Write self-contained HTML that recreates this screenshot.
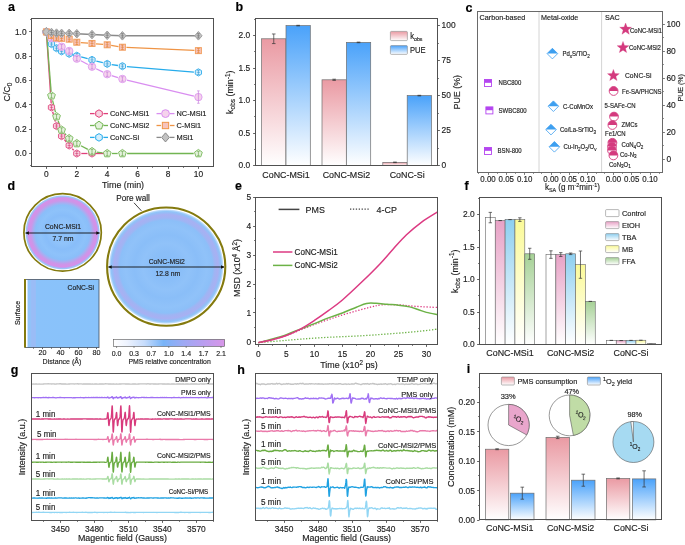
<!DOCTYPE html>
<html><head><meta charset="utf-8"><style>
html,body{margin:0;padding:0;background:#fff;width:685px;height:545px;overflow:hidden;}
svg{display:block;font-family:"Liberation Sans", sans-serif;will-change:transform;}
</style></head><body>
<svg width="685" height="545" viewBox="0 0 685 545" font-family='"Liberation Sans", sans-serif'>
<defs><linearGradient id="gpink" x1="0" y1="0" x2="0" y2="1"><stop offset="0" stop-color="#ea9aa3"/><stop offset="1" stop-color="#ffffff"/></linearGradient><linearGradient id="gblue" x1="0" y1="0" x2="0" y2="1"><stop offset="0" stop-color="#4aa2fa"/><stop offset="1" stop-color="#ffffff"/></linearGradient><radialGradient id="rg1" cx="0.5" cy="0.5" r="0.5">
<stop offset="0" stop-color="#8abff9"/><stop offset="0.3" stop-color="#90c3fa"/><stop offset="0.45" stop-color="#88bdf9"/><stop offset="0.6" stop-color="#8ec2fa"/><stop offset="0.72" stop-color="#8abef9"/>
<stop offset="0.77" stop-color="#a4b0f2"/><stop offset="0.84" stop-color="#cc96e8"/><stop offset="0.905" stop-color="#d690e8"/><stop offset="0.93" stop-color="#c09ef0"/>
<stop offset="0.945" stop-color="#a4bcf6"/><stop offset="0.962" stop-color="#9ac6f8"/><stop offset="0.978" stop-color="#d4e6fc"/><stop offset="0.99" stop-color="#ffffff"/><stop offset="1" stop-color="#ffffff"/></radialGradient><radialGradient id="rg2" cx="0.5" cy="0.5" r="0.5">
<stop offset="0" stop-color="#86bcf8"/><stop offset="0.25" stop-color="#8abef8"/><stop offset="0.4" stop-color="#90c2f9"/><stop offset="0.55" stop-color="#8abef8"/><stop offset="0.7" stop-color="#90c2f9"/><stop offset="0.8" stop-color="#8cbff8"/>
<stop offset="0.84" stop-color="#a0b4f3"/><stop offset="0.895" stop-color="#a8b0f2"/><stop offset="0.925" stop-color="#98baf6"/>
<stop offset="0.95" stop-color="#90c4f8"/><stop offset="0.975" stop-color="#c0dcfb"/><stop offset="0.99" stop-color="#ffffff"/><stop offset="1" stop-color="#ffffff"/></radialGradient><marker id="arw" viewBox="0 0 6 6" refX="5.5" refY="3" markerWidth="4" markerHeight="4" orient="auto-start-reverse"><path d="M0,0 L6,3 L0,6 z" fill="#111"/></marker><linearGradient id="gsurf" x1="0" y1="0" x2="1" y2="0"><stop offset="0" stop-color="#ffffff"/><stop offset="0.028" stop-color="#ffffff"/><stop offset="0.04" stop-color="#90c4f8"/><stop offset="0.075" stop-color="#92c2f8"/><stop offset="0.09" stop-color="#9abcf6"/><stop offset="0.14" stop-color="#9abcf6"/><stop offset="0.155" stop-color="#8ac2fa"/><stop offset="1" stop-color="#88c2fa"/></linearGradient><linearGradient id="gcb" x1="0" y1="0" x2="1" y2="0"><stop offset="0" stop-color="#ffffff"/><stop offset="0.12" stop-color="#eef3fe"/><stop offset="0.28" stop-color="#c6dcfc"/><stop offset="0.45" stop-color="#78b4f8"/><stop offset="0.62" stop-color="#9caaf4"/><stop offset="0.8" stop-color="#b89ef0"/><stop offset="1" stop-color="#d896e8"/></linearGradient><linearGradient id="gctl" x1="0" y1="0" x2="0" y2="1"><stop offset="0" stop-color="#ffffff"/><stop offset="1" stop-color="#ffffff"/></linearGradient><linearGradient id="getoh" x1="0" y1="0" x2="0" y2="1"><stop offset="0" stop-color="#e8a2c6"/><stop offset="1" stop-color="#ffffff"/></linearGradient><linearGradient id="gtba" x1="0" y1="0" x2="0" y2="1"><stop offset="0" stop-color="#8ecff0"/><stop offset="1" stop-color="#ffffff"/></linearGradient><linearGradient id="gmb" x1="0" y1="0" x2="0" y2="1"><stop offset="0" stop-color="#fbfa98"/><stop offset="1" stop-color="#ffffff"/></linearGradient><linearGradient id="gffa" x1="0" y1="0" x2="0" y2="1"><stop offset="0" stop-color="#a6d196"/><stop offset="1" stop-color="#ffffff"/></linearGradient></defs>
<rect width="685" height="545" fill="#ffffff"/>
<text x="8" y="11.2" font-size="12.5" text-anchor="start" fill="#000" stroke="#000" stroke-width="0.15" font-weight="bold" transform="translate(8 11.2) scale(1 1.08) translate(-8 -11.2)">a</text>
<line x1="46.5" y1="166.5" x2="46.5" y2="168.9" stroke="#505050" stroke-width="0.9"/>
<text x="46.4" y="177.4" font-size="8.4" text-anchor="middle" fill="#1e1e1e" stroke="#1e1e1e" stroke-width="0.15" transform="translate(46.4 177.4) scale(1 1.08) translate(-46.4 -177.4)">0</text>
<line x1="76.5" y1="166.5" x2="76.5" y2="168.9" stroke="#505050" stroke-width="0.9"/>
<text x="76.8" y="177.4" font-size="8.4" text-anchor="middle" fill="#1e1e1e" stroke="#1e1e1e" stroke-width="0.15" transform="translate(76.8 177.4) scale(1 1.08) translate(-76.8 -177.4)">2</text>
<line x1="107.5" y1="166.5" x2="107.5" y2="168.9" stroke="#505050" stroke-width="0.9"/>
<text x="107.2" y="177.4" font-size="8.4" text-anchor="middle" fill="#1e1e1e" stroke="#1e1e1e" stroke-width="0.15" transform="translate(107.2 177.4) scale(1 1.08) translate(-107.2 -177.4)">4</text>
<line x1="137.5" y1="166.5" x2="137.5" y2="168.9" stroke="#505050" stroke-width="0.9"/>
<text x="137.6" y="177.4" font-size="8.4" text-anchor="middle" fill="#1e1e1e" stroke="#1e1e1e" stroke-width="0.15" transform="translate(137.6 177.4) scale(1 1.08) translate(-137.6 -177.4)">6</text>
<line x1="168.5" y1="166.5" x2="168.5" y2="168.9" stroke="#505050" stroke-width="0.9"/>
<text x="168" y="177.4" font-size="8.4" text-anchor="middle" fill="#1e1e1e" stroke="#1e1e1e" stroke-width="0.15" transform="translate(168 177.4) scale(1 1.08) translate(-168 -177.4)">8</text>
<line x1="198.5" y1="166.5" x2="198.5" y2="168.9" stroke="#505050" stroke-width="0.9"/>
<text x="198.4" y="177.4" font-size="8.4" text-anchor="middle" fill="#1e1e1e" stroke="#1e1e1e" stroke-width="0.15" transform="translate(198.4 177.4) scale(1 1.08) translate(-198.4 -177.4)">10</text>
<line x1="61.5" y1="166.5" x2="61.5" y2="167.8" stroke="#505050" stroke-width="0.9"/>
<line x1="92.5" y1="166.5" x2="92.5" y2="167.8" stroke="#505050" stroke-width="0.9"/>
<line x1="122.5" y1="166.5" x2="122.5" y2="167.8" stroke="#505050" stroke-width="0.9"/>
<line x1="152.5" y1="166.5" x2="152.5" y2="167.8" stroke="#505050" stroke-width="0.9"/>
<line x1="183.5" y1="166.5" x2="183.5" y2="167.8" stroke="#505050" stroke-width="0.9"/>
<line x1="29.1" y1="153.5" x2="31.5" y2="153.5" stroke="#505050" stroke-width="0.9"/>
<text x="26.6" y="156.36" font-size="8.4" text-anchor="end" fill="#1e1e1e" stroke="#1e1e1e" stroke-width="0.15" transform="translate(26.6 156.36) scale(1 1.08) translate(-26.6 -156.36)">0.0</text>
<line x1="29.1" y1="129.5" x2="31.5" y2="129.5" stroke="#505050" stroke-width="0.9"/>
<text x="26.6" y="132.04" font-size="8.4" text-anchor="end" fill="#1e1e1e" stroke="#1e1e1e" stroke-width="0.15" transform="translate(26.6 132.04) scale(1 1.08) translate(-26.6 -132.04)">0.2</text>
<line x1="29.1" y1="104.5" x2="31.5" y2="104.5" stroke="#505050" stroke-width="0.9"/>
<text x="26.6" y="107.72" font-size="8.4" text-anchor="end" fill="#1e1e1e" stroke="#1e1e1e" stroke-width="0.15" transform="translate(26.6 107.72) scale(1 1.08) translate(-26.6 -107.72)">0.4</text>
<line x1="29.1" y1="80.5" x2="31.5" y2="80.5" stroke="#505050" stroke-width="0.9"/>
<text x="26.6" y="83.4" font-size="8.4" text-anchor="end" fill="#1e1e1e" stroke="#1e1e1e" stroke-width="0.15" transform="translate(26.6 83.4) scale(1 1.08) translate(-26.6 -83.4)">0.6</text>
<line x1="29.1" y1="56.5" x2="31.5" y2="56.5" stroke="#505050" stroke-width="0.9"/>
<text x="26.6" y="59.08" font-size="8.4" text-anchor="end" fill="#1e1e1e" stroke="#1e1e1e" stroke-width="0.15" transform="translate(26.6 59.08) scale(1 1.08) translate(-26.6 -59.08)">0.8</text>
<line x1="29.1" y1="31.5" x2="31.5" y2="31.5" stroke="#505050" stroke-width="0.9"/>
<text x="26.6" y="34.76" font-size="8.4" text-anchor="end" fill="#1e1e1e" stroke="#1e1e1e" stroke-width="0.15" transform="translate(26.6 34.76) scale(1 1.08) translate(-26.6 -34.76)">1.0</text>
<line x1="30.2" y1="165.5" x2="31.5" y2="165.5" stroke="#505050" stroke-width="0.9"/>
<line x1="30.2" y1="141.5" x2="31.5" y2="141.5" stroke="#505050" stroke-width="0.9"/>
<line x1="30.2" y1="117.5" x2="31.5" y2="117.5" stroke="#505050" stroke-width="0.9"/>
<line x1="30.2" y1="92.5" x2="31.5" y2="92.5" stroke="#505050" stroke-width="0.9"/>
<line x1="30.2" y1="68.5" x2="31.5" y2="68.5" stroke="#505050" stroke-width="0.9"/>
<line x1="30.2" y1="44.5" x2="31.5" y2="44.5" stroke="#505050" stroke-width="0.9"/>
<line x1="30.2" y1="19.5" x2="31.5" y2="19.5" stroke="#505050" stroke-width="0.9"/>
<text x="123" y="187.6" font-size="8.9" text-anchor="middle" fill="#1e1e1e" stroke="#1e1e1e" stroke-width="0.15" transform="translate(123 187.6) scale(1 1.08) translate(-123 -187.6)">Time (min)</text>
<text x="9.8" y="92" font-size="8.9" text-anchor="middle" fill="#1e1e1e" stroke="#1e1e1e" stroke-width="0.15" transform="translate(9.8 92) rotate(-90) scale(1 1.08) translate(-9.8 -92)">C/C<tspan font-size="6.5" dy="2">0</tspan></text>
<line x1="46.7" y1="36.39" x2="51.17" y2="102.92" stroke="#e0407a" stroke-width="1.3" stroke-linecap="butt"/>
<line x1="52.65" y1="111.76" x2="55.35" y2="121.68" stroke="#e0407a" stroke-width="1.3" stroke-linecap="butt"/>
<line x1="58.55" y1="130.04" x2="59.58" y2="132.09" stroke="#e0407a" stroke-width="1.3" stroke-linecap="butt"/>
<line x1="64.44" y1="139.61" x2="66.36" y2="141.98" stroke="#e0407a" stroke-width="1.3" stroke-linecap="butt"/>
<line x1="72.29" y1="148.74" x2="73.71" y2="150.23" stroke="#e0407a" stroke-width="1.3" stroke-linecap="butt"/>
<line x1="81.3" y1="153.5" x2="87.5" y2="153.5" stroke="#e0407a" stroke-width="1.3" stroke-linecap="butt"/>
<line x1="92.1" y1="153.5" x2="107.1" y2="153.5" stroke="#e0407a" stroke-width="1.3" stroke-linecap="butt"/>
<line x1="46.77" y1="36.59" x2="51.09" y2="91.05" stroke="#72b552" stroke-width="1.3" stroke-linecap="butt"/>
<line x1="52.57" y1="100.31" x2="55.43" y2="112.09" stroke="#72b552" stroke-width="1.3" stroke-linecap="butt"/>
<line x1="58.2" y1="121.05" x2="59.94" y2="125.64" stroke="#72b552" stroke-width="1.3" stroke-linecap="butt"/>
<line x1="64.73" y1="133.54" x2="66.07" y2="135.04" stroke="#72b552" stroke-width="1.3" stroke-linecap="butt"/>
<line x1="80.96" y1="145.72" x2="87.84" y2="149.36" stroke="#72b552" stroke-width="1.3" stroke-linecap="butt"/>
<line x1="96.66" y1="152.15" x2="102.54" y2="152.9" stroke="#72b552" stroke-width="1.3" stroke-linecap="butt"/>
<line x1="111.9" y1="153.5" x2="117.7" y2="153.5" stroke="#72b552" stroke-width="1.3" stroke-linecap="butt"/>
<line x1="127.1" y1="153.5" x2="193.7" y2="153.5" stroke="#72b552" stroke-width="1.3" stroke-linecap="butt"/>
<line x1="48.13" y1="36.05" x2="49.74" y2="39.91" stroke="#27aceb" stroke-width="1.3" stroke-linecap="butt"/>
<line x1="81.14" y1="56.91" x2="87.66" y2="58.69" stroke="#27aceb" stroke-width="1.3" stroke-linecap="butt"/>
<line x1="96.35" y1="61.02" x2="102.85" y2="62.73" stroke="#27aceb" stroke-width="1.3" stroke-linecap="butt"/>
<line x1="111.65" y1="64.56" x2="117.95" y2="65.51" stroke="#27aceb" stroke-width="1.3" stroke-linecap="butt"/>
<line x1="126.89" y1="66.56" x2="193.91" y2="72.03" stroke="#27aceb" stroke-width="1.3" stroke-linecap="butt"/>
<line x1="58.91" y1="42.28" x2="59.22" y2="42.8" stroke="#d98ef0" stroke-width="1.3" stroke-linecap="butt"/>
<line x1="72.44" y1="54.26" x2="73.56" y2="55.39" stroke="#d98ef0" stroke-width="1.3" stroke-linecap="butt"/>
<line x1="80.87" y1="60.8" x2="87.93" y2="64.53" stroke="#d98ef0" stroke-width="1.3" stroke-linecap="butt"/>
<line x1="96.12" y1="68.72" x2="103.08" y2="72.17" stroke="#d98ef0" stroke-width="1.3" stroke-linecap="butt"/>
<line x1="111.59" y1="75.59" x2="118.01" y2="77.59" stroke="#d98ef0" stroke-width="1.3" stroke-linecap="butt"/>
<line x1="126.87" y1="80.03" x2="193.93" y2="96.01" stroke="#d98ef0" stroke-width="1.3" stroke-linecap="butt"/>
<line x1="80.79" y1="42.55" x2="88.01" y2="43.13" stroke="#ef9445" stroke-width="1.3" stroke-linecap="butt"/>
<line x1="95.98" y1="43.8" x2="103.22" y2="44.44" stroke="#ef9445" stroke-width="1.3" stroke-linecap="butt"/>
<line x1="111.15" y1="45.42" x2="118.45" y2="46.59" stroke="#ef9445" stroke-width="1.3" stroke-linecap="butt"/>
<line x1="126.4" y1="47.4" x2="194.4" y2="50.45" stroke="#ef9445" stroke-width="1.3" stroke-linecap="butt"/>
<line x1="46.4" y1="31.9" x2="51.47" y2="32.51" stroke="#8a8a8a" stroke-width="1.5" stroke-linecap="butt"/>
<line x1="51.47" y1="32.51" x2="56.53" y2="33.12" stroke="#8a8a8a" stroke-width="1.5" stroke-linecap="butt"/>
<line x1="56.53" y1="33.12" x2="61.6" y2="33.36" stroke="#8a8a8a" stroke-width="1.5" stroke-linecap="butt"/>
<line x1="61.6" y1="33.36" x2="69.2" y2="33.36" stroke="#8a8a8a" stroke-width="1.5" stroke-linecap="butt"/>
<line x1="69.2" y1="33.36" x2="76.8" y2="33.72" stroke="#8a8a8a" stroke-width="1.5" stroke-linecap="butt"/>
<line x1="76.8" y1="33.72" x2="92" y2="34.58" stroke="#8a8a8a" stroke-width="1.5" stroke-linecap="butt"/>
<line x1="92" y1="34.58" x2="107.2" y2="35.3" stroke="#8a8a8a" stroke-width="1.5" stroke-linecap="butt"/>
<line x1="107.2" y1="35.3" x2="122.4" y2="35.79" stroke="#8a8a8a" stroke-width="1.5" stroke-linecap="butt"/>
<line x1="122.4" y1="35.79" x2="198.4" y2="35.79" stroke="#8a8a8a" stroke-width="1.5" stroke-linecap="butt"/>
<polygon points="46.4,28.3 49.52,30.1 49.52,33.7 46.4,35.5 43.28,33.7 43.28,30.1" fill="#f7d3e0" stroke="#e45a8c" stroke-width="1.0"/>
<polygon points="51.47,103.81 54.58,105.61 54.58,109.21 51.47,111.01 48.35,109.21 48.35,105.61" fill="#f7d3e0" stroke="#e45a8c" stroke-width="1.0"/>
<line x1="51.47" y1="105.21" x2="51.47" y2="109.61" stroke="#d0306a" stroke-width="0.6"/>
<line x1="50.17" y1="105.21" x2="52.77" y2="105.21" stroke="#d0306a" stroke-width="0.6"/>
<line x1="50.17" y1="109.61" x2="52.77" y2="109.61" stroke="#d0306a" stroke-width="0.6"/>
<line x1="49.87" y1="107.41" x2="53.07" y2="107.41" stroke="#d0306a" stroke-width="0.5"/>
<polygon points="56.53,122.42 59.65,124.22 59.65,127.82 56.53,129.62 53.42,127.82 53.42,124.22" fill="#f7d3e0" stroke="#e45a8c" stroke-width="1.0"/>
<line x1="56.53" y1="123.82" x2="56.53" y2="128.22" stroke="#d0306a" stroke-width="0.6"/>
<line x1="55.23" y1="123.82" x2="57.83" y2="123.82" stroke="#d0306a" stroke-width="0.6"/>
<line x1="55.23" y1="128.22" x2="57.83" y2="128.22" stroke="#d0306a" stroke-width="0.6"/>
<line x1="54.93" y1="126.02" x2="58.13" y2="126.02" stroke="#d0306a" stroke-width="0.5"/>
<polygon points="61.6,132.51 64.72,134.31 64.72,137.91 61.6,139.71 58.48,137.91 58.48,134.31" fill="#f7d3e0" stroke="#e45a8c" stroke-width="1.0"/>
<line x1="61.6" y1="133.91" x2="61.6" y2="138.31" stroke="#d0306a" stroke-width="0.6"/>
<line x1="60.3" y1="133.91" x2="62.9" y2="133.91" stroke="#d0306a" stroke-width="0.6"/>
<line x1="60.3" y1="138.31" x2="62.9" y2="138.31" stroke="#d0306a" stroke-width="0.6"/>
<line x1="60" y1="136.11" x2="63.2" y2="136.11" stroke="#d0306a" stroke-width="0.5"/>
<polygon points="69.2,141.87 72.32,143.67 72.32,147.27 69.2,149.07 66.08,147.27 66.08,143.67" fill="#f7d3e0" stroke="#e45a8c" stroke-width="1.0"/>
<line x1="69.2" y1="143.27" x2="69.2" y2="147.67" stroke="#d0306a" stroke-width="0.6"/>
<line x1="67.9" y1="143.27" x2="70.5" y2="143.27" stroke="#d0306a" stroke-width="0.6"/>
<line x1="67.9" y1="147.67" x2="70.5" y2="147.67" stroke="#d0306a" stroke-width="0.6"/>
<line x1="67.6" y1="145.47" x2="70.8" y2="145.47" stroke="#d0306a" stroke-width="0.5"/>
<polygon points="76.8,149.9 79.92,151.7 79.92,155.3 76.8,157.1 73.68,155.3 73.68,151.7" fill="#f7d3e0" stroke="#e45a8c" stroke-width="1.0"/>
<line x1="76.8" y1="151.3" x2="76.8" y2="155.7" stroke="#d0306a" stroke-width="0.6"/>
<line x1="75.5" y1="151.3" x2="78.1" y2="151.3" stroke="#d0306a" stroke-width="0.6"/>
<line x1="75.5" y1="155.7" x2="78.1" y2="155.7" stroke="#d0306a" stroke-width="0.6"/>
<line x1="75.2" y1="153.5" x2="78.4" y2="153.5" stroke="#d0306a" stroke-width="0.5"/>
<polygon points="92,149.9 95.12,151.7 95.12,155.3 92,157.1 88.88,155.3 88.88,151.7" fill="#f7d3e0" stroke="#e45a8c" stroke-width="1.0"/>
<line x1="92" y1="151.3" x2="92" y2="155.7" stroke="#d0306a" stroke-width="0.6"/>
<line x1="90.7" y1="151.3" x2="93.3" y2="151.3" stroke="#d0306a" stroke-width="0.6"/>
<line x1="90.7" y1="155.7" x2="93.3" y2="155.7" stroke="#d0306a" stroke-width="0.6"/>
<line x1="90.4" y1="153.5" x2="93.6" y2="153.5" stroke="#d0306a" stroke-width="0.5"/>
<polygon points="46.4,27.81 50.29,30.63 48.81,35.21 43.99,35.21 42.51,30.63" fill="#e3f1db" stroke="#84bf68" stroke-width="1.0"/>
<polygon points="51.47,91.65 55.36,94.47 53.87,99.05 49.06,99.05 47.57,94.47" fill="#e3f1db" stroke="#84bf68" stroke-width="1.0"/>
<line x1="51.47" y1="93.54" x2="51.47" y2="97.94" stroke="#5fa040" stroke-width="0.6"/>
<line x1="50.17" y1="93.54" x2="52.77" y2="93.54" stroke="#5fa040" stroke-width="0.6"/>
<line x1="50.17" y1="97.94" x2="52.77" y2="97.94" stroke="#5fa040" stroke-width="0.6"/>
<polygon points="56.53,112.56 60.43,115.39 58.94,119.97 54.13,119.97 52.64,115.39" fill="#e3f1db" stroke="#84bf68" stroke-width="1.0"/>
<line x1="56.53" y1="114.46" x2="56.53" y2="118.86" stroke="#5fa040" stroke-width="0.6"/>
<line x1="55.23" y1="114.46" x2="57.83" y2="114.46" stroke="#5fa040" stroke-width="0.6"/>
<line x1="55.23" y1="118.86" x2="57.83" y2="118.86" stroke="#5fa040" stroke-width="0.6"/>
<polygon points="61.6,125.94 65.49,128.77 64.01,133.34 59.19,133.34 57.71,128.77" fill="#e3f1db" stroke="#84bf68" stroke-width="1.0"/>
<line x1="61.6" y1="127.83" x2="61.6" y2="132.23" stroke="#5fa040" stroke-width="0.6"/>
<line x1="60.3" y1="127.83" x2="62.9" y2="127.83" stroke="#5fa040" stroke-width="0.6"/>
<line x1="60.3" y1="132.23" x2="62.9" y2="132.23" stroke="#5fa040" stroke-width="0.6"/>
<polygon points="69.2,134.45 73.09,137.28 71.61,141.86 66.79,141.86 65.31,137.28" fill="#e3f1db" stroke="#84bf68" stroke-width="1.0"/>
<line x1="69.2" y1="136.34" x2="69.2" y2="140.74" stroke="#5fa040" stroke-width="0.6"/>
<line x1="67.9" y1="136.34" x2="70.5" y2="136.34" stroke="#5fa040" stroke-width="0.6"/>
<line x1="67.9" y1="140.74" x2="70.5" y2="140.74" stroke="#5fa040" stroke-width="0.6"/>
<polygon points="76.8,139.43 80.69,142.26 79.21,146.84 74.39,146.84 72.91,142.26" fill="#e3f1db" stroke="#84bf68" stroke-width="1.0"/>
<line x1="76.8" y1="141.33" x2="76.8" y2="145.73" stroke="#5fa040" stroke-width="0.6"/>
<line x1="75.5" y1="141.33" x2="78.1" y2="141.33" stroke="#5fa040" stroke-width="0.6"/>
<line x1="75.5" y1="145.73" x2="78.1" y2="145.73" stroke="#5fa040" stroke-width="0.6"/>
<polygon points="92,147.46 95.89,150.29 94.41,154.87 89.59,154.87 88.11,150.29" fill="#e3f1db" stroke="#84bf68" stroke-width="1.0"/>
<line x1="92" y1="149.35" x2="92" y2="153.75" stroke="#5fa040" stroke-width="0.6"/>
<line x1="90.7" y1="149.35" x2="93.3" y2="149.35" stroke="#5fa040" stroke-width="0.6"/>
<line x1="90.7" y1="153.75" x2="93.3" y2="153.75" stroke="#5fa040" stroke-width="0.6"/>
<polygon points="107.2,149.41 111.09,152.23 109.61,156.81 104.79,156.81 103.31,152.23" fill="#e3f1db" stroke="#84bf68" stroke-width="1.0"/>
<line x1="107.2" y1="151.3" x2="107.2" y2="155.7" stroke="#5fa040" stroke-width="0.6"/>
<line x1="105.9" y1="151.3" x2="108.5" y2="151.3" stroke="#5fa040" stroke-width="0.6"/>
<line x1="105.9" y1="155.7" x2="108.5" y2="155.7" stroke="#5fa040" stroke-width="0.6"/>
<polygon points="122.4,149.41 126.29,152.23 124.81,156.81 119.99,156.81 118.51,152.23" fill="#e3f1db" stroke="#84bf68" stroke-width="1.0"/>
<line x1="122.4" y1="151.3" x2="122.4" y2="155.7" stroke="#5fa040" stroke-width="0.6"/>
<line x1="121.1" y1="151.3" x2="123.7" y2="151.3" stroke="#5fa040" stroke-width="0.6"/>
<line x1="121.1" y1="155.7" x2="123.7" y2="155.7" stroke="#5fa040" stroke-width="0.6"/>
<polygon points="198.4,149.41 202.29,152.23 200.81,156.81 195.99,156.81 194.51,152.23" fill="#e3f1db" stroke="#84bf68" stroke-width="1.0"/>
<line x1="198.4" y1="151.3" x2="198.4" y2="155.7" stroke="#5fa040" stroke-width="0.6"/>
<line x1="197.1" y1="151.3" x2="199.7" y2="151.3" stroke="#5fa040" stroke-width="0.6"/>
<line x1="197.1" y1="155.7" x2="199.7" y2="155.7" stroke="#5fa040" stroke-width="0.6"/>
<polygon points="46.4,28.3 49.52,30.1 49.52,33.7 46.4,35.5 43.28,33.7 43.28,30.1" fill="#d5eefc" stroke="#40b4ee" stroke-width="1.0"/>
<polygon points="51.47,40.46 54.58,42.26 54.58,45.86 51.47,47.66 48.35,45.86 48.35,42.26" fill="#d5eefc" stroke="#40b4ee" stroke-width="1.0"/>
<line x1="51.47" y1="41.86" x2="51.47" y2="46.26" stroke="#2090d0" stroke-width="0.6"/>
<line x1="50.17" y1="41.86" x2="52.77" y2="41.86" stroke="#2090d0" stroke-width="0.6"/>
<line x1="50.17" y1="46.26" x2="52.77" y2="46.26" stroke="#2090d0" stroke-width="0.6"/>
<line x1="49.87" y1="44.06" x2="53.07" y2="44.06" stroke="#2090d0" stroke-width="0.5"/>
<polygon points="56.53,44.59 59.65,46.39 59.65,49.99 56.53,51.79 53.42,49.99 53.42,46.39" fill="#d5eefc" stroke="#40b4ee" stroke-width="1.0"/>
<line x1="56.53" y1="45.99" x2="56.53" y2="50.39" stroke="#2090d0" stroke-width="0.6"/>
<line x1="55.23" y1="45.99" x2="57.83" y2="45.99" stroke="#2090d0" stroke-width="0.6"/>
<line x1="55.23" y1="50.39" x2="57.83" y2="50.39" stroke="#2090d0" stroke-width="0.6"/>
<line x1="54.93" y1="48.19" x2="58.13" y2="48.19" stroke="#2090d0" stroke-width="0.5"/>
<polygon points="61.6,47.76 64.72,49.56 64.72,53.16 61.6,54.96 58.48,53.16 58.48,49.56" fill="#d5eefc" stroke="#40b4ee" stroke-width="1.0"/>
<line x1="61.6" y1="49.16" x2="61.6" y2="53.56" stroke="#2090d0" stroke-width="0.6"/>
<line x1="60.3" y1="49.16" x2="62.9" y2="49.16" stroke="#2090d0" stroke-width="0.6"/>
<line x1="60.3" y1="53.56" x2="62.9" y2="53.56" stroke="#2090d0" stroke-width="0.6"/>
<line x1="60" y1="51.36" x2="63.2" y2="51.36" stroke="#2090d0" stroke-width="0.5"/>
<polygon points="69.2,50.19 72.32,51.99 72.32,55.59 69.2,57.39 66.08,55.59 66.08,51.99" fill="#d5eefc" stroke="#40b4ee" stroke-width="1.0"/>
<line x1="69.2" y1="51.59" x2="69.2" y2="55.99" stroke="#2090d0" stroke-width="0.6"/>
<line x1="67.9" y1="51.59" x2="70.5" y2="51.59" stroke="#2090d0" stroke-width="0.6"/>
<line x1="67.9" y1="55.99" x2="70.5" y2="55.99" stroke="#2090d0" stroke-width="0.6"/>
<line x1="67.6" y1="53.79" x2="70.8" y2="53.79" stroke="#2090d0" stroke-width="0.5"/>
<polygon points="76.8,52.13 79.92,53.93 79.92,57.53 76.8,59.33 73.68,57.53 73.68,53.93" fill="#d5eefc" stroke="#40b4ee" stroke-width="1.0"/>
<line x1="76.8" y1="53.53" x2="76.8" y2="57.93" stroke="#2090d0" stroke-width="0.6"/>
<line x1="75.5" y1="53.53" x2="78.1" y2="53.53" stroke="#2090d0" stroke-width="0.6"/>
<line x1="75.5" y1="57.93" x2="78.1" y2="57.93" stroke="#2090d0" stroke-width="0.6"/>
<line x1="75.2" y1="55.73" x2="78.4" y2="55.73" stroke="#2090d0" stroke-width="0.5"/>
<polygon points="92,56.27 95.12,58.07 95.12,61.67 92,63.47 88.88,61.67 88.88,58.07" fill="#d5eefc" stroke="#40b4ee" stroke-width="1.0"/>
<line x1="92" y1="57.67" x2="92" y2="62.07" stroke="#2090d0" stroke-width="0.6"/>
<line x1="90.7" y1="57.67" x2="93.3" y2="57.67" stroke="#2090d0" stroke-width="0.6"/>
<line x1="90.7" y1="62.07" x2="93.3" y2="62.07" stroke="#2090d0" stroke-width="0.6"/>
<line x1="90.4" y1="59.87" x2="93.6" y2="59.87" stroke="#2090d0" stroke-width="0.5"/>
<polygon points="107.2,60.28 110.32,62.08 110.32,65.68 107.2,67.48 104.08,65.68 104.08,62.08" fill="#d5eefc" stroke="#40b4ee" stroke-width="1.0"/>
<line x1="107.2" y1="61.68" x2="107.2" y2="66.08" stroke="#2090d0" stroke-width="0.6"/>
<line x1="105.9" y1="61.68" x2="108.5" y2="61.68" stroke="#2090d0" stroke-width="0.6"/>
<line x1="105.9" y1="66.08" x2="108.5" y2="66.08" stroke="#2090d0" stroke-width="0.6"/>
<line x1="105.6" y1="63.88" x2="108.8" y2="63.88" stroke="#2090d0" stroke-width="0.5"/>
<polygon points="122.4,62.59 125.52,64.39 125.52,67.99 122.4,69.79 119.28,67.99 119.28,64.39" fill="#d5eefc" stroke="#40b4ee" stroke-width="1.0"/>
<line x1="122.4" y1="63.99" x2="122.4" y2="68.39" stroke="#2090d0" stroke-width="0.6"/>
<line x1="121.1" y1="63.99" x2="123.7" y2="63.99" stroke="#2090d0" stroke-width="0.6"/>
<line x1="121.1" y1="68.39" x2="123.7" y2="68.39" stroke="#2090d0" stroke-width="0.6"/>
<line x1="120.8" y1="66.19" x2="124" y2="66.19" stroke="#2090d0" stroke-width="0.5"/>
<polygon points="198.4,68.79 201.52,70.59 201.52,74.19 198.4,75.99 195.28,74.19 195.28,70.59" fill="#d5eefc" stroke="#40b4ee" stroke-width="1.0"/>
<line x1="198.4" y1="70.19" x2="198.4" y2="74.59" stroke="#2090d0" stroke-width="0.6"/>
<line x1="197.1" y1="70.19" x2="199.7" y2="70.19" stroke="#2090d0" stroke-width="0.6"/>
<line x1="197.1" y1="74.59" x2="199.7" y2="74.59" stroke="#2090d0" stroke-width="0.6"/>
<line x1="196.8" y1="72.39" x2="200" y2="72.39" stroke="#2090d0" stroke-width="0.5"/>
<circle cx="46.4" cy="31.9" r="3.7" fill="#f5d3ec" stroke="#e0a0f0" stroke-width="1.0"/>
<circle cx="51.47" cy="37.98" r="3.7" fill="#f5d3ec" stroke="#e0a0f0" stroke-width="1.0"/>
<line x1="51.47" y1="35.78" x2="51.47" y2="40.18" stroke="#c070d8" stroke-width="0.6"/>
<line x1="50.17" y1="35.78" x2="52.77" y2="35.78" stroke="#c070d8" stroke-width="0.6"/>
<line x1="50.17" y1="40.18" x2="52.77" y2="40.18" stroke="#c070d8" stroke-width="0.6"/>
<circle cx="56.53" cy="38.34" r="3.7" fill="#f5d3ec" stroke="#e0a0f0" stroke-width="1.0"/>
<line x1="56.53" y1="36.14" x2="56.53" y2="40.54" stroke="#c070d8" stroke-width="0.6"/>
<line x1="55.23" y1="36.14" x2="57.83" y2="36.14" stroke="#c070d8" stroke-width="0.6"/>
<line x1="55.23" y1="40.54" x2="57.83" y2="40.54" stroke="#c070d8" stroke-width="0.6"/>
<circle cx="61.6" cy="46.74" r="3.7" fill="#f5d3ec" stroke="#e0a0f0" stroke-width="1.0"/>
<line x1="61.6" y1="44.54" x2="61.6" y2="48.94" stroke="#c070d8" stroke-width="0.6"/>
<line x1="60.3" y1="44.54" x2="62.9" y2="44.54" stroke="#c070d8" stroke-width="0.6"/>
<line x1="60.3" y1="48.94" x2="62.9" y2="48.94" stroke="#c070d8" stroke-width="0.6"/>
<circle cx="69.2" cy="50.99" r="3.7" fill="#f5d3ec" stroke="#e0a0f0" stroke-width="1.0"/>
<line x1="69.2" y1="48.79" x2="69.2" y2="53.19" stroke="#c070d8" stroke-width="0.6"/>
<line x1="67.9" y1="48.79" x2="70.5" y2="48.79" stroke="#c070d8" stroke-width="0.6"/>
<line x1="67.9" y1="53.19" x2="70.5" y2="53.19" stroke="#c070d8" stroke-width="0.6"/>
<circle cx="76.8" cy="58.65" r="3.7" fill="#f5d3ec" stroke="#e0a0f0" stroke-width="1.0"/>
<line x1="76.8" y1="56.45" x2="76.8" y2="60.85" stroke="#c070d8" stroke-width="0.6"/>
<line x1="75.5" y1="56.45" x2="78.1" y2="56.45" stroke="#c070d8" stroke-width="0.6"/>
<line x1="75.5" y1="60.85" x2="78.1" y2="60.85" stroke="#c070d8" stroke-width="0.6"/>
<circle cx="92" cy="66.68" r="3.7" fill="#f5d3ec" stroke="#e0a0f0" stroke-width="1.0"/>
<line x1="92" y1="64.48" x2="92" y2="68.88" stroke="#c070d8" stroke-width="0.6"/>
<line x1="90.7" y1="64.48" x2="93.3" y2="64.48" stroke="#c070d8" stroke-width="0.6"/>
<line x1="90.7" y1="68.88" x2="93.3" y2="68.88" stroke="#c070d8" stroke-width="0.6"/>
<circle cx="107.2" cy="74.22" r="3.7" fill="#f5d3ec" stroke="#e0a0f0" stroke-width="1.0"/>
<line x1="107.2" y1="72.02" x2="107.2" y2="76.42" stroke="#c070d8" stroke-width="0.6"/>
<line x1="105.9" y1="72.02" x2="108.5" y2="72.02" stroke="#c070d8" stroke-width="0.6"/>
<line x1="105.9" y1="76.42" x2="108.5" y2="76.42" stroke="#c070d8" stroke-width="0.6"/>
<circle cx="122.4" cy="78.96" r="3.7" fill="#f5d3ec" stroke="#e0a0f0" stroke-width="1.0"/>
<line x1="122.4" y1="76.76" x2="122.4" y2="81.16" stroke="#c070d8" stroke-width="0.6"/>
<line x1="121.1" y1="76.76" x2="123.7" y2="76.76" stroke="#c070d8" stroke-width="0.6"/>
<line x1="121.1" y1="81.16" x2="123.7" y2="81.16" stroke="#c070d8" stroke-width="0.6"/>
<circle cx="198.4" cy="97.08" r="3.7" fill="#f5d3ec" stroke="#e0a0f0" stroke-width="1.0"/>
<line x1="198.4" y1="90.88" x2="198.4" y2="103.28" stroke="#c070d8" stroke-width="0.6"/>
<line x1="197.1" y1="90.88" x2="199.7" y2="90.88" stroke="#c070d8" stroke-width="0.6"/>
<line x1="197.1" y1="103.28" x2="199.7" y2="103.28" stroke="#c070d8" stroke-width="0.6"/>
<rect x="43.41" y="28.91" width="5.98" height="5.98" fill="#f6c3bd" stroke="#f2a060" stroke-width="1.0"/>
<rect x="48.47" y="32.56" width="5.98" height="5.98" fill="#f6c3bd" stroke="#f2a060" stroke-width="1.0"/>
<line x1="51.47" y1="33.35" x2="51.47" y2="37.75" stroke="#e07a20" stroke-width="0.6"/>
<line x1="50.17" y1="33.35" x2="52.77" y2="33.35" stroke="#e07a20" stroke-width="0.6"/>
<line x1="50.17" y1="37.75" x2="52.77" y2="37.75" stroke="#e07a20" stroke-width="0.6"/>
<line x1="49.87" y1="35.55" x2="53.07" y2="35.55" stroke="#e07a20" stroke-width="0.5"/>
<rect x="53.54" y="34.99" width="5.98" height="5.98" fill="#f6c3bd" stroke="#f2a060" stroke-width="1.0"/>
<line x1="56.53" y1="35.78" x2="56.53" y2="40.18" stroke="#e07a20" stroke-width="0.6"/>
<line x1="55.23" y1="35.78" x2="57.83" y2="35.78" stroke="#e07a20" stroke-width="0.6"/>
<line x1="55.23" y1="40.18" x2="57.83" y2="40.18" stroke="#e07a20" stroke-width="0.6"/>
<line x1="54.93" y1="37.98" x2="58.13" y2="37.98" stroke="#e07a20" stroke-width="0.5"/>
<rect x="58.61" y="35.35" width="5.98" height="5.98" fill="#f6c3bd" stroke="#f2a060" stroke-width="1.0"/>
<line x1="61.6" y1="36.14" x2="61.6" y2="40.54" stroke="#e07a20" stroke-width="0.6"/>
<line x1="60.3" y1="36.14" x2="62.9" y2="36.14" stroke="#e07a20" stroke-width="0.6"/>
<line x1="60.3" y1="40.54" x2="62.9" y2="40.54" stroke="#e07a20" stroke-width="0.6"/>
<line x1="60" y1="38.34" x2="63.2" y2="38.34" stroke="#e07a20" stroke-width="0.5"/>
<rect x="66.21" y="36.2" width="5.98" height="5.98" fill="#f6c3bd" stroke="#f2a060" stroke-width="1.0"/>
<line x1="69.2" y1="37" x2="69.2" y2="41.4" stroke="#e07a20" stroke-width="0.6"/>
<line x1="67.9" y1="37" x2="70.5" y2="37" stroke="#e07a20" stroke-width="0.6"/>
<line x1="67.9" y1="41.4" x2="70.5" y2="41.4" stroke="#e07a20" stroke-width="0.6"/>
<line x1="67.6" y1="39.2" x2="70.8" y2="39.2" stroke="#e07a20" stroke-width="0.5"/>
<rect x="73.81" y="39.24" width="5.98" height="5.98" fill="#f6c3bd" stroke="#f2a060" stroke-width="1.0"/>
<line x1="76.8" y1="40.04" x2="76.8" y2="44.44" stroke="#e07a20" stroke-width="0.6"/>
<line x1="75.5" y1="40.04" x2="78.1" y2="40.04" stroke="#e07a20" stroke-width="0.6"/>
<line x1="75.5" y1="44.44" x2="78.1" y2="44.44" stroke="#e07a20" stroke-width="0.6"/>
<line x1="75.2" y1="42.24" x2="78.4" y2="42.24" stroke="#e07a20" stroke-width="0.5"/>
<rect x="89.01" y="40.46" width="5.98" height="5.98" fill="#f6c3bd" stroke="#f2a060" stroke-width="1.0"/>
<line x1="92" y1="41.25" x2="92" y2="45.65" stroke="#e07a20" stroke-width="0.6"/>
<line x1="90.7" y1="41.25" x2="93.3" y2="41.25" stroke="#e07a20" stroke-width="0.6"/>
<line x1="90.7" y1="45.65" x2="93.3" y2="45.65" stroke="#e07a20" stroke-width="0.6"/>
<line x1="90.4" y1="43.45" x2="93.6" y2="43.45" stroke="#e07a20" stroke-width="0.5"/>
<rect x="104.21" y="41.8" width="5.98" height="5.98" fill="#f6c3bd" stroke="#f2a060" stroke-width="1.0"/>
<line x1="107.2" y1="42.59" x2="107.2" y2="46.99" stroke="#e07a20" stroke-width="0.6"/>
<line x1="105.9" y1="42.59" x2="108.5" y2="42.59" stroke="#e07a20" stroke-width="0.6"/>
<line x1="105.9" y1="46.99" x2="108.5" y2="46.99" stroke="#e07a20" stroke-width="0.6"/>
<line x1="105.6" y1="44.79" x2="108.8" y2="44.79" stroke="#e07a20" stroke-width="0.5"/>
<rect x="119.41" y="44.23" width="5.98" height="5.98" fill="#f6c3bd" stroke="#f2a060" stroke-width="1.0"/>
<line x1="122.4" y1="45.02" x2="122.4" y2="49.42" stroke="#e07a20" stroke-width="0.6"/>
<line x1="121.1" y1="45.02" x2="123.7" y2="45.02" stroke="#e07a20" stroke-width="0.6"/>
<line x1="121.1" y1="49.42" x2="123.7" y2="49.42" stroke="#e07a20" stroke-width="0.6"/>
<line x1="120.8" y1="47.22" x2="124" y2="47.22" stroke="#e07a20" stroke-width="0.5"/>
<rect x="195.41" y="47.63" width="5.98" height="5.98" fill="#f6c3bd" stroke="#f2a060" stroke-width="1.0"/>
<line x1="198.4" y1="48.43" x2="198.4" y2="52.83" stroke="#e07a20" stroke-width="0.6"/>
<line x1="197.1" y1="48.43" x2="199.7" y2="48.43" stroke="#e07a20" stroke-width="0.6"/>
<line x1="197.1" y1="52.83" x2="199.7" y2="52.83" stroke="#e07a20" stroke-width="0.6"/>
<line x1="196.8" y1="50.63" x2="200" y2="50.63" stroke="#e07a20" stroke-width="0.5"/>
<polygon points="46.4,27.61 50.1,31.9 46.4,36.19 42.7,31.9" fill="#c2c2c2" stroke="#a0a0a0" stroke-width="1.0"/>
<polygon points="51.47,28.22 55.16,32.51 51.47,36.8 47.77,32.51" fill="#c2c2c2" stroke="#a0a0a0" stroke-width="1.0"/>
<line x1="51.47" y1="30.31" x2="51.47" y2="34.71" stroke="#707070" stroke-width="0.6"/>
<line x1="50.17" y1="30.31" x2="52.77" y2="30.31" stroke="#707070" stroke-width="0.6"/>
<line x1="50.17" y1="34.71" x2="52.77" y2="34.71" stroke="#707070" stroke-width="0.6"/>
<line x1="49.87" y1="32.51" x2="53.07" y2="32.51" stroke="#707070" stroke-width="0.5"/>
<polygon points="56.53,28.83 60.23,33.12 56.53,37.41 52.84,33.12" fill="#c2c2c2" stroke="#a0a0a0" stroke-width="1.0"/>
<line x1="56.53" y1="30.92" x2="56.53" y2="35.32" stroke="#707070" stroke-width="0.6"/>
<line x1="55.23" y1="30.92" x2="57.83" y2="30.92" stroke="#707070" stroke-width="0.6"/>
<line x1="55.23" y1="35.32" x2="57.83" y2="35.32" stroke="#707070" stroke-width="0.6"/>
<line x1="54.93" y1="33.12" x2="58.13" y2="33.12" stroke="#707070" stroke-width="0.5"/>
<polygon points="61.6,29.07 65.3,33.36 61.6,37.65 57.9,33.36" fill="#c2c2c2" stroke="#a0a0a0" stroke-width="1.0"/>
<line x1="61.6" y1="31.16" x2="61.6" y2="35.56" stroke="#707070" stroke-width="0.6"/>
<line x1="60.3" y1="31.16" x2="62.9" y2="31.16" stroke="#707070" stroke-width="0.6"/>
<line x1="60.3" y1="35.56" x2="62.9" y2="35.56" stroke="#707070" stroke-width="0.6"/>
<line x1="60" y1="33.36" x2="63.2" y2="33.36" stroke="#707070" stroke-width="0.5"/>
<polygon points="69.2,29.07 72.9,33.36 69.2,37.65 65.5,33.36" fill="#c2c2c2" stroke="#a0a0a0" stroke-width="1.0"/>
<line x1="69.2" y1="31.16" x2="69.2" y2="35.56" stroke="#707070" stroke-width="0.6"/>
<line x1="67.9" y1="31.16" x2="70.5" y2="31.16" stroke="#707070" stroke-width="0.6"/>
<line x1="67.9" y1="35.56" x2="70.5" y2="35.56" stroke="#707070" stroke-width="0.6"/>
<line x1="67.6" y1="33.36" x2="70.8" y2="33.36" stroke="#707070" stroke-width="0.5"/>
<polygon points="76.8,29.43 80.5,33.72 76.8,38.01 73.1,33.72" fill="#c2c2c2" stroke="#a0a0a0" stroke-width="1.0"/>
<line x1="76.8" y1="31.52" x2="76.8" y2="35.92" stroke="#707070" stroke-width="0.6"/>
<line x1="75.5" y1="31.52" x2="78.1" y2="31.52" stroke="#707070" stroke-width="0.6"/>
<line x1="75.5" y1="35.92" x2="78.1" y2="35.92" stroke="#707070" stroke-width="0.6"/>
<line x1="75.2" y1="33.72" x2="78.4" y2="33.72" stroke="#707070" stroke-width="0.5"/>
<polygon points="92,30.29 95.7,34.58 92,38.87 88.3,34.58" fill="#c2c2c2" stroke="#a0a0a0" stroke-width="1.0"/>
<line x1="92" y1="32.38" x2="92" y2="36.78" stroke="#707070" stroke-width="0.6"/>
<line x1="90.7" y1="32.38" x2="93.3" y2="32.38" stroke="#707070" stroke-width="0.6"/>
<line x1="90.7" y1="36.78" x2="93.3" y2="36.78" stroke="#707070" stroke-width="0.6"/>
<line x1="90.4" y1="34.58" x2="93.6" y2="34.58" stroke="#707070" stroke-width="0.5"/>
<polygon points="107.2,31.01 110.9,35.3 107.2,39.59 103.5,35.3" fill="#c2c2c2" stroke="#a0a0a0" stroke-width="1.0"/>
<line x1="107.2" y1="33.1" x2="107.2" y2="37.5" stroke="#707070" stroke-width="0.6"/>
<line x1="105.9" y1="33.1" x2="108.5" y2="33.1" stroke="#707070" stroke-width="0.6"/>
<line x1="105.9" y1="37.5" x2="108.5" y2="37.5" stroke="#707070" stroke-width="0.6"/>
<line x1="105.6" y1="35.3" x2="108.8" y2="35.3" stroke="#707070" stroke-width="0.5"/>
<polygon points="122.4,31.5 126.1,35.79 122.4,40.08 118.7,35.79" fill="#c2c2c2" stroke="#a0a0a0" stroke-width="1.0"/>
<line x1="122.4" y1="33.59" x2="122.4" y2="37.99" stroke="#707070" stroke-width="0.6"/>
<line x1="121.1" y1="33.59" x2="123.7" y2="33.59" stroke="#707070" stroke-width="0.6"/>
<line x1="121.1" y1="37.99" x2="123.7" y2="37.99" stroke="#707070" stroke-width="0.6"/>
<line x1="120.8" y1="35.79" x2="124" y2="35.79" stroke="#707070" stroke-width="0.5"/>
<polygon points="198.4,31.5 202.1,35.79 198.4,40.08 194.7,35.79" fill="#c2c2c2" stroke="#a0a0a0" stroke-width="1.0"/>
<line x1="198.4" y1="33.59" x2="198.4" y2="37.99" stroke="#707070" stroke-width="0.6"/>
<line x1="197.1" y1="33.59" x2="199.7" y2="33.59" stroke="#707070" stroke-width="0.6"/>
<line x1="197.1" y1="37.99" x2="199.7" y2="37.99" stroke="#707070" stroke-width="0.6"/>
<line x1="196.8" y1="35.79" x2="200" y2="35.79" stroke="#707070" stroke-width="0.5"/>
<line x1="90" y1="113.6" x2="94.6" y2="113.6" stroke="#e0407a" stroke-width="1.3"/>
<line x1="103.4" y1="113.6" x2="108" y2="113.6" stroke="#e0407a" stroke-width="1.3"/>
<polygon points="99,109.8 102.29,111.7 102.29,115.5 99,117.4 95.71,115.5 95.71,111.7" fill="#f7d3e0" stroke="#e0407a" stroke-width="1.0"/>
<text x="110" y="116.2" font-size="7.4" text-anchor="start" fill="#1e1e1e" stroke="#1e1e1e" stroke-width="0.15" transform="translate(110 116.2) scale(1 1.08) translate(-110 -116.2)">CoNC-MSi1</text>
<line x1="90" y1="125.5" x2="94.6" y2="125.5" stroke="#72b552" stroke-width="1.3"/>
<line x1="103.4" y1="125.5" x2="108" y2="125.5" stroke="#72b552" stroke-width="1.3"/>
<polygon points="99,121.19 103.09,124.17 101.53,128.98 96.47,128.98 94.91,124.17" fill="#e3f1db" stroke="#72b552" stroke-width="1.0"/>
<text x="110" y="128.1" font-size="7.4" text-anchor="start" fill="#1e1e1e" stroke="#1e1e1e" stroke-width="0.15" transform="translate(110 128.1) scale(1 1.08) translate(-110 -128.1)">CoNC-MSi2</text>
<line x1="90" y1="137.4" x2="94.6" y2="137.4" stroke="#27aceb" stroke-width="1.3"/>
<line x1="103.4" y1="137.4" x2="108" y2="137.4" stroke="#27aceb" stroke-width="1.3"/>
<polygon points="99,133.6 102.29,135.5 102.29,139.3 99,141.2 95.71,139.3 95.71,135.5" fill="#d5eefc" stroke="#27aceb" stroke-width="1.0"/>
<text x="110" y="140" font-size="7.4" text-anchor="start" fill="#1e1e1e" stroke="#1e1e1e" stroke-width="0.15" transform="translate(110 140) scale(1 1.08) translate(-110 -140)">CoNC-Si</text>
<line x1="156.5" y1="113.6" x2="161.1" y2="113.6" stroke="#d98ef0" stroke-width="1.3"/>
<line x1="169.9" y1="113.6" x2="174.5" y2="113.6" stroke="#d98ef0" stroke-width="1.3"/>
<circle cx="165.5" cy="113.6" r="3.89" fill="#f5d3ec" stroke="#d98ef0" stroke-width="1.0"/>
<text x="176.5" y="116.2" font-size="7.4" text-anchor="start" fill="#1e1e1e" stroke="#1e1e1e" stroke-width="0.15" transform="translate(176.5 116.2) scale(1 1.08) translate(-176.5 -116.2)">NC-MSi1</text>
<line x1="156.5" y1="125.5" x2="161.1" y2="125.5" stroke="#ef9445" stroke-width="1.3"/>
<line x1="169.9" y1="125.5" x2="174.5" y2="125.5" stroke="#ef9445" stroke-width="1.3"/>
<rect x="162.33" y="122.33" width="6.34" height="6.34" fill="#f6c3bd" stroke="#ef9445" stroke-width="1.0"/>
<text x="176.5" y="128.1" font-size="7.4" text-anchor="start" fill="#1e1e1e" stroke="#1e1e1e" stroke-width="0.15" transform="translate(176.5 128.1) scale(1 1.08) translate(-176.5 -128.1)">C-MSi1</text>
<line x1="156.5" y1="137.4" x2="161.1" y2="137.4" stroke="#8a8a8a" stroke-width="1.3"/>
<line x1="169.9" y1="137.4" x2="174.5" y2="137.4" stroke="#8a8a8a" stroke-width="1.3"/>
<polygon points="165.5,132.85 169.42,137.4 165.5,141.95 161.58,137.4" fill="#c2c2c2" stroke="#8a8a8a" stroke-width="1.0"/>
<text x="176.5" y="140" font-size="7.4" text-anchor="start" fill="#1e1e1e" stroke="#1e1e1e" stroke-width="0.15" transform="translate(176.5 140) scale(1 1.08) translate(-176.5 -140)">MSi1</text>
<rect x="31.5" y="18.5" width="182" height="148" fill="none" stroke="#505050" stroke-width="1.0"/>
<text x="235.4" y="11.2" font-size="12.5" text-anchor="start" fill="#000" stroke="#000" stroke-width="0.15" font-weight="bold" transform="translate(235.4 11.2) scale(1 1.08) translate(-235.4 -11.2)">b</text>
<rect x="261.6" y="38.78" width="24.3" height="126.81" fill="url(#gpink)" stroke="#6e6e6e" stroke-width="0.7"/>
<rect x="286" y="25.6" width="24.3" height="140" fill="url(#gblue)" stroke="#6e6e6e" stroke-width="0.7"/>
<rect x="322" y="79.8" width="24.3" height="85.8" fill="url(#gpink)" stroke="#6e6e6e" stroke-width="0.7"/>
<rect x="346.4" y="42.4" width="24.3" height="123.2" fill="url(#gblue)" stroke="#6e6e6e" stroke-width="0.7"/>
<rect x="382.8" y="162.35" width="24.3" height="3.25" fill="url(#gpink)" stroke="#6e6e6e" stroke-width="0.7"/>
<rect x="407.2" y="95.6" width="24.3" height="70" fill="url(#gblue)" stroke="#6e6e6e" stroke-width="0.7"/>
<line x1="273.75" y1="33.98" x2="273.75" y2="43.58" stroke="#333" stroke-width="0.7"/>
<line x1="271.95" y1="33.98" x2="275.55" y2="33.98" stroke="#333" stroke-width="0.7"/>
<line x1="271.95" y1="43.58" x2="275.55" y2="43.58" stroke="#333" stroke-width="0.7"/>
<line x1="298.15" y1="25.3" x2="298.15" y2="25.9" stroke="#333" stroke-width="0.7"/>
<line x1="296.35" y1="25.3" x2="299.95" y2="25.3" stroke="#333" stroke-width="0.7"/>
<line x1="296.35" y1="25.9" x2="299.95" y2="25.9" stroke="#333" stroke-width="0.7"/>
<line x1="334.15" y1="79.2" x2="334.15" y2="80.4" stroke="#333" stroke-width="0.7"/>
<line x1="332.35" y1="79.2" x2="335.95" y2="79.2" stroke="#333" stroke-width="0.7"/>
<line x1="332.35" y1="80.4" x2="335.95" y2="80.4" stroke="#333" stroke-width="0.7"/>
<line x1="358.55" y1="42.1" x2="358.55" y2="42.7" stroke="#333" stroke-width="0.7"/>
<line x1="356.75" y1="42.1" x2="360.35" y2="42.1" stroke="#333" stroke-width="0.7"/>
<line x1="356.75" y1="42.7" x2="360.35" y2="42.7" stroke="#333" stroke-width="0.7"/>
<line x1="394.95" y1="162.05" x2="394.95" y2="162.65" stroke="#333" stroke-width="0.7"/>
<line x1="393.15" y1="162.05" x2="396.75" y2="162.05" stroke="#333" stroke-width="0.7"/>
<line x1="393.15" y1="162.65" x2="396.75" y2="162.65" stroke="#333" stroke-width="0.7"/>
<line x1="419.35" y1="95.3" x2="419.35" y2="95.9" stroke="#333" stroke-width="0.7"/>
<line x1="417.55" y1="95.3" x2="421.15" y2="95.3" stroke="#333" stroke-width="0.7"/>
<line x1="417.55" y1="95.9" x2="421.15" y2="95.9" stroke="#333" stroke-width="0.7"/>
<line x1="253.1" y1="165.5" x2="255.5" y2="165.5" stroke="#505050" stroke-width="0.9"/>
<text x="250.2" y="168.46" font-size="8.4" text-anchor="end" fill="#1e1e1e" stroke="#1e1e1e" stroke-width="0.15" transform="translate(250.2 168.46) scale(1 1.08) translate(-250.2 -168.46)">0.0</text>
<line x1="253.1" y1="133.5" x2="255.5" y2="133.5" stroke="#505050" stroke-width="0.9"/>
<text x="250.2" y="135.96" font-size="8.4" text-anchor="end" fill="#1e1e1e" stroke="#1e1e1e" stroke-width="0.15" transform="translate(250.2 135.96) scale(1 1.08) translate(-250.2 -135.96)">0.5</text>
<line x1="253.1" y1="100.5" x2="255.5" y2="100.5" stroke="#505050" stroke-width="0.9"/>
<text x="250.2" y="103.46" font-size="8.4" text-anchor="end" fill="#1e1e1e" stroke="#1e1e1e" stroke-width="0.15" transform="translate(250.2 103.46) scale(1 1.08) translate(-250.2 -103.46)">1.0</text>
<line x1="253.1" y1="68.5" x2="255.5" y2="68.5" stroke="#505050" stroke-width="0.9"/>
<text x="250.2" y="70.96" font-size="8.4" text-anchor="end" fill="#1e1e1e" stroke="#1e1e1e" stroke-width="0.15" transform="translate(250.2 70.96) scale(1 1.08) translate(-250.2 -70.96)">1.5</text>
<line x1="253.1" y1="35.5" x2="255.5" y2="35.5" stroke="#505050" stroke-width="0.9"/>
<text x="250.2" y="38.46" font-size="8.4" text-anchor="end" fill="#1e1e1e" stroke="#1e1e1e" stroke-width="0.15" transform="translate(250.2 38.46) scale(1 1.08) translate(-250.2 -38.46)">2.0</text>
<line x1="254.2" y1="149.5" x2="255.5" y2="149.5" stroke="#505050" stroke-width="0.9"/>
<line x1="254.2" y1="116.5" x2="255.5" y2="116.5" stroke="#505050" stroke-width="0.9"/>
<line x1="254.2" y1="84.5" x2="255.5" y2="84.5" stroke="#505050" stroke-width="0.9"/>
<line x1="254.2" y1="51.5" x2="255.5" y2="51.5" stroke="#505050" stroke-width="0.9"/>
<line x1="254.2" y1="19.5" x2="255.5" y2="19.5" stroke="#505050" stroke-width="0.9"/>
<line x1="437.5" y1="165.5" x2="439.9" y2="165.5" stroke="#505050" stroke-width="0.9"/>
<text x="441.6" y="168.46" font-size="8.4" text-anchor="start" fill="#1e1e1e" stroke="#1e1e1e" stroke-width="0.15" transform="translate(441.6 168.46) scale(1 1.08) translate(-441.6 -168.46)">0</text>
<line x1="437.5" y1="130.5" x2="439.9" y2="130.5" stroke="#505050" stroke-width="0.9"/>
<text x="441.6" y="133.46" font-size="8.4" text-anchor="start" fill="#1e1e1e" stroke="#1e1e1e" stroke-width="0.15" transform="translate(441.6 133.46) scale(1 1.08) translate(-441.6 -133.46)">25</text>
<line x1="437.5" y1="95.5" x2="439.9" y2="95.5" stroke="#505050" stroke-width="0.9"/>
<text x="441.6" y="98.46" font-size="8.4" text-anchor="start" fill="#1e1e1e" stroke="#1e1e1e" stroke-width="0.15" transform="translate(441.6 98.46) scale(1 1.08) translate(-441.6 -98.46)">50</text>
<line x1="437.5" y1="60.5" x2="439.9" y2="60.5" stroke="#505050" stroke-width="0.9"/>
<text x="441.6" y="63.46" font-size="8.4" text-anchor="start" fill="#1e1e1e" stroke="#1e1e1e" stroke-width="0.15" transform="translate(441.6 63.46) scale(1 1.08) translate(-441.6 -63.46)">75</text>
<line x1="437.5" y1="25.5" x2="439.9" y2="25.5" stroke="#505050" stroke-width="0.9"/>
<text x="441.6" y="28.46" font-size="8.4" text-anchor="start" fill="#1e1e1e" stroke="#1e1e1e" stroke-width="0.15" transform="translate(441.6 28.46) scale(1 1.08) translate(-441.6 -28.46)">100</text>
<line x1="437.5" y1="148.5" x2="438.8" y2="148.5" stroke="#505050" stroke-width="0.9"/>
<line x1="437.5" y1="113.5" x2="438.8" y2="113.5" stroke="#505050" stroke-width="0.9"/>
<line x1="437.5" y1="78.5" x2="438.8" y2="78.5" stroke="#505050" stroke-width="0.9"/>
<line x1="437.5" y1="43.5" x2="438.8" y2="43.5" stroke="#505050" stroke-width="0.9"/>
<text x="286" y="177.6" font-size="8.9" text-anchor="middle" fill="#1e1e1e" stroke="#1e1e1e" stroke-width="0.15" transform="translate(286 177.6) scale(1 1.08) translate(-286 -177.6)">CoNC-MSi1</text>
<text x="346.4" y="177.6" font-size="8.9" text-anchor="middle" fill="#1e1e1e" stroke="#1e1e1e" stroke-width="0.15" transform="translate(346.4 177.6) scale(1 1.08) translate(-346.4 -177.6)">CoNC-MSi2</text>
<text x="407.2" y="177.6" font-size="8.9" text-anchor="middle" fill="#1e1e1e" stroke="#1e1e1e" stroke-width="0.15" transform="translate(407.2 177.6) scale(1 1.08) translate(-407.2 -177.6)">CoNC-Si</text>
<text x="233.2" y="92.2" font-size="8.9" text-anchor="middle" fill="#1e1e1e" stroke="#1e1e1e" stroke-width="0.15" transform="translate(233.2 92.2) rotate(-90) scale(1 1.08) translate(-233.2 -92.2)">k<tspan font-size="6.5" dy="2">obs</tspan><tspan dy="-2"> (min</tspan><tspan font-size="6.5" dy="-3">-1</tspan><tspan dy="3">)</tspan></text>
<text x="459.8" y="92.2" font-size="8.9" text-anchor="middle" fill="#1e1e1e" stroke="#1e1e1e" stroke-width="0.15" transform="translate(459.8 92.2) rotate(-90) scale(1 1.08) translate(-459.8 -92.2)">PUE (%)</text>
<rect x="390.4" y="31.4" width="17" height="9.2" fill="url(#gpink)" stroke="#888" stroke-width="0.6" rx="1"/>
<rect x="390.4" y="45.6" width="17" height="8.8" fill="url(#gblue)" stroke="#888" stroke-width="0.6" rx="1"/>
<text x="410.2" y="38.6" font-size="7.6" text-anchor="start" fill="#1e1e1e" stroke="#1e1e1e" stroke-width="0.15" transform="translate(410.2 38.6) scale(1 1.08) translate(-410.2 -38.6)">k<tspan font-size="5.2" dy="1.8">obs</tspan></text>
<text x="410" y="52.8" font-size="7.6" text-anchor="start" fill="#1e1e1e" stroke="#1e1e1e" stroke-width="0.15" transform="translate(410 52.8) scale(1 1.08) translate(-410 -52.8)">PUE</text>
<rect x="255.5" y="18.5" width="182" height="147" fill="none" stroke="#505050" stroke-width="1.0"/>
<text x="465.4" y="12" font-size="12.5" text-anchor="start" fill="#000" stroke="#000" stroke-width="0.15" font-weight="bold" transform="translate(465.4 12) scale(1 1.08) translate(-465.4 -12)">c</text>
<line x1="539" y1="11.4" x2="539" y2="172" stroke="#cfcfcf" stroke-width="0.9"/>
<line x1="601.6" y1="11.4" x2="601.6" y2="172" stroke="#cfcfcf" stroke-width="0.9"/>
<text x="479.6" y="20.4" font-size="7.2" text-anchor="start" fill="#1e1e1e" stroke="#1e1e1e" stroke-width="0.15" transform="translate(479.6 20.4) scale(1 1.08) translate(-479.6 -20.4)">Carbon-based</text>
<text x="541" y="20.4" font-size="7.2" text-anchor="start" fill="#1e1e1e" stroke="#1e1e1e" stroke-width="0.15" transform="translate(541 20.4) scale(1 1.08) translate(-541 -20.4)">Metal-oxide</text>
<text x="605" y="20.4" font-size="7.2" text-anchor="start" fill="#1e1e1e" stroke="#1e1e1e" stroke-width="0.15" transform="translate(605 20.4) scale(1 1.08) translate(-605 -20.4)">SAC</text>
<line x1="662.5" y1="159.5" x2="664.9" y2="159.5" stroke="#6a6a6a" stroke-width="0.9"/>
<text x="666.4" y="161.86" font-size="8.4" text-anchor="start" fill="#1e1e1e" stroke="#1e1e1e" stroke-width="0.15" transform="translate(666.4 161.86) scale(1 1.08) translate(-666.4 -161.86)">0</text>
<line x1="662.5" y1="132.5" x2="664.9" y2="132.5" stroke="#6a6a6a" stroke-width="0.9"/>
<text x="666.4" y="134.86" font-size="8.4" text-anchor="start" fill="#1e1e1e" stroke="#1e1e1e" stroke-width="0.15" transform="translate(666.4 134.86) scale(1 1.08) translate(-666.4 -134.86)">20</text>
<line x1="662.5" y1="105.5" x2="664.9" y2="105.5" stroke="#6a6a6a" stroke-width="0.9"/>
<text x="666.4" y="107.86" font-size="8.4" text-anchor="start" fill="#1e1e1e" stroke="#1e1e1e" stroke-width="0.15" transform="translate(666.4 107.86) scale(1 1.08) translate(-666.4 -107.86)">40</text>
<line x1="662.5" y1="78.5" x2="664.9" y2="78.5" stroke="#6a6a6a" stroke-width="0.9"/>
<text x="666.4" y="80.86" font-size="8.4" text-anchor="start" fill="#1e1e1e" stroke="#1e1e1e" stroke-width="0.15" transform="translate(666.4 80.86) scale(1 1.08) translate(-666.4 -80.86)">60</text>
<line x1="662.5" y1="51.5" x2="664.9" y2="51.5" stroke="#6a6a6a" stroke-width="0.9"/>
<text x="666.4" y="53.86" font-size="8.4" text-anchor="start" fill="#1e1e1e" stroke="#1e1e1e" stroke-width="0.15" transform="translate(666.4 53.86) scale(1 1.08) translate(-666.4 -53.86)">80</text>
<line x1="662.5" y1="24.5" x2="664.9" y2="24.5" stroke="#6a6a6a" stroke-width="0.9"/>
<text x="666.4" y="26.86" font-size="8.4" text-anchor="start" fill="#1e1e1e" stroke="#1e1e1e" stroke-width="0.15" transform="translate(666.4 26.86) scale(1 1.08) translate(-666.4 -26.86)">100</text>
<line x1="662.5" y1="145.5" x2="663.8" y2="145.5" stroke="#6a6a6a" stroke-width="0.9"/>
<line x1="662.5" y1="118.5" x2="663.8" y2="118.5" stroke="#6a6a6a" stroke-width="0.9"/>
<line x1="662.5" y1="91.5" x2="663.8" y2="91.5" stroke="#6a6a6a" stroke-width="0.9"/>
<line x1="662.5" y1="64.5" x2="663.8" y2="64.5" stroke="#6a6a6a" stroke-width="0.9"/>
<line x1="662.5" y1="37.5" x2="663.8" y2="37.5" stroke="#6a6a6a" stroke-width="0.9"/>
<line x1="488.5" y1="172.5" x2="488.5" y2="174.9" stroke="#6a6a6a" stroke-width="0.9"/>
<text x="488" y="182" font-size="7.9" text-anchor="middle" fill="#1e1e1e" stroke="#1e1e1e" stroke-width="0.15" transform="translate(488 182) scale(1 1.08) translate(-488 -182)">0.00</text>
<line x1="506.5" y1="172.5" x2="506.5" y2="174.9" stroke="#6a6a6a" stroke-width="0.9"/>
<text x="506.3" y="182" font-size="7.9" text-anchor="middle" fill="#1e1e1e" stroke="#1e1e1e" stroke-width="0.15" transform="translate(506.3 182) scale(1 1.08) translate(-506.3 -182)">0.05</text>
<line x1="524.5" y1="172.5" x2="524.5" y2="174.9" stroke="#6a6a6a" stroke-width="0.9"/>
<text x="524.6" y="182" font-size="7.9" text-anchor="middle" fill="#1e1e1e" stroke="#1e1e1e" stroke-width="0.15" transform="translate(524.6 182) scale(1 1.08) translate(-524.6 -182)">0.10</text>
<line x1="478.5" y1="172.5" x2="478.5" y2="173.8" stroke="#6a6a6a" stroke-width="0.9"/>
<line x1="497.5" y1="172.5" x2="497.5" y2="173.8" stroke="#6a6a6a" stroke-width="0.9"/>
<line x1="515.5" y1="172.5" x2="515.5" y2="173.8" stroke="#6a6a6a" stroke-width="0.9"/>
<line x1="533.5" y1="172.5" x2="533.5" y2="173.8" stroke="#6a6a6a" stroke-width="0.9"/>
<line x1="551.5" y1="172.5" x2="551.5" y2="174.9" stroke="#6a6a6a" stroke-width="0.9"/>
<text x="551" y="182" font-size="7.9" text-anchor="middle" fill="#1e1e1e" stroke="#1e1e1e" stroke-width="0.15" transform="translate(551 182) scale(1 1.08) translate(-551 -182)">0.00</text>
<line x1="569.5" y1="172.5" x2="569.5" y2="174.9" stroke="#6a6a6a" stroke-width="0.9"/>
<text x="569.3" y="182" font-size="7.9" text-anchor="middle" fill="#1e1e1e" stroke="#1e1e1e" stroke-width="0.15" transform="translate(569.3 182) scale(1 1.08) translate(-569.3 -182)">0.05</text>
<line x1="587.5" y1="172.5" x2="587.5" y2="174.9" stroke="#6a6a6a" stroke-width="0.9"/>
<text x="587.6" y="182" font-size="7.9" text-anchor="middle" fill="#1e1e1e" stroke="#1e1e1e" stroke-width="0.15" transform="translate(587.6 182) scale(1 1.08) translate(-587.6 -182)">0.10</text>
<line x1="541.5" y1="172.5" x2="541.5" y2="173.8" stroke="#6a6a6a" stroke-width="0.9"/>
<line x1="560.5" y1="172.5" x2="560.5" y2="173.8" stroke="#6a6a6a" stroke-width="0.9"/>
<line x1="578.5" y1="172.5" x2="578.5" y2="173.8" stroke="#6a6a6a" stroke-width="0.9"/>
<line x1="596.5" y1="172.5" x2="596.5" y2="173.8" stroke="#6a6a6a" stroke-width="0.9"/>
<line x1="613.5" y1="172.5" x2="613.5" y2="174.9" stroke="#6a6a6a" stroke-width="0.9"/>
<text x="613.4" y="182" font-size="7.9" text-anchor="middle" fill="#1e1e1e" stroke="#1e1e1e" stroke-width="0.15" transform="translate(613.4 182) scale(1 1.08) translate(-613.4 -182)">0.00</text>
<line x1="631.5" y1="172.5" x2="631.5" y2="174.9" stroke="#6a6a6a" stroke-width="0.9"/>
<text x="631.7" y="182" font-size="7.9" text-anchor="middle" fill="#1e1e1e" stroke="#1e1e1e" stroke-width="0.15" transform="translate(631.7 182) scale(1 1.08) translate(-631.7 -182)">0.05</text>
<line x1="650.5" y1="172.5" x2="650.5" y2="174.9" stroke="#6a6a6a" stroke-width="0.9"/>
<text x="650" y="182" font-size="7.9" text-anchor="middle" fill="#1e1e1e" stroke="#1e1e1e" stroke-width="0.15" transform="translate(650 182) scale(1 1.08) translate(-650 -182)">0.10</text>
<line x1="604.5" y1="172.5" x2="604.5" y2="173.8" stroke="#6a6a6a" stroke-width="0.9"/>
<line x1="622.5" y1="172.5" x2="622.5" y2="173.8" stroke="#6a6a6a" stroke-width="0.9"/>
<line x1="640.5" y1="172.5" x2="640.5" y2="173.8" stroke="#6a6a6a" stroke-width="0.9"/>
<line x1="659.5" y1="172.5" x2="659.5" y2="173.8" stroke="#6a6a6a" stroke-width="0.9"/>
<text x="572.4" y="190" font-size="8.1" text-anchor="middle" fill="#1e1e1e" stroke="#1e1e1e" stroke-width="0.15" transform="translate(572.4 190) scale(1 1.08) translate(-572.4 -190)">k<tspan font-size="5.4" dy="1.8">SA</tspan><tspan dy="-1.8"> (g m</tspan><tspan font-size="5.4" dy="-3">-2</tspan><tspan dy="3">min</tspan><tspan font-size="5.4" dy="-3">-1</tspan><tspan dy="3">)</tspan></text>
<text x="682.6" y="87.8" font-size="7.1" text-anchor="middle" fill="#1e1e1e" stroke="#1e1e1e" stroke-width="0.15" transform="translate(682.6 87.8) rotate(-90) scale(1 1.08) translate(-682.6 -87.8)">PUE (%)</text>
<rect x="484.5" y="79.5" width="7" height="7" fill="#fff" stroke="#b445f0" stroke-width="0.9"/>
<rect x="484.5" y="79.5" width="7" height="3.32" fill="#b445f0" stroke="none" stroke-width="0"/>
<text x="498.6" y="85.4" font-size="6.0" text-anchor="start" fill="#1e1e1e" stroke="#1e1e1e" stroke-width="0.15" transform="translate(498.6 85.4) scale(1 1.08) translate(-498.6 -85.4)">NBC800</text>
<rect x="485.9" y="106.9" width="7" height="7" fill="#fff" stroke="#b445f0" stroke-width="0.9"/>
<rect x="485.9" y="106.9" width="7" height="3.32" fill="#b445f0" stroke="none" stroke-width="0"/>
<text x="498.6" y="112.8" font-size="6.0" text-anchor="start" fill="#1e1e1e" stroke="#1e1e1e" stroke-width="0.15" transform="translate(498.6 112.8) scale(1 1.08) translate(-498.6 -112.8)">SWBC800</text>
<rect x="484.5" y="147.5" width="7" height="7" fill="#fff" stroke="#b445f0" stroke-width="0.9"/>
<rect x="484.5" y="147.5" width="7" height="3.32" fill="#b445f0" stroke="none" stroke-width="0"/>
<text x="497.4" y="153.4" font-size="6.0" text-anchor="start" fill="#1e1e1e" stroke="#1e1e1e" stroke-width="0.15" transform="translate(497.4 153.4) scale(1 1.08) translate(-497.4 -153.4)">BSN-800</text>
<polygon points="552.4,48.3 557.7,53.6 552.4,58.9 547.1,53.6" fill="#fff" stroke="#3d9ff0" stroke-width="0.8"/>
<polygon points="552.4,48.3 557.7,53.6 547.1,53.6" fill="#3d9ff0" stroke="none" stroke-width="0"/>
<text x="562.4" y="56" font-size="6.0" text-anchor="start" fill="#1e1e1e" stroke="#1e1e1e" stroke-width="0.15" transform="translate(562.4 56) scale(1 1.08) translate(-562.4 -56)">Pd<tspan font-size="4.6" dy="1.4">x</tspan><tspan dy="-1.4">S/TiO</tspan><tspan font-size="4.6" dy="1.4">2</tspan></text>
<polygon points="553.4,100.9 558.7,106.2 553.4,111.5 548.1,106.2" fill="#fff" stroke="#3d9ff0" stroke-width="0.8"/>
<polygon points="553.4,100.9 558.7,106.2 548.1,106.2" fill="#3d9ff0" stroke="none" stroke-width="0"/>
<text x="563" y="108.6" font-size="6.0" text-anchor="start" fill="#1e1e1e" stroke="#1e1e1e" stroke-width="0.15" transform="translate(563 108.6) scale(1 1.08) translate(-563 -108.6)">C-CoMnOx</text>
<polygon points="551,124.3 556.3,129.6 551,134.9 545.7,129.6" fill="#fff" stroke="#3d9ff0" stroke-width="0.8"/>
<polygon points="551,124.3 556.3,129.6 545.7,129.6" fill="#3d9ff0" stroke="none" stroke-width="0"/>
<text x="560" y="132" font-size="6.0" text-anchor="start" fill="#1e1e1e" stroke="#1e1e1e" stroke-width="0.15" transform="translate(560 132) scale(1 1.08) translate(-560 -132)">Co/La-SrTiO<tspan font-size="4.6" dy="1.4">3</tspan></text>
<polygon points="554.4,141.5 559.7,146.8 554.4,152.1 549.1,146.8" fill="#fff" stroke="#3d9ff0" stroke-width="0.8"/>
<polygon points="554.4,141.5 559.7,146.8 549.1,146.8" fill="#3d9ff0" stroke="none" stroke-width="0"/>
<text x="563.4" y="149.2" font-size="6.0" text-anchor="start" fill="#1e1e1e" stroke="#1e1e1e" stroke-width="0.15" transform="translate(563.4 149.2) scale(1 1.08) translate(-563.4 -149.2)">Cu-In<tspan font-size="4.6" dy="1.4">2</tspan><tspan dy="-1.4">O</tspan><tspan font-size="4.6" dy="1.4">3</tspan><tspan dy="-1.4">/O</tspan><tspan font-size="4.6" dy="1.4">v</tspan></text>
<polygon points="625.6,23 627.13,27.1 631.5,27.28 628.07,30 629.24,34.22 625.6,31.8 621.96,34.22 623.13,30 619.7,27.28 624.07,27.1" fill="#d43a7e" stroke="#d43a7e" stroke-width="0.3"/>
<text x="630" y="33.2" font-size="6.0" text-anchor="start" fill="#1e1e1e" stroke="#1e1e1e" stroke-width="0.15" transform="translate(630 33.2) scale(1 1.08) translate(-630 -33.2)">CoNC-MSi1</text>
<polygon points="623,41.4 624.53,45.5 628.9,45.68 625.47,48.4 626.64,52.62 623,50.2 619.36,52.62 620.53,48.4 617.1,45.68 621.47,45.5" fill="#d43a7e" stroke="#d43a7e" stroke-width="0.3"/>
<text x="629" y="49.8" font-size="6.0" text-anchor="start" fill="#1e1e1e" stroke="#1e1e1e" stroke-width="0.15" transform="translate(629 49.8) scale(1 1.08) translate(-629 -49.8)">CoNC-MSi2</text>
<polygon points="613.4,69.4 614.93,73.5 619.3,73.68 615.87,76.4 617.04,80.62 613.4,78.2 609.76,80.62 610.93,76.4 607.5,73.68 611.87,73.5" fill="#d43a7e" stroke="#d43a7e" stroke-width="0.3"/>
<text x="625" y="77.6" font-size="6.7" text-anchor="start" fill="#1e1e1e" stroke="#1e1e1e" stroke-width="0.15" transform="translate(625 77.6) scale(1 1.08) translate(-625 -77.6)">CoNC-Si</text>
<circle cx="613.6" cy="91" r="4.4" fill="#fff" stroke="#d43a7e" stroke-width="0.9"/>
<path d="M609.2,91 A4.4,4.4 0 0 1 618,91 Z" fill="#d43a7e"/>
<text x="622" y="93.8" font-size="6.0" text-anchor="start" fill="#1e1e1e" stroke="#1e1e1e" stroke-width="0.15" transform="translate(622 93.8) scale(1 1.08) translate(-622 -93.8)">Fe-SA/PHCNS</text>
<text x="604.6" y="107.6" font-size="6.0" text-anchor="start" fill="#1e1e1e" stroke="#1e1e1e" stroke-width="0.15" transform="translate(604.6 107.6) scale(1 1.08) translate(-604.6 -107.6)">5-SAFe-CN</text>
<circle cx="614" cy="116.6" r="4.4" fill="#fff" stroke="#d43a7e" stroke-width="0.9"/>
<path d="M609.6,116.6 A4.4,4.4 0 0 1 618.4,116.6 Z" fill="#d43a7e"/>
<circle cx="612.4" cy="125" r="4.4" fill="#fff" stroke="#d43a7e" stroke-width="0.9"/>
<path d="M608,125 A4.4,4.4 0 0 1 616.8,125 Z" fill="#d43a7e"/>
<text x="621.6" y="127.4" font-size="6.0" text-anchor="start" fill="#1e1e1e" stroke="#1e1e1e" stroke-width="0.15" transform="translate(621.6 127.4) scale(1 1.08) translate(-621.6 -127.4)">ZMCs</text>
<text x="605" y="136.4" font-size="6.0" text-anchor="start" fill="#1e1e1e" stroke="#1e1e1e" stroke-width="0.15" transform="translate(605 136.4) scale(1 1.08) translate(-605 -136.4)">Fe1/CN</text>
<circle cx="612.4" cy="142.8" r="4.4" fill="#fff" stroke="#d43a7e" stroke-width="0.9"/>
<path d="M608,142.8 A4.4,4.4 0 0 1 616.8,142.8 Z" fill="#d43a7e"/>
<circle cx="612" cy="146.6" r="4.4" fill="#fff" stroke="#d43a7e" stroke-width="0.9"/>
<path d="M607.6,146.6 A4.4,4.4 0 0 1 616.4,146.6 Z" fill="#d43a7e"/>
<circle cx="612" cy="150.4" r="4.4" fill="#fff" stroke="#d43a7e" stroke-width="0.9"/>
<path d="M607.6,150.4 A4.4,4.4 0 0 1 616.4,150.4 Z" fill="#d43a7e"/>
<circle cx="613.4" cy="155.4" r="4.4" fill="#fff" stroke="#d43a7e" stroke-width="0.9"/>
<path d="M609,155.4 A4.4,4.4 0 0 1 617.8,155.4 Z" fill="#d43a7e"/>
<text x="621.6" y="147.4" font-size="6.0" text-anchor="start" fill="#1e1e1e" stroke="#1e1e1e" stroke-width="0.15" transform="translate(621.6 147.4) scale(1 1.08) translate(-621.6 -147.4)">CoN<tspan font-size="4.6" dy="1.4">4</tspan><tspan dy="-1.4">O</tspan><tspan font-size="4.6" dy="1.4">2</tspan></text>
<text x="620" y="156.6" font-size="6.0" text-anchor="start" fill="#1e1e1e" stroke="#1e1e1e" stroke-width="0.15" transform="translate(620 156.6) scale(1 1.08) translate(-620 -156.6)">Co-N<tspan font-size="4.6" dy="1.4">3</tspan></text>
<text x="609" y="166.6" font-size="6.0" text-anchor="start" fill="#1e1e1e" stroke="#1e1e1e" stroke-width="0.15" transform="translate(609 166.6) scale(1 1.08) translate(-609 -166.6)">CoN<tspan font-size="4.6" dy="1.4">3</tspan><tspan dy="-1.4">O</tspan><tspan font-size="4.6" dy="1.4">1</tspan></text>
<rect x="477.5" y="11.5" width="185" height="161" fill="none" stroke="#6a6a6a" stroke-width="1.0"/>
<text x="7.4" y="190" font-size="12.5" text-anchor="start" fill="#000" stroke="#000" stroke-width="0.15" font-weight="bold" transform="translate(7.4 190) scale(1 1.08) translate(-7.4 -190)">d</text>
<circle cx="62.6" cy="232.4" r="37.8" fill="url(#rg1)"/>
<circle cx="62.6" cy="232.4" r="38.7" fill="none" stroke="#847a0e" stroke-width="1.7"/>
<circle cx="166.2" cy="266.6" r="58.0" fill="url(#rg2)"/>
<circle cx="166.2" cy="266.6" r="59.1" fill="none" stroke="#847a0e" stroke-width="2.1"/>
<line x1="25.6" y1="233.0" x2="99.6" y2="233.0" stroke="#111" stroke-width="0.9" marker-start="url(#arw)" marker-end="url(#arw)"/>
<line x1="108.4" y1="267.0" x2="224.0" y2="267.0" stroke="#111" stroke-width="0.9" marker-start="url(#arw)" marker-end="url(#arw)"/>
<text x="63" y="229.2" font-size="6.8" text-anchor="middle" fill="#1e1e1e" stroke="#1e1e1e" stroke-width="0.15" transform="translate(63 229.2) scale(1 1.08) translate(-63 -229.2)">CoNC-MSi1</text>
<text x="63" y="241.4" font-size="6.9" text-anchor="middle" fill="#1e1e1e" stroke="#1e1e1e" stroke-width="0.15" transform="translate(63 241.4) scale(1 1.08) translate(-63 -241.4)">7.7 nm</text>
<text x="166.8" y="264.4" font-size="6.8" text-anchor="middle" fill="#1e1e1e" stroke="#1e1e1e" stroke-width="0.15" transform="translate(166.8 264.4) scale(1 1.08) translate(-166.8 -264.4)">CoNC-MSi2</text>
<text x="167.8" y="276" font-size="6.8" text-anchor="middle" fill="#1e1e1e" stroke="#1e1e1e" stroke-width="0.15" transform="translate(167.8 276) scale(1 1.08) translate(-167.8 -276)">12.8 nm</text>
<text x="116.2" y="201.4" font-size="8.2" text-anchor="start" fill="#1e1e1e" stroke="#1e1e1e" stroke-width="0.15" transform="translate(116.2 201.4) scale(1 1.08) translate(-116.2 -201.4)">Pore wall</text>
<line x1="134" y1="202.8" x2="141.4" y2="210.8" stroke="#111" stroke-width="0.8"/>
<rect x="25" y="279.6" width="74" height="68" fill="url(#gsurf)" stroke="#445060" stroke-width="0.8"/>
<line x1="25" y1="279" x2="25" y2="347.6" stroke="#847a0e" stroke-width="2.0"/>
<line x1="42.5" y1="347.5" x2="42.5" y2="349.1" stroke="#505050" stroke-width="0.9"/>
<text x="42.4" y="355.2" font-size="7.2" text-anchor="middle" fill="#1e1e1e" stroke="#1e1e1e" stroke-width="0.15" transform="translate(42.4 355.2) scale(1 1.08) translate(-42.4 -355.2)">20</text>
<line x1="60.5" y1="347.5" x2="60.5" y2="349.1" stroke="#505050" stroke-width="0.9"/>
<text x="60.4" y="355.2" font-size="7.2" text-anchor="middle" fill="#1e1e1e" stroke="#1e1e1e" stroke-width="0.15" transform="translate(60.4 355.2) scale(1 1.08) translate(-60.4 -355.2)">40</text>
<line x1="78.5" y1="347.5" x2="78.5" y2="349.1" stroke="#505050" stroke-width="0.9"/>
<text x="78.4" y="355.2" font-size="7.2" text-anchor="middle" fill="#1e1e1e" stroke="#1e1e1e" stroke-width="0.15" transform="translate(78.4 355.2) scale(1 1.08) translate(-78.4 -355.2)">60</text>
<line x1="96.5" y1="347.5" x2="96.5" y2="349.1" stroke="#505050" stroke-width="0.9"/>
<text x="96.4" y="355.2" font-size="7.2" text-anchor="middle" fill="#1e1e1e" stroke="#1e1e1e" stroke-width="0.15" transform="translate(96.4 355.2) scale(1 1.08) translate(-96.4 -355.2)">80</text>
<line x1="33.5" y1="347.5" x2="33.5" y2="348.7" stroke="#505050" stroke-width="0.9"/>
<line x1="51.5" y1="347.5" x2="51.5" y2="348.7" stroke="#505050" stroke-width="0.9"/>
<line x1="69.5" y1="347.5" x2="69.5" y2="348.7" stroke="#505050" stroke-width="0.9"/>
<line x1="87.5" y1="347.5" x2="87.5" y2="348.7" stroke="#505050" stroke-width="0.9"/>
<text x="62" y="363.6" font-size="7.05" text-anchor="middle" fill="#1e1e1e" stroke="#1e1e1e" stroke-width="0.15" transform="translate(62 363.6) scale(1 1.08) translate(-62 -363.6)">Distance (&#197;)</text>
<text x="20.2" y="313" font-size="7.0" text-anchor="middle" fill="#1e1e1e" stroke="#1e1e1e" stroke-width="0.15" transform="translate(20.2 313) rotate(-90) scale(1 1.08) translate(-20.2 -313)">Surface</text>
<text x="94" y="289.6" font-size="6.7" text-anchor="end" fill="#1e1e1e" stroke="#1e1e1e" stroke-width="0.15" transform="translate(94 289.6) scale(1 1.08) translate(-94 -289.6)">CoNC-Si</text>
<rect x="113.4" y="339.4" width="111.2" height="7" fill="url(#gcb)" stroke="#555" stroke-width="0.6"/>
<line x1="116.6" y1="346.4" x2="116.6" y2="348" stroke="#444" stroke-width="0.6"/>
<text x="116.6" y="356" font-size="7.0" text-anchor="middle" fill="#1e1e1e" stroke="#1e1e1e" stroke-width="0.15" transform="translate(116.6 356) scale(1 1.08) translate(-116.6 -356)">0.0</text>
<line x1="134" y1="346.4" x2="134" y2="348" stroke="#444" stroke-width="0.6"/>
<text x="134" y="356" font-size="7.0" text-anchor="middle" fill="#1e1e1e" stroke="#1e1e1e" stroke-width="0.15" transform="translate(134 356) scale(1 1.08) translate(-134 -356)">0.3</text>
<line x1="151.4" y1="346.4" x2="151.4" y2="348" stroke="#444" stroke-width="0.6"/>
<text x="151.4" y="356" font-size="7.0" text-anchor="middle" fill="#1e1e1e" stroke="#1e1e1e" stroke-width="0.15" transform="translate(151.4 356) scale(1 1.08) translate(-151.4 -356)">0.7</text>
<line x1="168.8" y1="346.4" x2="168.8" y2="348" stroke="#444" stroke-width="0.6"/>
<text x="168.8" y="356" font-size="7.0" text-anchor="middle" fill="#1e1e1e" stroke="#1e1e1e" stroke-width="0.15" transform="translate(168.8 356) scale(1 1.08) translate(-168.8 -356)">1.0</text>
<line x1="186.2" y1="346.4" x2="186.2" y2="348" stroke="#444" stroke-width="0.6"/>
<text x="186.2" y="356" font-size="7.0" text-anchor="middle" fill="#1e1e1e" stroke="#1e1e1e" stroke-width="0.15" transform="translate(186.2 356) scale(1 1.08) translate(-186.2 -356)">1.4</text>
<line x1="203.6" y1="346.4" x2="203.6" y2="348" stroke="#444" stroke-width="0.6"/>
<text x="203.6" y="356" font-size="7.0" text-anchor="middle" fill="#1e1e1e" stroke="#1e1e1e" stroke-width="0.15" transform="translate(203.6 356) scale(1 1.08) translate(-203.6 -356)">1.7</text>
<line x1="221" y1="346.4" x2="221" y2="348" stroke="#444" stroke-width="0.6"/>
<text x="221" y="356" font-size="7.0" text-anchor="middle" fill="#1e1e1e" stroke="#1e1e1e" stroke-width="0.15" transform="translate(221 356) scale(1 1.08) translate(-221 -356)">2.1</text>
<text x="169.6" y="363.6" font-size="6.9" text-anchor="middle" fill="#1e1e1e" stroke="#1e1e1e" stroke-width="0.15" transform="translate(169.6 363.6) scale(1 1.08) translate(-169.6 -363.6)">PMS relative concentration</text>
<text x="235" y="190" font-size="12.5" text-anchor="start" fill="#000" stroke="#000" stroke-width="0.15" font-weight="bold" transform="translate(235 190) scale(1 1.08) translate(-235 -190)">e</text>
<line x1="258.5" y1="344.5" x2="258.5" y2="346.9" stroke="#505050" stroke-width="0.9"/>
<text x="258.4" y="356.6" font-size="8.4" text-anchor="middle" fill="#1e1e1e" stroke="#1e1e1e" stroke-width="0.15" transform="translate(258.4 356.6) scale(1 1.08) translate(-258.4 -356.6)">0</text>
<line x1="286.5" y1="344.5" x2="286.5" y2="346.9" stroke="#505050" stroke-width="0.9"/>
<text x="286.4" y="356.6" font-size="8.4" text-anchor="middle" fill="#1e1e1e" stroke="#1e1e1e" stroke-width="0.15" transform="translate(286.4 356.6) scale(1 1.08) translate(-286.4 -356.6)">5</text>
<line x1="314.5" y1="344.5" x2="314.5" y2="346.9" stroke="#505050" stroke-width="0.9"/>
<text x="314.4" y="356.6" font-size="8.4" text-anchor="middle" fill="#1e1e1e" stroke="#1e1e1e" stroke-width="0.15" transform="translate(314.4 356.6) scale(1 1.08) translate(-314.4 -356.6)">10</text>
<line x1="342.5" y1="344.5" x2="342.5" y2="346.9" stroke="#505050" stroke-width="0.9"/>
<text x="342.4" y="356.6" font-size="8.4" text-anchor="middle" fill="#1e1e1e" stroke="#1e1e1e" stroke-width="0.15" transform="translate(342.4 356.6) scale(1 1.08) translate(-342.4 -356.6)">15</text>
<line x1="370.5" y1="344.5" x2="370.5" y2="346.9" stroke="#505050" stroke-width="0.9"/>
<text x="370.4" y="356.6" font-size="8.4" text-anchor="middle" fill="#1e1e1e" stroke="#1e1e1e" stroke-width="0.15" transform="translate(370.4 356.6) scale(1 1.08) translate(-370.4 -356.6)">20</text>
<line x1="398.5" y1="344.5" x2="398.5" y2="346.9" stroke="#505050" stroke-width="0.9"/>
<text x="398.4" y="356.6" font-size="8.4" text-anchor="middle" fill="#1e1e1e" stroke="#1e1e1e" stroke-width="0.15" transform="translate(398.4 356.6) scale(1 1.08) translate(-398.4 -356.6)">25</text>
<line x1="426.5" y1="344.5" x2="426.5" y2="346.9" stroke="#505050" stroke-width="0.9"/>
<text x="426.4" y="356.6" font-size="8.4" text-anchor="middle" fill="#1e1e1e" stroke="#1e1e1e" stroke-width="0.15" transform="translate(426.4 356.6) scale(1 1.08) translate(-426.4 -356.6)">30</text>
<line x1="272.5" y1="344.5" x2="272.5" y2="345.8" stroke="#505050" stroke-width="0.9"/>
<line x1="300.5" y1="344.5" x2="300.5" y2="345.8" stroke="#505050" stroke-width="0.9"/>
<line x1="328.5" y1="344.5" x2="328.5" y2="345.8" stroke="#505050" stroke-width="0.9"/>
<line x1="356.5" y1="344.5" x2="356.5" y2="345.8" stroke="#505050" stroke-width="0.9"/>
<line x1="384.5" y1="344.5" x2="384.5" y2="345.8" stroke="#505050" stroke-width="0.9"/>
<line x1="412.5" y1="344.5" x2="412.5" y2="345.8" stroke="#505050" stroke-width="0.9"/>
<line x1="253.1" y1="341.5" x2="255.5" y2="341.5" stroke="#505050" stroke-width="0.9"/>
<text x="251.2" y="344.66" font-size="8.4" text-anchor="end" fill="#1e1e1e" stroke="#1e1e1e" stroke-width="0.15" transform="translate(251.2 344.66) scale(1 1.08) translate(-251.2 -344.66)">0</text>
<line x1="253.1" y1="312.5" x2="255.5" y2="312.5" stroke="#505050" stroke-width="0.9"/>
<text x="251.2" y="315.81" font-size="8.4" text-anchor="end" fill="#1e1e1e" stroke="#1e1e1e" stroke-width="0.15" transform="translate(251.2 315.81) scale(1 1.08) translate(-251.2 -315.81)">1</text>
<line x1="253.1" y1="284.5" x2="255.5" y2="284.5" stroke="#505050" stroke-width="0.9"/>
<text x="251.2" y="286.96" font-size="8.4" text-anchor="end" fill="#1e1e1e" stroke="#1e1e1e" stroke-width="0.15" transform="translate(251.2 286.96) scale(1 1.08) translate(-251.2 -286.96)">2</text>
<line x1="253.1" y1="255.5" x2="255.5" y2="255.5" stroke="#505050" stroke-width="0.9"/>
<text x="251.2" y="258.11" font-size="8.4" text-anchor="end" fill="#1e1e1e" stroke="#1e1e1e" stroke-width="0.15" transform="translate(251.2 258.11) scale(1 1.08) translate(-251.2 -258.11)">3</text>
<line x1="253.1" y1="226.5" x2="255.5" y2="226.5" stroke="#505050" stroke-width="0.9"/>
<text x="251.2" y="229.26" font-size="8.4" text-anchor="end" fill="#1e1e1e" stroke="#1e1e1e" stroke-width="0.15" transform="translate(251.2 229.26) scale(1 1.08) translate(-251.2 -229.26)">4</text>
<line x1="253.1" y1="197.5" x2="255.5" y2="197.5" stroke="#505050" stroke-width="0.9"/>
<text x="251.2" y="200.41" font-size="8.4" text-anchor="end" fill="#1e1e1e" stroke="#1e1e1e" stroke-width="0.15" transform="translate(251.2 200.41) scale(1 1.08) translate(-251.2 -200.41)">5</text>
<line x1="254.2" y1="327.5" x2="255.5" y2="327.5" stroke="#505050" stroke-width="0.9"/>
<line x1="254.2" y1="298.5" x2="255.5" y2="298.5" stroke="#505050" stroke-width="0.9"/>
<line x1="254.2" y1="269.5" x2="255.5" y2="269.5" stroke="#505050" stroke-width="0.9"/>
<line x1="254.2" y1="240.5" x2="255.5" y2="240.5" stroke="#505050" stroke-width="0.9"/>
<line x1="254.2" y1="211.5" x2="255.5" y2="211.5" stroke="#505050" stroke-width="0.9"/>
<text x="349" y="368" font-size="8.9" text-anchor="middle" fill="#1e1e1e" stroke="#1e1e1e" stroke-width="0.15" transform="translate(349 368) scale(1 1.08) translate(-349 -368)">Time (x10<tspan font-size="6.2" dy="-3">2</tspan><tspan dy="3"> ps)</tspan></text>
<text x="240" y="268" font-size="8.9" text-anchor="middle" fill="#1e1e1e" stroke="#1e1e1e" stroke-width="0.15" transform="translate(240 268) rotate(-90) scale(1 1.08) translate(-240 -268)">MSD (x10<tspan font-size="6.2" dy="-3">4</tspan><tspan dy="3"> &#197;</tspan><tspan font-size="6.2" dy="-3">2</tspan><tspan dy="3">)</tspan></text>
<path d="M258.4,342.67 C263.07,342.28 276.13,341.17 286.4,340.36 C296.67,339.54 307.4,338.53 320,337.76 C332.6,336.99 348.93,336.51 362,335.74 C375.07,334.97 388.6,333.91 398.4,333.15 C408.2,332.38 414.27,331.8 420.8,331.13 C427.33,330.45 434.8,329.44 437.6,329.11" fill="none" stroke="#6cb246" stroke-width="1.3" stroke-dasharray="1.3 1.7"/>
<path d="M258.4,342.67 C260.73,342.14 267.73,340.69 272.4,339.49 C277.07,338.29 281.73,337.04 286.4,335.45 C291.07,333.87 295.73,331.8 300.4,329.97 C305.07,328.14 309.73,326.22 314.4,324.49 C319.07,322.76 323.73,321.17 328.4,319.59 C333.07,318 337.73,316.41 342.4,314.97 C347.07,313.53 351.73,312.23 356.4,310.93 C361.07,309.63 366.2,308.19 370.4,307.18 C374.6,306.17 376.93,305.26 381.6,304.87 C386.27,304.49 392.8,304.63 398.4,304.87 C404,305.11 408.67,305.88 415.2,306.31 C421.73,306.75 433.87,307.28 437.6,307.47" fill="none" stroke="#dc3a82" stroke-width="1.3" stroke-dasharray="1.3 1.7"/>
<path d="M258.4,342.67 C260.73,342.04 267.73,340.26 272.4,338.92 C277.07,337.57 281.73,336.22 286.4,334.59 C291.07,332.95 295.73,330.93 300.4,329.11 C305.07,327.28 309.73,325.5 314.4,323.62 C319.07,321.75 323.73,319.63 328.4,317.85 C333.07,316.08 337.73,314.73 342.4,312.95 C347.07,311.17 352.39,308.77 356.4,307.18 C360.41,305.59 363.21,304.08 366.48,303.43 C369.75,302.78 372.55,303.14 376,303.29 C379.45,303.43 383.47,303.98 387.2,304.3 C390.93,304.61 394.67,304.73 398.4,305.16 C402.13,305.59 406.33,306.17 409.6,306.89 C412.87,307.61 415.2,308.57 418,309.49 C420.8,310.4 423.13,311.51 426.4,312.37 C429.67,313.24 435.73,314.3 437.6,314.68" fill="none" stroke="#6cb246" stroke-width="1.5"/>
<path d="M258.4,342.67 C260.73,342.18 267.73,340.98 272.4,339.78 C277.07,338.58 281.73,337.23 286.4,335.45 C291.07,333.67 295.73,331.61 300.4,329.11 C305.07,326.61 309.73,323.53 314.4,320.45 C319.07,317.37 323.73,314.06 328.4,310.64 C333.07,307.23 336.8,304.78 342.4,299.97 C348,295.16 355.75,287.8 362,281.79 C368.25,275.78 374.79,269.29 379.92,263.9 C385.05,258.52 388.41,254.29 392.8,249.48 C397.19,244.67 401.48,239.57 406.24,235.06 C411,230.54 416.13,226.21 421.36,222.36 C426.59,218.51 434.89,213.71 437.6,211.97" fill="none" stroke="#dc3a82" stroke-width="1.5"/>
<line x1="278.6" y1="209.4" x2="299.4" y2="209.4" stroke="#444" stroke-width="1.5"/>
<text x="305.6" y="212.6" font-size="8.9" text-anchor="start" fill="#1e1e1e" stroke="#1e1e1e" stroke-width="0.15" transform="translate(305.6 212.6) scale(1 1.08) translate(-305.6 -212.6)">PMS</text>
<line x1="350.0" y1="209.2" x2="369.6" y2="209.2" stroke="#444" stroke-width="1.3" stroke-dasharray="1.3 1.6"/>
<text x="376.6" y="212.6" font-size="8.9" text-anchor="start" fill="#1e1e1e" stroke="#1e1e1e" stroke-width="0.15" transform="translate(376.6 212.6) scale(1 1.08) translate(-376.6 -212.6)">4-CP</text>
<line x1="273" y1="252" x2="292.4" y2="252" stroke="#dc3a82" stroke-width="1.5"/>
<text x="294.6" y="255" font-size="8.1" text-anchor="start" fill="#1e1e1e" stroke="#1e1e1e" stroke-width="0.15" transform="translate(294.6 255) scale(1 1.08) translate(-294.6 -255)">CoNC-MSi1</text>
<line x1="273" y1="265.4" x2="292.4" y2="265.4" stroke="#6cb246" stroke-width="1.5"/>
<text x="294.6" y="268.4" font-size="8.1" text-anchor="start" fill="#1e1e1e" stroke="#1e1e1e" stroke-width="0.15" transform="translate(294.6 268.4) scale(1 1.08) translate(-294.6 -268.4)">CoNC-MSi2</text>
<rect x="255.5" y="197.5" width="182" height="147" fill="none" stroke="#505050" stroke-width="1.0"/>
<text x="464.6" y="190" font-size="12.5" text-anchor="start" fill="#000" stroke="#000" stroke-width="0.15" font-weight="bold" transform="translate(464.6 190) scale(1 1.08) translate(-464.6 -190)">f</text>
<rect x="485.4" y="217.59" width="9.85" height="127.01" fill="url(#gctl)" stroke="#666" stroke-width="0.6"/>
<rect x="495.25" y="220.58" width="9.85" height="124.02" fill="url(#getoh)" stroke="#666" stroke-width="0.6"/>
<rect x="505.1" y="219.61" width="9.85" height="125" fill="url(#gtba)" stroke="#666" stroke-width="0.6"/>
<rect x="514.95" y="219.61" width="9.85" height="125" fill="url(#gmb)" stroke="#666" stroke-width="0.6"/>
<rect x="524.8" y="253.8" width="9.85" height="90.81" fill="url(#gffa)" stroke="#666" stroke-width="0.6"/>
<rect x="546" y="254.58" width="9.85" height="90.03" fill="url(#gctl)" stroke="#666" stroke-width="0.6"/>
<rect x="555.85" y="254.58" width="9.85" height="90.03" fill="url(#getoh)" stroke="#666" stroke-width="0.6"/>
<rect x="565.7" y="253.8" width="9.85" height="90.81" fill="url(#gtba)" stroke="#666" stroke-width="0.6"/>
<rect x="575.55" y="264.65" width="9.85" height="79.95" fill="url(#gmb)" stroke="#666" stroke-width="0.6"/>
<rect x="585.4" y="301.38" width="9.85" height="43.23" fill="url(#gffa)" stroke="#666" stroke-width="0.6"/>
<rect x="606.4" y="340.38" width="9.85" height="4.23" fill="url(#gctl)" stroke="#666" stroke-width="0.6"/>
<rect x="616.25" y="340.57" width="9.85" height="4.03" fill="url(#getoh)" stroke="#666" stroke-width="0.6"/>
<rect x="626.1" y="340.38" width="9.85" height="4.23" fill="url(#gtba)" stroke="#666" stroke-width="0.6"/>
<rect x="635.95" y="340.25" width="9.85" height="4.36" fill="url(#gmb)" stroke="#666" stroke-width="0.6"/>
<rect x="645.8" y="344.28" width="9.85" height="0.32" fill="url(#gffa)" stroke="#666" stroke-width="0.6"/>
<line x1="490.32" y1="212.39" x2="490.32" y2="222.79" stroke="#333" stroke-width="0.7"/>
<line x1="488.62" y1="212.39" x2="492.02" y2="212.39" stroke="#333" stroke-width="0.7"/>
<line x1="488.62" y1="222.79" x2="492.02" y2="222.79" stroke="#333" stroke-width="0.7"/>
<line x1="498.48" y1="220.58" x2="501.88" y2="220.58" stroke="#333" stroke-width="0.9"/>
<line x1="508.32" y1="219.61" x2="511.72" y2="219.61" stroke="#333" stroke-width="0.9"/>
<line x1="519.87" y1="217.79" x2="519.87" y2="221.43" stroke="#333" stroke-width="0.7"/>
<line x1="518.17" y1="217.79" x2="521.57" y2="217.79" stroke="#333" stroke-width="0.7"/>
<line x1="518.17" y1="221.43" x2="521.57" y2="221.43" stroke="#333" stroke-width="0.7"/>
<line x1="529.72" y1="248.27" x2="529.72" y2="259.32" stroke="#333" stroke-width="0.7"/>
<line x1="528.02" y1="248.27" x2="531.42" y2="248.27" stroke="#333" stroke-width="0.7"/>
<line x1="528.02" y1="259.32" x2="531.42" y2="259.32" stroke="#333" stroke-width="0.7"/>
<line x1="550.92" y1="250.81" x2="550.92" y2="258.35" stroke="#333" stroke-width="0.7"/>
<line x1="549.22" y1="250.81" x2="552.62" y2="250.81" stroke="#333" stroke-width="0.7"/>
<line x1="549.22" y1="258.35" x2="552.62" y2="258.35" stroke="#333" stroke-width="0.7"/>
<line x1="560.77" y1="252.63" x2="560.77" y2="256.53" stroke="#333" stroke-width="0.7"/>
<line x1="559.07" y1="252.63" x2="562.48" y2="252.63" stroke="#333" stroke-width="0.7"/>
<line x1="559.07" y1="256.53" x2="562.48" y2="256.53" stroke="#333" stroke-width="0.7"/>
<line x1="570.62" y1="253.02" x2="570.62" y2="254.58" stroke="#333" stroke-width="0.7"/>
<line x1="568.92" y1="253.02" x2="572.33" y2="253.02" stroke="#333" stroke-width="0.7"/>
<line x1="568.92" y1="254.58" x2="572.33" y2="254.58" stroke="#333" stroke-width="0.7"/>
<line x1="580.47" y1="251" x2="580.47" y2="278.3" stroke="#333" stroke-width="0.7"/>
<line x1="578.77" y1="251" x2="582.17" y2="251" stroke="#333" stroke-width="0.7"/>
<line x1="578.77" y1="278.3" x2="582.17" y2="278.3" stroke="#333" stroke-width="0.7"/>
<line x1="588.62" y1="301.38" x2="592.02" y2="301.38" stroke="#333" stroke-width="0.9"/>
<line x1="609.62" y1="340.38" x2="613.02" y2="340.38" stroke="#333" stroke-width="0.9"/>
<line x1="619.47" y1="340.57" x2="622.88" y2="340.57" stroke="#333" stroke-width="0.9"/>
<line x1="629.32" y1="340.38" x2="632.73" y2="340.38" stroke="#333" stroke-width="0.9"/>
<line x1="639.17" y1="340.25" x2="642.57" y2="340.25" stroke="#333" stroke-width="0.9"/>
<line x1="649.02" y1="344.28" x2="652.42" y2="344.28" stroke="#333" stroke-width="0.9"/>
<line x1="647" y1="343.9" x2="656" y2="343.9" stroke="#333" stroke-width="0.9"/>
<line x1="477.1" y1="344.5" x2="479.5" y2="344.5" stroke="#505050" stroke-width="0.9"/>
<text x="474.8" y="347.46" font-size="8.4" text-anchor="end" fill="#1e1e1e" stroke="#1e1e1e" stroke-width="0.15" transform="translate(474.8 347.46) scale(1 1.08) translate(-474.8 -347.46)">0.0</text>
<line x1="477.1" y1="312.5" x2="479.5" y2="312.5" stroke="#505050" stroke-width="0.9"/>
<text x="474.8" y="314.96" font-size="8.4" text-anchor="end" fill="#1e1e1e" stroke="#1e1e1e" stroke-width="0.15" transform="translate(474.8 314.96) scale(1 1.08) translate(-474.8 -314.96)">0.5</text>
<line x1="477.1" y1="279.5" x2="479.5" y2="279.5" stroke="#505050" stroke-width="0.9"/>
<text x="474.8" y="282.46" font-size="8.4" text-anchor="end" fill="#1e1e1e" stroke="#1e1e1e" stroke-width="0.15" transform="translate(474.8 282.46) scale(1 1.08) translate(-474.8 -282.46)">1.0</text>
<line x1="477.1" y1="247.5" x2="479.5" y2="247.5" stroke="#505050" stroke-width="0.9"/>
<text x="474.8" y="249.96" font-size="8.4" text-anchor="end" fill="#1e1e1e" stroke="#1e1e1e" stroke-width="0.15" transform="translate(474.8 249.96) scale(1 1.08) translate(-474.8 -249.96)">1.5</text>
<line x1="477.1" y1="214.5" x2="479.5" y2="214.5" stroke="#505050" stroke-width="0.9"/>
<text x="474.8" y="217.46" font-size="8.4" text-anchor="end" fill="#1e1e1e" stroke="#1e1e1e" stroke-width="0.15" transform="translate(474.8 217.46) scale(1 1.08) translate(-474.8 -217.46)">2.0</text>
<line x1="478.2" y1="328.5" x2="479.5" y2="328.5" stroke="#505050" stroke-width="0.9"/>
<line x1="478.2" y1="295.5" x2="479.5" y2="295.5" stroke="#505050" stroke-width="0.9"/>
<line x1="478.2" y1="263.5" x2="479.5" y2="263.5" stroke="#505050" stroke-width="0.9"/>
<line x1="478.2" y1="230.5" x2="479.5" y2="230.5" stroke="#505050" stroke-width="0.9"/>
<line x1="478.2" y1="198.5" x2="479.5" y2="198.5" stroke="#505050" stroke-width="0.9"/>
<text x="510" y="355.8" font-size="8.9" text-anchor="middle" fill="#1e1e1e" stroke="#1e1e1e" stroke-width="0.15" transform="translate(510 355.8) scale(1 1.08) translate(-510 -355.8)">CoNC-MSi1</text>
<text x="570.6" y="355.8" font-size="8.9" text-anchor="middle" fill="#1e1e1e" stroke="#1e1e1e" stroke-width="0.15" transform="translate(570.6 355.8) scale(1 1.08) translate(-570.6 -355.8)">CoNC-MSi2</text>
<text x="631" y="355.8" font-size="8.9" text-anchor="middle" fill="#1e1e1e" stroke="#1e1e1e" stroke-width="0.15" transform="translate(631 355.8) scale(1 1.08) translate(-631 -355.8)">CoNC-Si</text>
<text x="457.6" y="271.2" font-size="8.9" text-anchor="middle" fill="#1e1e1e" stroke="#1e1e1e" stroke-width="0.15" transform="translate(457.6 271.2) rotate(-90) scale(1 1.08) translate(-457.6 -271.2)">k<tspan font-size="6.5" dy="2">obs</tspan><tspan dy="-2"> (min</tspan><tspan font-size="6.5" dy="-3">-1</tspan><tspan dy="3">)</tspan></text>
<rect x="605.6" y="209.6" width="13.4" height="7" fill="url(#gctl)" stroke="#888" stroke-width="0.6" rx="1"/>
<text x="622" y="215.8" font-size="7.4" text-anchor="start" fill="#1e1e1e" stroke="#1e1e1e" stroke-width="0.15" transform="translate(622 215.8) scale(1 1.08) translate(-622 -215.8)">Control</text>
<rect x="605.6" y="221.6" width="13.4" height="7" fill="url(#getoh)" stroke="#888" stroke-width="0.6" rx="1"/>
<text x="622" y="227.8" font-size="7.4" text-anchor="start" fill="#1e1e1e" stroke="#1e1e1e" stroke-width="0.15" transform="translate(622 227.8) scale(1 1.08) translate(-622 -227.8)">EtOH</text>
<rect x="605.6" y="233.6" width="13.4" height="7" fill="url(#gtba)" stroke="#888" stroke-width="0.6" rx="1"/>
<text x="622" y="239.8" font-size="7.4" text-anchor="start" fill="#1e1e1e" stroke="#1e1e1e" stroke-width="0.15" transform="translate(622 239.8) scale(1 1.08) translate(-622 -239.8)">TBA</text>
<rect x="605.6" y="245.6" width="13.4" height="7" fill="url(#gmb)" stroke="#888" stroke-width="0.6" rx="1"/>
<text x="622" y="251.8" font-size="7.4" text-anchor="start" fill="#1e1e1e" stroke="#1e1e1e" stroke-width="0.15" transform="translate(622 251.8) scale(1 1.08) translate(-622 -251.8)">MB</text>
<rect x="605.6" y="257.6" width="13.4" height="7" fill="url(#gffa)" stroke="#888" stroke-width="0.6" rx="1"/>
<text x="622" y="263.8" font-size="7.4" text-anchor="start" fill="#1e1e1e" stroke="#1e1e1e" stroke-width="0.15" transform="translate(622 263.8) scale(1 1.08) translate(-622 -263.8)">FFA</text>
<rect x="479.5" y="197.5" width="182" height="147" fill="none" stroke="#505050" stroke-width="1.0"/>
<text x="10.8" y="374" font-size="12.5" text-anchor="start" fill="#000" stroke="#000" stroke-width="0.15" font-weight="bold" transform="translate(10.8 374) scale(1 1.08) translate(-10.8 -374)">g</text>
<line x1="60.5" y1="520.5" x2="60.5" y2="522.9" stroke="#505050" stroke-width="0.9"/>
<text x="60.4" y="532" font-size="8.4" text-anchor="middle" fill="#1e1e1e" stroke="#1e1e1e" stroke-width="0.15" transform="translate(60.4 532) scale(1 1.08) translate(-60.4 -532)">3450</text>
<line x1="94.5" y1="520.5" x2="94.5" y2="522.9" stroke="#505050" stroke-width="0.9"/>
<text x="94.4" y="532" font-size="8.4" text-anchor="middle" fill="#1e1e1e" stroke="#1e1e1e" stroke-width="0.15" transform="translate(94.4 532) scale(1 1.08) translate(-94.4 -532)">3480</text>
<line x1="128.5" y1="520.5" x2="128.5" y2="522.9" stroke="#505050" stroke-width="0.9"/>
<text x="128.4" y="532" font-size="8.4" text-anchor="middle" fill="#1e1e1e" stroke="#1e1e1e" stroke-width="0.15" transform="translate(128.4 532) scale(1 1.08) translate(-128.4 -532)">3510</text>
<line x1="162.5" y1="520.5" x2="162.5" y2="522.9" stroke="#505050" stroke-width="0.9"/>
<text x="162.4" y="532" font-size="8.4" text-anchor="middle" fill="#1e1e1e" stroke="#1e1e1e" stroke-width="0.15" transform="translate(162.4 532) scale(1 1.08) translate(-162.4 -532)">3540</text>
<line x1="196.5" y1="520.5" x2="196.5" y2="522.9" stroke="#505050" stroke-width="0.9"/>
<text x="196.4" y="532" font-size="8.4" text-anchor="middle" fill="#1e1e1e" stroke="#1e1e1e" stroke-width="0.15" transform="translate(196.4 532) scale(1 1.08) translate(-196.4 -532)">3570</text>
<line x1="43.5" y1="520.5" x2="43.5" y2="521.8" stroke="#505050" stroke-width="0.9"/>
<line x1="77.5" y1="520.5" x2="77.5" y2="521.8" stroke="#505050" stroke-width="0.9"/>
<line x1="111.5" y1="520.5" x2="111.5" y2="521.8" stroke="#505050" stroke-width="0.9"/>
<line x1="145.5" y1="520.5" x2="145.5" y2="521.8" stroke="#505050" stroke-width="0.9"/>
<line x1="179.5" y1="520.5" x2="179.5" y2="521.8" stroke="#505050" stroke-width="0.9"/>
<line x1="213.5" y1="520.5" x2="213.5" y2="521.8" stroke="#505050" stroke-width="0.9"/>
<text x="122.4" y="541.2" font-size="8.9" text-anchor="middle" fill="#1e1e1e" stroke="#1e1e1e" stroke-width="0.15" transform="translate(122.4 541.2) scale(1 1.08) translate(-122.4 -541.2)">Magentic field (Gauss)</text>
<text x="25" y="447" font-size="8.9" text-anchor="middle" fill="#1e1e1e" stroke="#1e1e1e" stroke-width="0.15" transform="translate(25 447) rotate(-90) scale(1 1.08) translate(-25 -447)">Intensity (a.u.)</text>
<polyline points="31.9,384.01 32.8,384.1 33.7,383.98 34.6,384.06 35.5,384.01 36.4,383.99 37.3,384.14 38.2,384.08 39.1,384.04 40,384.07 40.9,384.12 41.8,384.06 42.7,384.07 43.6,383.96 44.5,383.95 45.4,383.94 46.3,383.87 47.2,383.82 48.1,383.79 49,383.88 49.9,383.93 50.8,383.94 51.7,383.97 52.6,383.89 53.5,383.94 54.4,383.99 55.3,384.05 56.2,383.96 57.1,383.95 58,383.82 58.9,383.87 59.8,383.77 60.7,383.78 61.6,383.97 62.5,383.82 63.4,383.97 64.3,384.01 65.2,383.98 66.1,384.03 67,384.05 67.9,384.1 68.8,384.03 69.7,383.97 70.6,383.94 71.5,383.9 72.4,383.94 73.3,383.91 74.2,384.04 75.1,383.88 76,383.86 76.9,383.86 77.8,383.77 78.7,384.03 79.6,383.83 80.5,383.9 81.4,383.91 82.3,384.08 83.2,383.89 84.1,384.03 85,383.96 85.9,383.97 86.8,383.93 87.7,384.01 88.6,383.92 89.5,383.96 90.4,384 91.3,384.14 92.2,383.89 93.1,384.06 94,384.1 94.9,384.01 95.8,384.03 96.7,383.98 97.6,384.11 98.5,384.07 99.4,384.02 100.3,383.99 101.2,383.98 102.1,383.98 103,383.92 103.9,384.12 104.8,383.91 105.7,383.69 106.6,383.83 107.5,383.91 108.4,383.98 109.3,383.98 110.2,383.98 111.1,384.01 112,384.08 112.9,384.01 113.8,383.98 114.7,384.13 115.6,384.11 116.5,383.98 117.4,384.16 118.3,384.14 119.2,384.03 120.1,383.92 121,383.98 121.9,383.93 122.8,383.89 123.7,383.85 124.6,383.88 125.5,384.03 126.4,383.98 127.3,383.88 128.2,383.99 129.1,384 130,384.06 130.9,384.12 131.8,384.05 132.7,384.01 133.6,384 134.5,383.92 135.4,384.01 136.3,384.11 137.2,384.07 138.1,384.02 139,383.99 139.9,383.94 140.8,383.91 141.7,383.92 142.6,383.9 143.5,383.92 144.4,383.84 145.3,383.95 146.2,383.98 147.1,383.9 148,383.78 148.9,383.89 149.8,384.03 150.7,383.96 151.6,383.94 152.5,383.93 153.4,384.01 154.3,383.94 155.2,384.04 156.1,384 157,384.07 157.9,384.04 158.8,384 159.7,383.89 160.6,383.89 161.5,383.93 162.4,384.01 163.3,384.02 164.2,383.96 165.1,384.01 166,384.08 166.9,384.03 167.8,383.98 168.7,383.96 169.6,384.04 170.5,384.06 171.4,383.96 172.3,384.01 173.2,383.97 174.1,383.93 175,384.06 175.9,384.09 176.8,383.99 177.7,384 178.6,384.04 179.5,383.97 180.4,383.98 181.3,384.04 182.2,383.88 183.1,383.97 184,384.04 184.9,384.06 185.8,383.93 186.7,383.99 187.6,383.93 188.5,384.01 189.4,384.05 190.3,384.04 191.2,383.96 192.1,383.94 193,384.03 193.9,383.95 194.8,384.01 195.7,384.04 196.6,384 197.5,384.18 198.4,384.1 199.3,384.21 200.2,383.95 201.1,383.81 202,383.98 202.9,384.04 203.8,383.99 204.7,383.99 205.6,383.85 206.5,383.88 207.4,383.86 208.3,383.91 209.2,384.02 210.1,384.02 211,384.04 211.9,383.97 212.8,383.95 212.9,383.98" fill="none" stroke="#c4c4c4" stroke-width="1.35" stroke-linejoin="round" stroke-linecap="round"/>
<polyline points="31.9,397.57 32.8,397.7 33.7,397.57 34.6,397.76 35.5,397.59 36.4,397.69 37.3,397.58 38.2,397.74 39.1,397.68 40,397.68 40.9,397.71 41.8,397.6 42.7,397.5 43.6,397.37 44.5,397.59 45.4,397.53 46.3,397.51 47.2,397.55 48.1,397.76 49,397.52 49.9,397.58 50.8,397.56 51.7,397.63 52.6,397.45 53.5,397.49 54.4,397.62 55.3,397.75 56.2,397.82 57.1,397.63 58,397.62 58.9,397.6 59.8,397.48 60.7,397.41 61.6,397.57 62.5,397.61 63.4,397.59 64.3,397.71 65.2,397.56 66.1,397.63 67,397.62 67.9,397.6 68.8,397.65 69.7,397.64 70.6,397.64 71.5,397.65 72.4,397.8 73.3,397.67 74.2,397.73 75.1,397.72 76,397.63 76.9,397.69 77.8,397.57 78.7,397.69 79.6,397.57 80.5,397.54 81.4,397.6 82.3,397.67 83.2,397.72 84.1,397.74 85,397.65 85.9,397.54 86.8,397.62 87.7,397.64 88.6,397.53 89.5,397.65 90.4,397.64 91.3,397.54 92.2,397.61 93.1,397.48 94,397.46 94.9,397.57 95.8,397.44 96.7,397.53 97.6,397.44 98.5,397.59 99.4,397.53 100.3,397.58 101.2,397.45 102.1,397.5 103,397.63 103.9,397.66 104.8,397.46 105.7,397.61 106.6,397.68 106.72,397.59 106.84,397.69 106.96,397.5 107.08,397.47 107.2,397.52 107.32,397.53 107.44,397.48 107.56,397.21 107.68,396.98 107.8,397.06 107.92,396.96 108.04,397.08 108.16,397.11 108.28,397.44 108.4,397.68 108.52,397.87 108.64,397.97 108.76,398.06 108.88,398.08 109,398.12 109.12,398.09 109.24,398.05 109.36,397.9 109.48,398 109.6,397.88 109.72,397.89 109.84,397.88 109.96,397.67 110.08,397.48 110.2,397.66 110.32,397.59 110.44,397.6 110.56,397.58 110.68,397.6 110.8,397.48 110.92,397.51 111.04,397.48 111.16,397.48 111.28,397.24 111.4,397.35 111.52,397.29 111.64,396.99 111.76,396.84 111.88,396.76 112,396.72 112.12,396.62 112.24,396.74 112.36,396.78 112.48,396.87 112.6,397.13 112.72,397.59 112.84,397.88 112.96,398.29 113.08,398.58 113.2,398.69 113.32,398.74 113.44,398.58 113.56,398.43 113.68,398.2 113.8,398.01 113.92,397.77 114.04,397.69 114.16,397.58 114.28,397.48 114.4,397.56 114.52,397.62 114.64,397.58 114.76,397.71 114.88,397.74 115,397.76 115.12,397.62 115.24,397.47 115.36,397.57 115.48,397.58 115.6,397.61 115.72,397.57 115.84,397.6 115.96,397.43 116.08,397.38 116.2,397.18 116.32,396.92 116.44,396.95 116.56,397.16 116.68,397.03 116.8,397.28 116.92,397.35 117.04,397.51 117.16,397.72 117.28,397.91 117.4,397.94 117.52,398.06 117.64,398.12 117.76,398.15 117.88,397.98 118,398.05 118.12,398.08 118.24,398.11 118.36,397.77 118.48,397.71 118.6,397.5 118.72,397.59 118.84,397.64 118.96,397.52 119.08,397.42 119.2,397.52 119.32,397.61 119.44,397.53 119.56,397.52 119.68,397.3 119.8,397.34 119.92,397.39 120.04,397.37 120.16,397.43 120.28,397.13 120.4,396.79 120.52,396.78 120.64,396.62 120.76,396.6 120.88,396.66 121,396.77 121.12,397.05 121.24,397.37 121.36,397.46 121.48,397.84 121.6,398.35 121.72,398.47 121.84,398.68 121.96,398.65 122.08,398.53 122.2,398.56 122.32,398.43 122.44,398.17 122.56,398.08 122.68,397.78 122.8,397.66 122.92,397.73 123.04,397.67 123.16,397.54 123.28,397.61 123.4,397.64 123.52,397.73 123.64,397.75 123.76,397.65 123.88,397.57 124,397.56 124.12,397.53 124.24,397.66 124.36,397.71 124.48,397.68 124.6,397.53 124.72,397.36 124.84,397.34 124.96,397.18 125.08,397.14 125.2,396.97 125.32,397.03 125.44,397.31 125.56,397.32 125.68,397.38 125.8,397.62 125.92,397.98 126.04,398.19 126.16,398.14 126.28,398.09 126.4,398.06 126.52,397.92 126.64,397.9 126.76,397.81 126.88,397.63 127,397.6 127.12,397.59 127.24,397.53 127.36,397.47 127.48,397.62 127.6,397.78 127.72,397.66 127.84,397.59 127.96,397.64 128.08,397.59 128.2,397.51 128.32,397.65 128.44,397.48 128.56,397.4 128.68,397.31 128.8,397.18 128.92,397.1 129.04,397.05 129.16,397.01 129.28,396.86 129.4,396.7 129.52,396.52 129.64,396.62 129.76,396.74 129.88,397.05 130,397.51 130.12,397.85 130.24,398.14 130.36,398.33 130.48,398.51 130.6,398.59 130.72,398.47 130.84,398.35 130.96,398.33 131.08,398 131.2,397.88 131.32,397.71 131.44,397.83 131.56,397.79 131.68,397.75 131.8,397.71 131.92,397.68 132.04,397.67 132.16,397.49 132.28,397.57 132.4,397.63 132.52,397.48 132.64,397.6 132.76,397.64 132.88,397.44 133,397.42 133.12,397.39 133.24,397.32 133.36,397.32 133.48,397.13 133.6,397.09 133.72,397.1 133.84,397.16 133.96,397.16 134.08,397.21 134.2,397.4 134.32,397.36 134.44,397.7 134.56,397.83 134.68,397.86 134.8,397.97 134.92,397.88 135.04,397.79 135.16,397.85 135.28,397.8 135.4,397.86 135.52,397.71 135.64,397.58 135.76,397.52 135.88,397.73 136,397.67 136.12,397.58 136.24,397.5 136.36,397.45 136.48,397.51 136.6,397.59 137.5,397.7 138.4,397.75 139.3,397.7 140.2,397.59 141.1,397.52 142,397.35 142.9,397.38 143.8,397.53 144.7,397.53 145.6,397.6 146.5,397.48 147.4,397.62 148.3,397.64 149.2,397.62 150.1,397.65 151,397.42 151.9,397.46 152.8,397.45 153.7,397.69 154.6,397.63 155.5,397.57 156.4,397.66 157.3,397.54 158.2,397.7 159.1,397.58 160,397.59 160.9,397.51 161.8,397.63 162.7,397.42 163.6,397.57 164.5,397.51 165.4,397.56 166.3,397.48 167.2,397.56 168.1,397.6 169,397.65 169.9,397.65 170.8,397.68 171.7,397.73 172.6,397.63 173.5,397.51 174.4,397.44 175.3,397.58 176.2,397.56 177.1,397.67 178,397.64 178.9,397.53 179.8,397.65 180.7,397.8 181.6,397.68 182.5,397.56 183.4,397.5 184.3,397.63 185.2,397.56 186.1,397.54 187,397.63 187.9,397.62 188.8,397.62 189.7,397.56 190.6,397.52 191.5,397.58 192.4,397.6 193.3,397.65 194.2,397.58 195.1,397.62 196,397.65 196.9,397.63 197.8,397.67 198.7,397.73 199.6,397.68 200.5,397.65 201.4,397.54 202.3,397.6 203.2,397.59 204.1,397.57 205,397.51 205.9,397.61 206.8,397.83 207.7,397.76 208.6,397.69 209.5,397.68 210.4,397.59 211.3,397.6 212.2,397.54 212.9,397.51" fill="none" stroke="#a070f4" stroke-width="1.35" stroke-linejoin="round" stroke-linecap="round"/>
<polyline points="31.9,419.01 32.8,419.02 33.7,419 34.6,418.95 35.5,418.99 36.4,418.93 37.3,419.01 38.2,418.99 39.1,418.99 40,419.04 40.9,419.06 41.8,418.95 42.7,418.96 43.6,419 44.5,418.94 45.4,418.82 46.3,418.91 47.2,418.95 48.1,419 49,419.01 49.9,419.01 50.8,419.02 51.7,419.09 52.6,419.08 53.5,419.07 54.4,419.01 55.3,419.07 56.2,419.03 57.1,419.06 58,418.9 58.9,418.97 59.8,418.98 60.7,418.96 61.6,419.06 62.5,419.05 63.4,419.02 64.3,418.98 65.2,419.1 66.1,419.1 67,419.09 67.9,419 68.8,419.08 69.7,419.07 70.6,419.02 71.5,419 72.4,418.9 73.3,418.99 74.2,418.93 75.1,419.02 76,418.98 76.9,418.95 77.8,419 78.7,419.01 79.6,418.94 80.5,418.96 81.4,419.02 82.3,418.99 83.2,418.92 84.1,418.94 85,418.91 85.9,418.92 86.8,418.96 87.7,418.98 88.6,418.98 89.5,418.89 90.4,418.97 91.3,418.97 92.2,418.96 93.1,418.99 94,419.11 94.9,418.98 95.8,418.89 96.7,418.99 97.6,418.95 98.5,419.05 99.4,418.97 100.3,418.95 101.2,419.03 102.1,419.07 103,419.06 103.9,419.06 104.8,419.02 105.7,418.98 106.6,418.81 106.72,418.75 106.84,418.52 106.96,418.11 107.08,417.57 107.2,416.87 107.32,416 107.44,414.9 107.56,413.84 107.68,412.98 107.8,412.62 107.92,412.61 108.04,413.38 108.16,414.65 108.28,416.72 108.4,418.93 108.52,421.22 108.64,423.23 108.76,424.7 108.88,425.47 109,425.56 109.12,425.07 109.24,424.16 109.36,423.29 109.48,422.2 109.6,421.29 109.72,420.63 109.84,420.06 109.96,419.66 110.08,419.38 110.2,419.31 110.32,419.09 110.44,418.97 110.56,418.97 110.68,418.8 110.8,418.73 110.92,418.69 111.04,418.38 111.16,417.94 111.28,417.26 111.4,416.12 111.52,414.73 111.64,412.91 111.76,410.81 111.88,408.75 112,407 112.12,405.91 112.24,405.9 112.36,407.35 112.48,410.16 112.6,414.07 112.72,418.64 112.84,423.22 112.96,427.27 113.08,430.21 113.2,431.87 113.32,432.17 113.44,431.28 113.56,429.55 113.68,427.45 113.8,425.39 113.92,423.54 114.04,422.08 114.16,421.03 114.28,420.17 114.4,419.79 114.52,419.29 114.64,419.04 114.76,418.92 114.88,418.88 115,418.9 115.12,419.01 115.24,418.85 115.36,418.78 115.48,418.51 115.6,418.16 115.72,417.58 115.84,417.05 115.96,416.11 116.08,415.03 116.2,414.12 116.32,413.15 116.44,412.56 116.56,412.48 116.68,413.04 116.8,414.3 116.92,416.26 117.04,418.67 117.16,421 117.28,423.04 117.4,424.63 117.52,425.4 117.64,425.65 117.76,425.2 117.88,424.31 118,423.34 118.12,422.32 118.24,421.34 118.36,420.59 118.48,420.07 118.6,419.72 118.72,419.35 118.84,419.03 118.96,419.14 119.08,419.04 119.2,418.97 119.32,418.96 119.44,418.84 119.56,418.77 119.68,418.41 119.8,418 119.92,417.27 120.04,416.42 120.16,415.02 120.28,413.34 120.4,411.36 120.52,409.14 120.64,407.27 120.76,406.1 120.88,405.89 121,407 121.12,409.58 121.24,413.36 121.36,417.82 121.48,422.51 121.6,426.76 121.72,429.94 121.84,431.76 121.96,432.13 122.08,431.51 122.2,429.86 122.32,427.84 122.44,425.73 122.56,423.83 122.68,422.28 122.8,421.04 122.92,420.26 123.04,419.8 123.16,419.45 123.28,419.27 123.4,419.16 123.52,419.07 123.64,419.11 123.76,418.96 123.88,418.9 124,418.82 124.12,418.6 124.24,418.18 124.36,417.65 124.48,417.12 124.6,416.18 124.72,415.2 124.84,414.18 124.96,413.23 125.08,412.47 125.2,412.26 125.32,412.84 125.44,414.04 125.56,415.91 125.68,418.19 125.8,420.56 125.92,422.62 126.04,424.2 126.16,425.31 126.28,425.55 126.4,425.17 126.52,424.33 126.64,423.44 126.76,422.34 126.88,421.37 127,420.67 127.12,420.09 127.24,419.7 127.36,419.32 127.48,419.01 127.6,418.94 127.72,418.94 127.84,418.91 127.96,418.96 128.08,418.9 128.2,418.7 128.32,418.52 128.44,418.12 128.56,417.47 128.68,416.61 128.8,415.19 128.92,413.61 129.04,411.67 129.16,409.41 129.28,407.51 129.4,406.17 129.52,405.73 129.64,406.64 129.76,408.93 129.88,412.55 130,416.98 130.12,421.59 130.24,426.08 130.36,429.52 130.48,431.51 130.6,432.24 130.72,431.76 130.84,430.12 130.96,428.13 131.08,426.01 131.2,424.12 131.32,422.48 131.44,421.17 131.56,420.41 131.68,419.79 131.8,419.48 131.92,419.38 132.04,419.14 132.16,419.03 132.28,419.05 132.4,418.97 132.52,418.92 132.64,418.79 132.76,418.76 132.88,418.41 133,417.91 133.12,417.24 133.24,416.42 133.36,415.31 133.48,414.28 133.6,413.37 133.72,412.58 133.84,412.37 133.96,412.77 134.08,413.84 134.2,415.75 134.32,417.93 134.44,420.25 134.56,422.37 134.68,424.11 134.8,425.19 134.92,425.58 135.04,425.36 135.16,424.8 135.28,423.82 135.4,422.8 135.52,421.81 135.64,421.06 135.76,420.26 135.88,419.69 136,419.41 136.12,419.24 136.24,419.13 136.36,419.03 136.48,419.05 136.6,419.13 137.5,419.07 138.4,419.02 139.3,419.08 140.2,419.02 141.1,418.99 142,419.01 142.9,418.87 143.8,419.05 144.7,419.02 145.6,419.04 146.5,419.04 147.4,419.04 148.3,418.94 149.2,419.08 150.1,419.07 151,419.05 151.9,419.22 152.8,419.03 153.7,419.06 154.6,419.02 155.5,418.92 156.4,419.08 157.3,418.95 158.2,418.98 159.1,418.99 160,419 160.9,418.95 161.8,419.06 162.7,419.04 163.6,418.95 164.5,418.9 165.4,418.97 166.3,418.91 167.2,418.98 168.1,419.01 169,418.97 169.9,418.87 170.8,418.86 171.7,418.95 172.6,418.94 173.5,419.08 174.4,419.02 175.3,419.03 176.2,419.06 177.1,419.03 178,419.04 178.9,419.08 179.8,419.03 180.7,419.04 181.6,419 182.5,419.12 183.4,419.07 184.3,419.09 185.2,418.86 186.1,418.9 187,418.88 187.9,418.94 188.8,418.95 189.7,418.91 190.6,418.94 191.5,419.02 192.4,419.07 193.3,419.01 194.2,419.07 195.1,419 196,419.04 196.9,418.97 197.8,419.05 198.7,419.16 199.6,419.06 200.5,419.11 201.4,418.97 202.3,418.95 203.2,419.13 204.1,419.06 205,419.06 205.9,418.93 206.8,418.97 207.7,418.94 208.6,419.04 209.5,418.99 210.4,419.15 211.3,419.01 212.2,419.02 212.9,418.89" fill="none" stroke="#d83a7c" stroke-width="1.35" stroke-linejoin="round" stroke-linecap="round"/>
<polyline points="31.9,439.38 32.8,439.46 33.7,439.42 34.6,439.33 35.5,439.4 36.4,439.46 37.3,439.45 38.2,439.49 39.1,439.36 40,439.49 40.9,439.49 41.8,439.32 42.7,439.47 43.6,439.41 44.5,439.43 45.4,439.3 46.3,439.31 47.2,439.25 48.1,439.37 49,439.37 49.9,439.33 50.8,439.34 51.7,439.44 52.6,439.37 53.5,439.42 54.4,439.34 55.3,439.27 56.2,439.31 57.1,439.34 58,439.38 58.9,439.45 59.8,439.4 60.7,439.38 61.6,439.43 62.5,439.44 63.4,439.42 64.3,439.42 65.2,439.28 66.1,439.31 67,439.26 67.9,439.31 68.8,439.41 69.7,439.3 70.6,439.41 71.5,439.37 72.4,439.37 73.3,439.36 74.2,439.42 75.1,439.37 76,439.26 76.9,439.35 77.8,439.37 78.7,439.42 79.6,439.45 80.5,439.35 81.4,439.39 82.3,439.4 83.2,439.4 84.1,439.4 85,439.42 85.9,439.38 86.8,439.38 87.7,439.45 88.6,439.36 89.5,439.38 90.4,439.33 91.3,439.3 92.2,439.32 93.1,439.37 94,439.48 94.9,439.43 95.8,439.47 96.7,439.47 97.6,439.44 98.5,439.23 99.4,439.32 100.3,439.37 101.2,439.32 102.1,439.37 103,439.47 103.9,439.37 104.8,439.35 105.7,439.43 106.6,439.24 106.72,439.16 106.84,439.13 106.96,439.05 107.08,438.87 107.2,438.56 107.32,438.27 107.44,437.76 107.56,437.18 107.68,436.81 107.8,436.65 107.92,436.68 108.04,436.86 108.16,437.54 108.28,438.36 108.4,439.36 108.52,440.45 108.64,441.25 108.76,441.81 108.88,442.13 109,442.13 109.12,442.06 109.24,441.7 109.36,441.26 109.48,440.73 109.6,440.3 109.72,440.02 109.84,439.66 109.96,439.63 110.08,439.45 110.2,439.44 110.32,439.44 110.44,439.37 110.56,439.39 110.68,439.41 110.8,439.47 110.92,439.36 111.04,439.3 111.16,439.06 111.28,438.69 111.4,438.27 111.52,437.6 111.64,436.84 111.76,436.01 111.88,435.17 112,434.38 112.12,433.81 112.24,433.92 112.36,434.48 112.48,435.61 112.6,437.23 112.72,439.24 112.84,441.24 112.96,442.99 113.08,444.22 113.2,444.98 113.32,445.01 113.44,444.62 113.56,443.9 113.68,443.07 113.8,442.11 113.92,441.3 114.04,440.67 114.16,440.17 114.28,439.83 114.4,439.57 114.52,439.54 114.64,439.56 114.76,439.42 114.88,439.45 115,439.34 115.12,439.3 115.24,439.28 115.36,439.26 115.48,439.2 115.6,438.93 115.72,438.69 115.84,438.46 115.96,438.1 116.08,437.82 116.2,437.31 116.32,436.87 116.44,436.7 116.56,436.49 116.68,436.71 116.8,437.52 116.92,438.26 117.04,439.24 117.16,440.22 117.28,441.05 117.4,441.72 117.52,442.02 117.64,442.2 117.76,442.06 117.88,441.73 118,441.21 118.12,440.66 118.24,440.3 118.36,439.96 118.48,439.79 118.6,439.54 118.72,439.43 118.84,439.43 118.96,439.44 119.08,439.42 119.2,439.32 119.32,439.3 119.44,439.42 119.56,439.38 119.68,439.17 119.8,439.1 119.92,438.75 120.04,438.31 120.16,437.67 120.28,437.04 120.4,436.15 120.52,435.24 120.64,434.38 120.76,433.81 120.88,433.79 121,434.29 121.12,435.46 121.24,436.96 121.36,438.87 121.48,440.93 121.6,442.75 121.72,444.02 121.84,444.89 121.96,445.06 122.08,444.76 122.2,444.06 122.32,443.23 122.44,442.27 122.56,441.44 122.68,440.85 122.8,440.34 122.92,439.98 123.04,439.8 123.16,439.63 123.28,439.54 123.4,439.33 123.52,439.33 123.64,439.4 123.76,439.33 123.88,439.3 124,439.28 124.12,439.19 124.24,439.11 124.36,438.91 124.48,438.59 124.6,438.29 124.72,437.81 124.84,437.31 124.96,436.95 125.08,436.71 125.2,436.62 125.32,436.76 125.44,437.27 125.56,438.1 125.68,439.1 125.8,440.19 125.92,441.02 126.04,441.68 126.16,441.96 126.28,442.21 126.4,442.12 126.52,441.76 126.64,441.28 126.76,440.69 126.88,440.41 127,440.05 127.12,439.92 127.24,439.75 127.36,439.67 127.48,439.54 127.6,439.54 127.72,439.38 127.84,439.47 127.96,439.41 128.08,439.29 128.2,439.24 128.32,439.11 128.44,439 128.56,438.71 128.68,438.26 128.8,437.74 128.92,437.05 129.04,436.25 129.16,435.4 129.28,434.64 129.4,434.04 129.52,433.94 129.64,434.11 129.76,435.12 129.88,436.71 130,438.5 130.12,440.52 130.24,442.4 130.36,443.74 130.48,444.63 130.6,444.99 130.72,444.73 130.84,444.21 130.96,443.47 131.08,442.48 131.2,441.54 131.32,440.87 131.44,440.32 131.56,439.88 131.68,439.66 131.8,439.52 131.92,439.44 132.04,439.47 132.16,439.49 132.28,439.46 132.4,439.39 132.52,439.38 132.64,439.32 132.76,439.24 132.88,439.05 133,438.69 133.12,438.58 133.24,438.22 133.36,437.81 133.48,437.39 133.6,436.99 133.72,436.68 133.84,436.68 133.96,436.81 134.08,437.27 134.2,437.93 134.32,438.88 134.44,439.92 134.56,440.83 134.68,441.59 134.8,441.99 134.92,442.2 135.04,442.03 135.16,441.74 135.28,441.31 135.4,440.91 135.52,440.57 135.64,440.21 135.76,439.87 135.88,439.7 136,439.64 136.12,439.57 136.24,439.52 136.36,439.39 136.48,439.36 136.6,439.34 137.5,439.34 138.4,439.38 139.3,439.39 140.2,439.38 141.1,439.42 142,439.37 142.9,439.36 143.8,439.39 144.7,439.31 145.6,439.31 146.5,439.27 147.4,439.27 148.3,439.33 149.2,439.36 150.1,439.4 151,439.42 151.9,439.34 152.8,439.48 153.7,439.52 154.6,439.39 155.5,439.35 156.4,439.35 157.3,439.39 158.2,439.43 159.1,439.41 160,439.25 160.9,439.5 161.8,439.5 162.7,439.5 163.6,439.4 164.5,439.41 165.4,439.46 166.3,439.4 167.2,439.47 168.1,439.44 169,439.51 169.9,439.46 170.8,439.52 171.7,439.36 172.6,439.47 173.5,439.46 174.4,439.41 175.3,439.47 176.2,439.42 177.1,439.46 178,439.49 178.9,439.5 179.8,439.58 180.7,439.57 181.6,439.64 182.5,439.56 183.4,439.49 184.3,439.47 185.2,439.43 186.1,439.34 187,439.38 187.9,439.32 188.8,439.34 189.7,439.35 190.6,439.34 191.5,439.31 192.4,439.36 193.3,439.38 194.2,439.47 195.1,439.47 196,439.49 196.9,439.42 197.8,439.39 198.7,439.32 199.6,439.31 200.5,439.4 201.4,439.39 202.3,439.38 203.2,439.36 204.1,439.47 205,439.43 205.9,439.48 206.8,439.44 207.7,439.48 208.6,439.38 209.5,439.31 210.4,439.42 211.3,439.39 212.2,439.41 212.9,439.46" fill="none" stroke="#ea7aaa" stroke-width="1.35" stroke-linejoin="round" stroke-linecap="round"/>
<polyline points="31.9,462.24 32.8,462.24 33.7,462.15 34.6,462.13 35.5,462.17 36.4,462.22 37.3,462.24 38.2,462.24 39.1,462.18 40,462.19 40.9,462.25 41.8,462.17 42.7,462.15 43.6,462.23 44.5,462.31 45.4,462.28 46.3,462.24 47.2,462.16 48.1,462.17 49,462.14 49.9,462.18 50.8,462.23 51.7,462.24 52.6,462.3 53.5,462.19 54.4,462.12 55.3,462.24 56.2,462.28 57.1,462.18 58,462.2 58.9,462.14 59.8,462.17 60.7,462.2 61.6,462.26 62.5,462.17 63.4,462.11 64.3,462.19 65.2,462.17 66.1,462.27 67,462.17 67.9,462.15 68.8,462.01 69.7,462.17 70.6,462.27 71.5,462.26 72.4,462.21 73.3,462.08 74.2,462.06 75.1,462.1 76,462.26 76.9,462.28 77.8,462.21 78.7,462.23 79.6,462.25 80.5,462.25 81.4,462.17 82.3,462.16 83.2,462.24 84.1,462.26 85,462.21 85.9,462.35 86.8,462.29 87.7,462.22 88.6,462.27 89.5,462.28 90.4,462.23 91.3,462.32 92.2,462.33 93.1,462.26 94,462.27 94.9,462.28 95.8,462.22 96.7,462.26 97.6,462.2 98.5,462.18 99.4,462.23 100.3,462.14 101.2,462.15 102.1,462.12 103,462.2 103.9,462.17 104.8,462.29 105.7,462.34 106.6,462.1 106.72,461.99 106.84,461.77 106.96,461.49 107.08,461.13 107.2,460.64 107.32,460.03 107.44,459.27 107.56,458.3 107.68,457.6 107.8,457.22 107.92,457.26 108.04,457.84 108.16,458.97 108.28,460.44 108.4,462.16 108.52,464.08 108.64,465.57 108.76,466.74 108.88,467.17 109,467.27 109.12,466.94 109.24,466.28 109.36,465.37 109.48,464.6 109.6,463.84 109.72,463.23 109.84,462.86 109.96,462.63 110.08,462.43 110.2,462.32 110.32,462.29 110.44,462.2 110.56,462.2 110.68,462.2 110.8,462.15 110.92,462.03 111.04,461.72 111.16,461.37 111.28,460.81 111.4,460.08 111.52,458.88 111.64,457.58 111.76,455.95 111.88,454.46 112,453.09 112.12,452.3 112.24,452.37 112.36,453.48 112.48,455.45 112.6,458.42 112.72,461.79 112.84,465.37 112.96,468.44 113.08,470.77 113.2,471.98 113.32,472.15 113.44,471.39 113.56,470.12 113.68,468.52 113.8,466.99 113.92,465.52 114.04,464.46 114.16,463.7 114.28,463.25 114.4,462.88 114.52,462.64 114.64,462.47 114.76,462.42 114.88,462.3 115,462.25 115.12,462.07 115.24,462.02 115.36,462.02 115.48,461.73 115.6,461.53 115.72,461.15 115.84,460.61 115.96,459.97 116.08,459.2 116.2,458.34 116.32,457.68 116.44,457.15 116.56,457.27 116.68,457.73 116.8,458.78 116.92,460.15 117.04,462 117.16,463.79 117.28,465.32 117.4,466.46 117.52,467.11 117.64,467.17 117.76,466.85 117.88,466.22 118,465.48 118.12,464.78 118.24,464.09 118.36,463.47 118.48,463.04 118.6,462.68 118.72,462.44 118.84,462.24 118.96,462.14 119.08,462.09 119.2,462.12 119.32,462.11 119.44,462.1 119.56,462.06 119.68,461.87 119.8,461.5 119.92,460.95 120.04,460.19 120.16,459.2 120.28,457.82 120.4,456.22 120.52,454.67 120.64,453.36 120.76,452.49 120.88,452.33 121,453.04 121.12,454.98 121.24,457.89 121.36,461.38 121.48,465.01 121.6,468.07 121.72,470.49 121.84,471.78 121.96,472.14 122.08,471.57 122.2,470.43 122.32,468.9 122.44,467.2 122.56,465.8 122.68,464.67 122.8,463.87 122.92,463.16 123.04,462.7 123.16,462.44 123.28,462.38 123.4,462.27 123.52,462.23 123.64,462.22 123.76,462.12 123.88,462.15 124,461.94 124.12,461.93 124.24,461.6 124.36,461.19 124.48,460.67 124.6,459.98 124.72,459.23 124.84,458.43 124.96,457.7 125.08,457.26 125.2,457.2 125.32,457.56 125.44,458.5 125.56,459.85 125.68,461.59 125.8,463.36 125.92,464.93 126.04,466.22 126.16,466.96 126.28,467.15 126.4,466.92 126.52,466.38 126.64,465.54 126.76,464.75 126.88,464.09 127,463.48 127.12,463.07 127.24,462.87 127.36,462.5 127.48,462.38 127.6,462.27 127.72,462.31 127.84,462.27 127.96,462.12 128.08,462.15 128.2,462.03 128.32,461.82 128.44,461.53 128.56,461.07 128.68,460.31 128.8,459.32 128.92,458.15 129.04,456.56 129.16,454.94 129.28,453.56 129.4,452.46 129.52,452.18 129.64,452.89 129.76,454.58 129.88,457.3 130,460.63 130.12,464.23 130.24,467.56 130.36,470.12 130.48,471.71 130.6,472.23 130.72,471.82 130.84,470.61 130.96,469.13 131.08,467.64 131.2,466.1 131.32,464.85 131.44,463.91 131.56,463.2 131.68,462.82 131.8,462.54 131.92,462.36 132.04,462.32 132.16,462.32 132.28,462.16 132.4,462.11 132.52,462.07 132.64,461.92 132.76,461.87 132.88,461.78 133,461.42 133.12,460.96 133.24,460.15 133.36,459.41 133.48,458.56 133.6,457.92 133.72,457.37 133.84,457.19 133.96,457.52 134.08,458.38 134.2,459.77 134.32,461.45 134.44,463.22 134.56,464.72 134.68,466.13 134.8,466.94 134.92,467.12 135.04,466.99 135.16,466.45 135.28,465.72 135.4,464.99 135.52,464.14 135.64,463.58 135.76,463.16 135.88,462.72 136,462.59 136.12,462.37 136.24,462.24 136.36,462.28 136.48,462.24 136.6,462.11 137.5,462.11 138.4,462.2 139.3,462.17 140.2,462.15 141.1,462.18 142,462.19 142.9,462.15 143.8,462.12 144.7,462.19 145.6,462.27 146.5,462.08 147.4,462.17 148.3,462.24 149.2,462.17 150.1,462.27 151,462.15 151.9,462.23 152.8,462.31 153.7,462.35 154.6,462.11 155.5,462.16 156.4,462.12 157.3,462.18 158.2,462.28 159.1,462.26 160,462.33 160.9,462.16 161.8,462.13 162.7,462.13 163.6,462.21 164.5,462.28 165.4,462.19 166.3,462.14 167.2,462.22 168.1,462.13 169,462.2 169.9,462.15 170.8,462.17 171.7,462.31 172.6,462.24 173.5,462.22 174.4,462.16 175.3,462.21 176.2,462.3 177.1,462.29 178,462.17 178.9,462.2 179.8,462.3 180.7,462.19 181.6,462.19 182.5,462.14 183.4,462.13 184.3,462.11 185.2,462.07 186.1,462.17 187,462.18 187.9,462.06 188.8,462.07 189.7,462.09 190.6,462.08 191.5,462.15 192.4,462.16 193.3,462.2 194.2,462.12 195.1,462.12 196,462.13 196.9,462.14 197.8,462.15 198.7,462.13 199.6,462.16 200.5,462.28 201.4,462.19 202.3,462.1 203.2,462.17 204.1,462.13 205,462.21 205.9,462.27 206.8,462.34 207.7,462.28 208.6,462.14 209.5,462.26 210.4,462.29 211.3,462.32 212.2,462.27 212.9,462.21" fill="none" stroke="#6aac42" stroke-width="1.35" stroke-linejoin="round" stroke-linecap="round"/>
<polyline points="31.9,479 32.8,478.89 33.7,479 34.6,478.97 35.5,478.95 36.4,479 37.3,478.95 38.2,479.02 39.1,478.97 40,479.13 40.9,479.14 41.8,479.11 42.7,479.08 43.6,479.04 44.5,478.99 45.4,478.88 46.3,478.91 47.2,478.91 48.1,478.92 49,478.97 49.9,478.87 50.8,478.86 51.7,478.89 52.6,478.92 53.5,479.01 54.4,479.17 55.3,479.08 56.2,479.08 57.1,479.04 58,479.04 58.9,479.12 59.8,479.07 60.7,479.07 61.6,479.04 62.5,478.98 63.4,479.06 64.3,479.02 65.2,479.1 66.1,478.98 67,479.02 67.9,479.11 68.8,479.02 69.7,479.03 70.6,479.11 71.5,479.08 72.4,478.99 73.3,478.98 74.2,479.01 75.1,478.97 76,478.96 76.9,478.99 77.8,478.92 78.7,479.06 79.6,479 80.5,479 81.4,479.01 82.3,479.09 83.2,479.02 84.1,479.13 85,479.18 85.9,479.13 86.8,478.99 87.7,478.92 88.6,478.94 89.5,478.99 90.4,479.03 91.3,479.09 92.2,479.07 93.1,479.04 94,479.05 94.9,478.9 95.8,479.02 96.7,478.92 97.6,478.85 98.5,478.88 99.4,478.92 100.3,478.89 101.2,478.93 102.1,478.97 103,479.02 103.9,479.04 104.8,478.99 105.7,479 106.6,479.01 106.72,478.9 106.84,478.79 106.96,478.51 107.08,478.38 107.2,478.24 107.32,477.87 107.44,477.4 107.56,477.05 107.68,476.74 107.8,476.57 107.92,476.45 108.04,476.67 108.16,477.31 108.28,478.13 108.4,479.05 108.52,479.85 108.64,480.72 108.76,481.39 108.88,481.69 109,481.8 109.12,481.52 109.24,481.12 109.36,480.78 109.48,480.36 109.6,479.8 109.72,479.45 109.84,479.32 109.96,479.17 110.08,479.21 110.2,479.2 110.32,479.18 110.44,479.07 110.56,479.01 110.68,479.03 110.8,478.95 110.92,478.92 111.04,478.81 111.16,478.65 111.28,478.34 111.4,477.86 111.52,477.14 111.64,476.44 111.76,475.63 111.88,474.94 112,474.18 112.12,473.77 112.24,473.85 112.36,474.44 112.48,475.57 112.6,477.1 112.72,478.97 112.84,480.71 112.96,482.37 113.08,483.42 113.2,484.04 113.32,484.18 113.44,483.85 113.56,483.15 113.68,482.3 113.8,481.42 113.92,480.6 114.04,479.99 114.16,479.75 114.28,479.34 114.4,479.11 114.52,478.97 114.64,478.97 114.76,478.96 114.88,478.94 115,478.88 115.12,478.91 115.24,478.82 115.36,478.85 115.48,478.87 115.6,478.64 115.72,478.46 115.84,478.16 115.96,477.8 116.08,477.34 116.2,476.98 116.32,476.64 116.44,476.5 116.56,476.6 116.68,476.69 116.8,477.27 116.92,477.93 117.04,478.81 117.16,479.68 117.28,480.57 117.4,481.25 117.52,481.55 117.64,481.62 117.76,481.39 117.88,481.07 118,480.6 118.12,480.24 118.24,479.77 118.36,479.68 118.48,479.5 118.6,479.26 118.72,479.11 118.84,479.04 118.96,479.02 119.08,479.02 119.2,479.11 119.32,479.01 119.44,478.84 119.56,478.85 119.68,478.79 119.8,478.57 119.92,478.38 120.04,477.97 120.16,477.38 120.28,476.71 120.4,475.85 120.52,475.05 120.64,474.45 120.76,474.01 120.88,473.92 121,474.32 121.12,475.31 121.24,476.7 121.36,478.52 121.48,480.33 121.6,481.98 121.72,483.36 121.84,484.01 121.96,484.19 122.08,483.9 122.2,483.33 122.32,482.49 122.44,481.68 122.56,480.94 122.68,480.29 122.8,479.79 122.92,479.42 123.04,479.31 123.16,479.12 123.28,479.13 123.4,479.16 123.52,479.04 123.64,478.95 123.76,478.89 123.88,478.88 124,478.94 124.12,478.79 124.24,478.61 124.36,478.36 124.48,478.18 124.6,477.9 124.72,477.6 124.84,477.15 124.96,476.75 125.08,476.48 125.2,476.59 125.32,476.79 125.44,477.23 125.56,477.86 125.68,478.71 125.8,479.62 125.92,480.46 126.04,481.13 126.16,481.46 126.28,481.7 126.4,481.46 126.52,481.2 126.64,480.83 126.76,480.45 126.88,480.11 127,479.75 127.12,479.48 127.24,479.38 127.36,479.29 127.48,479.15 127.6,479.13 127.72,478.99 127.84,479.01 127.96,478.86 128.08,478.97 128.2,478.87 128.32,478.85 128.44,478.7 128.56,478.4 128.68,478.09 128.8,477.65 128.92,476.88 129.04,476.21 129.16,475.34 129.28,474.49 129.4,473.94 129.52,473.82 129.64,474.21 129.76,475.05 129.88,476.44 130,478.24 130.12,480.11 130.24,481.92 130.36,483.24 130.48,484.05 130.6,484.21 130.72,483.92 130.84,483.3 130.96,482.57 131.08,481.8 131.2,481.13 131.32,480.49 131.44,479.9 131.56,479.55 131.68,479.45 131.8,479.25 131.92,479.16 132.04,479 132.16,478.91 132.28,478.92 132.4,478.93 132.52,478.96 132.64,478.91 132.76,478.74 132.88,478.82 133,478.61 133.12,478.23 133.24,478.04 133.36,477.67 133.48,477.2 133.6,476.8 133.72,476.54 133.84,476.29 133.96,476.56 134.08,477.01 134.2,477.73 134.32,478.53 134.44,479.43 134.56,480.41 134.68,480.86 134.8,481.44 134.92,481.67 135.04,481.45 135.16,481.18 135.28,480.78 135.4,480.36 135.52,479.93 135.64,479.58 135.76,479.41 135.88,479.24 136,479.18 136.12,479.15 136.24,479.05 136.36,479.15 136.48,479.18 136.6,479 137.5,478.99 138.4,478.98 139.3,479.02 140.2,478.95 141.1,479.07 142,479.02 142.9,479.14 143.8,479.03 144.7,479.13 145.6,479.1 146.5,479.11 147.4,479.08 148.3,479.06 149.2,478.97 150.1,478.98 151,478.95 151.9,478.96 152.8,478.96 153.7,479.03 154.6,479.04 155.5,479 156.4,478.9 157.3,479.01 158.2,478.96 159.1,478.96 160,479.01 160.9,479 161.8,479.01 162.7,479.01 163.6,478.9 164.5,478.99 165.4,478.99 166.3,479.04 167.2,479.03 168.1,478.99 169,479.08 169.9,479.05 170.8,479.09 171.7,479.08 172.6,479.09 173.5,479.11 174.4,479.09 175.3,478.99 176.2,478.98 177.1,479.08 178,479.03 178.9,479 179.8,479 180.7,479.06 181.6,478.98 182.5,478.99 183.4,478.97 184.3,478.95 185.2,479.02 186.1,478.98 187,478.99 187.9,479.02 188.8,479.04 189.7,479.05 190.6,479.07 191.5,478.99 192.4,478.85 193.3,478.98 194.2,479.09 195.1,479.02 196,479.02 196.9,479.06 197.8,478.98 198.7,478.99 199.6,478.97 200.5,479.02 201.4,479.02 202.3,479.11 203.2,479 204.1,478.96 205,478.9 205.9,478.96 206.8,478.98 207.7,478.98 208.6,479.03 209.5,478.96 210.4,478.9 211.3,479.07 212.2,479.04 212.9,478.96" fill="none" stroke="#a9dca2" stroke-width="1.35" stroke-linejoin="round" stroke-linecap="round"/>
<polyline points="31.9,498.11 32.8,498.07 33.7,497.94 34.6,498.01 35.5,498.12 36.4,498.14 37.3,498.06 38.2,498.21 39.1,498.02 40,497.99 40.9,498.05 41.8,497.92 42.7,498.03 43.6,498.06 44.5,498.14 45.4,498.1 46.3,498.26 47.2,498 48.1,497.96 49,497.93 49.9,497.97 50.8,498.06 51.7,497.92 52.6,498.07 53.5,498.16 54.4,498.09 55.3,497.91 56.2,498.02 57.1,498.06 58,497.94 58.9,497.9 59.8,497.9 60.7,497.81 61.6,497.95 62.5,498.09 63.4,498.09 64.3,497.98 65.2,497.99 66.1,498 67,498.19 67.9,498.06 68.8,498.08 69.7,498.01 70.6,498.13 71.5,497.99 72.4,498.05 73.3,497.99 74.2,498.06 75.1,497.89 76,497.94 76.9,498.09 77.8,498.12 78.7,497.96 79.6,498.25 80.5,498.18 81.4,498.07 82.3,498 83.2,497.91 84.1,498.12 85,498.2 85.9,498.25 86.8,498.03 87.7,497.82 88.6,497.69 89.5,497.7 90.4,497.79 91.3,497.78 92.2,497.72 93.1,497.91 94,497.89 94.9,497.98 95.8,498.12 96.7,497.98 97.6,497.94 98.5,498.1 99.4,497.89 100.3,497.9 101.2,497.83 102.1,497.89 103,497.88 103.9,497.96 104.8,497.93 105.7,498.09 106.6,497.95 106.72,497.95 106.84,498.02 106.96,497.88 107.08,497.82 107.2,497.82 107.32,497.76 107.44,497.82 107.56,497.67 107.68,497.49 107.8,497.62 107.92,497.55 108.04,497.57 108.16,497.68 108.28,497.94 108.4,498.11 108.52,498.2 108.64,498.29 108.76,498.29 108.88,498.51 109,498.54 109.12,498.32 109.24,498.37 109.36,498.12 109.48,498.03 109.6,497.97 109.72,498.17 109.84,498.3 109.96,498.15 110.08,498.03 110.2,498.15 110.32,498.02 110.44,498.17 110.56,497.98 110.68,498.09 110.8,497.95 110.92,498.14 111.04,498.06 111.16,497.92 111.28,497.9 111.4,497.6 111.52,497.65 111.64,497.69 111.76,497.82 111.88,497.47 112,497.5 112.12,497.51 112.24,497.48 112.36,497.43 112.48,497.57 112.6,497.67 112.72,497.98 112.84,498.1 112.96,498.33 113.08,498.55 113.2,498.57 113.32,498.5 113.44,498.54 113.56,498.54 113.68,498.51 113.8,498.41 113.92,498.45 114.04,498.26 114.16,498.29 114.28,498.05 114.4,498.1 114.52,498.13 114.64,498.26 114.76,498.07 114.88,498.23 115,498.1 115.12,498 115.24,497.82 115.36,498 115.48,497.92 115.6,498.02 115.72,497.98 115.84,498 115.96,497.91 116.08,497.75 116.2,497.67 116.32,497.65 116.44,497.69 116.56,497.59 116.68,497.75 116.8,497.58 116.92,497.63 117.04,497.94 117.16,498.12 117.28,498.43 117.4,498.52 117.52,498.35 117.64,498.24 117.76,498.28 117.88,498.25 118,498.29 118.12,498.15 118.24,498.04 118.36,497.96 118.48,497.99 118.6,497.91 118.72,497.94 118.84,498.05 118.96,498.01 119.08,497.89 119.2,498 119.32,498.08 119.44,497.94 119.56,497.92 119.68,497.77 119.8,497.74 119.92,497.69 120.04,497.6 120.16,497.59 120.28,497.8 120.4,497.76 120.52,497.52 120.64,497.44 120.76,497.35 120.88,497.33 121,497.17 121.12,497.38 121.24,497.51 121.36,497.8 121.48,498.1 121.6,497.98 121.72,498.09 121.84,498.47 121.96,498.74 122.08,498.77 122.2,498.51 122.32,498.39 122.44,498.38 122.56,498.24 122.68,497.93 122.8,498.06 122.92,497.97 123.04,497.98 123.16,497.8 123.28,497.78 123.4,498.01 123.52,497.95 123.64,498.02 123.76,498.18 123.88,498.08 124,498.03 124.12,497.97 124.24,498.04 124.36,498.01 124.48,497.98 124.6,498.06 124.72,497.95 124.84,497.95 124.96,497.7 125.08,497.63 125.2,497.71 125.32,497.62 125.44,497.56 125.56,497.73 125.68,497.85 125.8,498.07 125.92,498.36 126.04,498.31 126.16,498.23 126.28,498.26 126.4,498.22 126.52,498.18 126.64,498.3 126.76,498.27 126.88,498.21 127,498.1 127.12,498.17 127.24,498.08 127.36,498.22 127.48,498.11 127.6,498.04 127.72,498.09 127.84,498.27 127.96,497.94 128.08,498.01 128.2,497.87 128.32,497.74 128.44,497.79 128.56,497.92 128.68,497.69 128.8,497.67 128.92,497.84 129.04,497.8 129.16,497.55 129.28,497.49 129.4,497.37 129.52,497.26 129.64,497.24 129.76,497.55 129.88,497.62 130,497.86 130.12,498.07 130.24,498.17 130.36,498.43 130.48,498.8 130.6,498.65 130.72,498.64 130.84,498.7 130.96,498.58 131.08,498.42 131.2,498.35 131.32,498.25 131.44,498.14 131.56,497.99 131.68,497.95 131.8,497.79 131.92,497.9 132.04,497.92 132.16,497.89 132.28,497.77 132.4,497.82 132.52,497.71 132.64,497.9 132.76,497.8 132.88,497.96 133,497.84 133.12,497.92 133.24,497.92 133.36,497.93 133.48,497.77 133.6,497.5 133.72,497.6 133.84,497.55 133.96,497.45 134.08,497.49 134.2,497.73 134.32,497.95 134.44,498.1 134.56,498.27 134.68,498.43 134.8,498.37 134.92,498.36 135.04,498.31 135.16,498.25 135.28,498.2 135.4,498.19 135.52,498.08 135.64,498.07 135.76,498.14 135.88,498.04 136,498.08 136.12,497.94 136.24,497.88 136.36,498.12 136.48,498.04 136.6,498.14 137.5,497.86 138.4,497.67 139.3,497.83 140.2,497.88 141.1,497.69 142,497.92 142.9,498.02 143.8,497.93 144.7,498.02 145.6,498.07 146.5,498.04 147.4,497.95 148.3,498.04 149.2,497.97 150.1,497.92 151,497.81 151.9,497.91 152.8,498.08 153.7,497.98 154.6,497.93 155.5,497.82 156.4,497.88 157.3,498.02 158.2,497.99 159.1,498.05 160,498.14 160.9,497.97 161.8,497.92 162.7,498.02 163.6,497.97 164.5,497.87 165.4,497.93 166.3,498 167.2,498.11 168.1,497.96 169,498.01 169.9,498.05 170.8,497.72 171.7,497.93 172.6,497.95 173.5,497.8 174.4,498.08 175.3,498.08 176.2,498.06 177.1,498.28 178,498.24 178.9,498.01 179.8,498 180.7,498.18 181.6,498.22 182.5,498.27 183.4,498.13 184.3,498.18 185.2,498.02 186.1,497.98 187,498.05 187.9,498.01 188.8,498.06 189.7,498.01 190.6,498.03 191.5,498.23 192.4,498.17 193.3,498.2 194.2,497.94 195.1,497.9 196,498.04 196.9,497.84 197.8,497.87 198.7,497.89 199.6,498.07 200.5,497.84 201.4,497.86 202.3,497.92 203.2,497.97 204.1,497.81 205,498.03 205.9,498.08 206.8,498.17 207.7,498.14 208.6,498.13 209.5,498.03 210.4,497.98 211.3,497.86 212.2,497.97 212.9,497.85" fill="none" stroke="#21a2e2" stroke-width="1.35" stroke-linejoin="round" stroke-linecap="round"/>
<polyline points="31.9,512.47 32.8,512.46 33.7,512.39 34.6,512.4 35.5,512.3 36.4,512.28 37.3,512.3 38.2,512.26 39.1,512.29 40,512.33 40.9,512.32 41.8,512.3 42.7,512.28 43.6,512.21 44.5,512.34 45.4,512.34 46.3,512.44 47.2,512.35 48.1,512.34 49,512.41 49.9,512.48 50.8,512.5 51.7,512.5 52.6,512.36 53.5,512.41 54.4,512.51 55.3,512.32 56.2,512.38 57.1,512.52 58,512.39 58.9,512.41 59.8,512.52 60.7,512.49 61.6,512.45 62.5,512.47 63.4,512.42 64.3,512.45 65.2,512.41 66.1,512.46 67,512.37 67.9,512.37 68.8,512.39 69.7,512.26 70.6,512.38 71.5,512.37 72.4,512.34 73.3,512.28 74.2,512.33 75.1,512.31 76,512.39 76.9,512.49 77.8,512.41 78.7,512.36 79.6,512.37 80.5,512.37 81.4,512.41 82.3,512.28 83.2,512.37 84.1,512.38 85,512.35 85.9,512.28 86.8,512.39 87.7,512.46 88.6,512.45 89.5,512.46 90.4,512.48 91.3,512.45 92.2,512.47 93.1,512.37 94,512.43 94.9,512.26 95.8,512.4 96.7,512.49 97.6,512.52 98.5,512.41 99.4,512.38 100.3,512.42 101.2,512.36 102.1,512.4 103,512.39 103.9,512.49 104.8,512.41 105.7,512.37 106.6,512.42 107.5,512.47 108.4,512.41 109.3,512.32 110.2,512.28 111.1,512.24 112,512.32 112.9,512.3 113.8,512.35 114.7,512.28 115.6,512.32 116.5,512.39 117.4,512.33 118.3,512.43 119.2,512.42 120.1,512.36 121,512.36 121.9,512.37 122.8,512.33 123.7,512.33 124.6,512.38 125.5,512.27 126.4,512.48 127.3,512.49 128.2,512.52 129.1,512.6 130,512.54 130.9,512.47 131.8,512.42 132.7,512.44 133.6,512.51 134.5,512.4 135.4,512.51 136.3,512.43 137.2,512.35 138.1,512.45 139,512.39 139.9,512.44 140.8,512.34 141.7,512.41 142.6,512.37 143.5,512.46 144.4,512.33 145.3,512.32 146.2,512.3 147.1,512.36 148,512.32 148.9,512.34 149.8,512.36 150.7,512.35 151.6,512.38 152.5,512.41 153.4,512.3 154.3,512.41 155.2,512.34 156.1,512.32 157,512.46 157.9,512.39 158.8,512.38 159.7,512.43 160.6,512.37 161.5,512.38 162.4,512.37 163.3,512.37 164.2,512.31 165.1,512.42 166,512.41 166.9,512.44 167.8,512.42 168.7,512.37 169.6,512.45 170.5,512.38 171.4,512.45 172.3,512.38 173.2,512.34 174.1,512.37 175,512.53 175.9,512.52 176.8,512.46 177.7,512.46 178.6,512.5 179.5,512.42 180.4,512.29 181.3,512.28 182.2,512.33 183.1,512.32 184,512.34 184.9,512.46 185.8,512.41 186.7,512.37 187.6,512.38 188.5,512.46 189.4,512.53 190.3,512.51 191.2,512.43 192.1,512.39 193,512.32 193.9,512.32 194.8,512.42 195.7,512.44 196.6,512.44 197.5,512.36 198.4,512.37 199.3,512.34 200.2,512.46 201.1,512.43 202,512.41 202.9,512.4 203.8,512.4 204.7,512.4 205.6,512.37 206.5,512.4 207.4,512.4 208.3,512.45 209.2,512.46 210.1,512.47 211,512.4 211.9,512.4 212.8,512.26 212.9,512.28" fill="none" stroke="#92d6f4" stroke-width="1.35" stroke-linejoin="round" stroke-linecap="round"/>
<text x="35.8" y="416.6" font-size="8.0" text-anchor="start" fill="#1e1e1e" stroke="#1e1e1e" stroke-width="0.15" transform="translate(35.8 416.6) scale(1 1.08) translate(-35.8 -416.6)">1 min</text>
<text x="37" y="437.4" font-size="8.0" text-anchor="start" fill="#1e1e1e" stroke="#1e1e1e" stroke-width="0.15" transform="translate(37 437.4) scale(1 1.08) translate(-37 -437.4)">5 min</text>
<text x="35.8" y="459" font-size="8.0" text-anchor="start" fill="#1e1e1e" stroke="#1e1e1e" stroke-width="0.15" transform="translate(35.8 459) scale(1 1.08) translate(-35.8 -459)">1 min</text>
<text x="35.8" y="477" font-size="8.0" text-anchor="start" fill="#1e1e1e" stroke="#1e1e1e" stroke-width="0.15" transform="translate(35.8 477) scale(1 1.08) translate(-35.8 -477)">5 min</text>
<text x="35.8" y="496" font-size="8.0" text-anchor="start" fill="#1e1e1e" stroke="#1e1e1e" stroke-width="0.15" transform="translate(35.8 496) scale(1 1.08) translate(-35.8 -496)">1 min</text>
<text x="35.8" y="510" font-size="8.0" text-anchor="start" fill="#1e1e1e" stroke="#1e1e1e" stroke-width="0.15" transform="translate(35.8 510) scale(1 1.08) translate(-35.8 -510)">5 min</text>
<text x="210.6" y="381.8" font-size="6.9" text-anchor="end" fill="#1e1e1e" stroke="#1e1e1e" stroke-width="0.15" transform="translate(210.6 381.8) scale(1 1.08) translate(-210.6 -381.8)">DMPO only</text>
<text x="210.6" y="395.4" font-size="6.9" text-anchor="end" fill="#1e1e1e" stroke="#1e1e1e" stroke-width="0.15" transform="translate(210.6 395.4) scale(1 1.08) translate(-210.6 -395.4)">PMS only</text>
<text x="210.6" y="415.8" font-size="6.9" text-anchor="end" fill="#1e1e1e" stroke="#1e1e1e" stroke-width="0.15" transform="translate(210.6 415.8) scale(1 1.08) translate(-210.6 -415.8)">CoNC-MSi1/PMS</text>
<text x="210.6" y="458.4" font-size="6.9" text-anchor="end" fill="#1e1e1e" stroke="#1e1e1e" stroke-width="0.15" transform="translate(210.6 458.4) scale(1 1.08) translate(-210.6 -458.4)">CoNC-MSi2/PMS</text>
<text x="208.2" y="494.4" font-size="6.2" text-anchor="end" fill="#1e1e1e" stroke="#1e1e1e" stroke-width="0.15" transform="translate(208.2 494.4) scale(1 1.08) translate(-208.2 -494.4)">CoNC-Si/PMS</text>
<rect x="31.5" y="373.5" width="182" height="147" fill="none" stroke="#505050" stroke-width="1.0"/>
<text x="237.2" y="374" font-size="12.5" text-anchor="start" fill="#000" stroke="#000" stroke-width="0.15" font-weight="bold" transform="translate(237.2 374) scale(1 1.08) translate(-237.2 -374)">h</text>
<line x1="284.5" y1="520.5" x2="284.5" y2="522.9" stroke="#505050" stroke-width="0.9"/>
<text x="284" y="532" font-size="8.4" text-anchor="middle" fill="#1e1e1e" stroke="#1e1e1e" stroke-width="0.15" transform="translate(284 532) scale(1 1.08) translate(-284 -532)">3450</text>
<line x1="318.5" y1="520.5" x2="318.5" y2="522.9" stroke="#505050" stroke-width="0.9"/>
<text x="318" y="532" font-size="8.4" text-anchor="middle" fill="#1e1e1e" stroke="#1e1e1e" stroke-width="0.15" transform="translate(318 532) scale(1 1.08) translate(-318 -532)">3480</text>
<line x1="352.5" y1="520.5" x2="352.5" y2="522.9" stroke="#505050" stroke-width="0.9"/>
<text x="352" y="532" font-size="8.4" text-anchor="middle" fill="#1e1e1e" stroke="#1e1e1e" stroke-width="0.15" transform="translate(352 532) scale(1 1.08) translate(-352 -532)">3510</text>
<line x1="386.5" y1="520.5" x2="386.5" y2="522.9" stroke="#505050" stroke-width="0.9"/>
<text x="386" y="532" font-size="8.4" text-anchor="middle" fill="#1e1e1e" stroke="#1e1e1e" stroke-width="0.15" transform="translate(386 532) scale(1 1.08) translate(-386 -532)">3540</text>
<line x1="420.5" y1="520.5" x2="420.5" y2="522.9" stroke="#505050" stroke-width="0.9"/>
<text x="420" y="532" font-size="8.4" text-anchor="middle" fill="#1e1e1e" stroke="#1e1e1e" stroke-width="0.15" transform="translate(420 532) scale(1 1.08) translate(-420 -532)">3570</text>
<line x1="267.5" y1="520.5" x2="267.5" y2="521.8" stroke="#505050" stroke-width="0.9"/>
<line x1="301.5" y1="520.5" x2="301.5" y2="521.8" stroke="#505050" stroke-width="0.9"/>
<line x1="335.5" y1="520.5" x2="335.5" y2="521.8" stroke="#505050" stroke-width="0.9"/>
<line x1="369.5" y1="520.5" x2="369.5" y2="521.8" stroke="#505050" stroke-width="0.9"/>
<line x1="403.5" y1="520.5" x2="403.5" y2="521.8" stroke="#505050" stroke-width="0.9"/>
<line x1="437.5" y1="520.5" x2="437.5" y2="521.8" stroke="#505050" stroke-width="0.9"/>
<text x="346.6" y="541.2" font-size="8.9" text-anchor="middle" fill="#1e1e1e" stroke="#1e1e1e" stroke-width="0.15" transform="translate(346.6 541.2) scale(1 1.08) translate(-346.6 -541.2)">Magentic field (Gauss)</text>
<text x="249.4" y="447" font-size="8.9" text-anchor="middle" fill="#1e1e1e" stroke="#1e1e1e" stroke-width="0.15" transform="translate(249.4 447) rotate(-90) scale(1 1.08) translate(-249.4 -447)">Intensity (a.u.)</text>
<polyline points="255.9,383.88 256.8,383.3 257.7,383.95 258.6,384.22 259.5,384.14 260.4,384.68 261.3,383.92 262.2,383.97 263.1,384.01 264,383.87 264.9,384.32 265.8,384.44 266.7,384.34 267.6,383.92 268.5,384.02 269.4,384.02 270.3,384.14 271.2,383.68 272.1,383.57 273,384.06 273.9,384.04 274.8,383.99 275.7,383.98 276.6,383.26 277.5,384 278.4,383.6 279.3,383.47 280.2,383.87 281.1,384.28 282,384.45 282.9,384.08 283.8,383.81 284.7,384.06 285.6,384.08 286.5,383.56 287.4,384.12 288.3,383.54 289.2,383.87 290.1,384.01 291,384.19 291.9,384.11 292.8,384.27 293.7,384.21 294.6,383.86 295.5,383.76 296.4,384.24 297.3,383.61 298.2,383.98 299.1,383.83 300,383.45 300.9,383.49 301.8,383.86 302.7,383.19 303.6,383.82 304.5,384.23 305.4,384 306.3,383.9 307.2,383.95 308.1,384.2 309,383.82 309.9,383.78 310.8,383.97 311.7,383.58 312.6,383.87 313.5,383.91 314.4,384.16 315.3,383.77 316.2,383.86 317.1,384.03 318,384.02 318.9,383.72 319.8,384.15 320.7,384.04 321.6,384.05 322.5,384.03 323.4,384.19 324.3,384.11 325.2,383.87 326.1,384.15 327,384.05 327.9,384.05 328.8,384.07 329.7,383.72 330.6,383.88 331.5,384.01 332.4,383.62 333.3,383.73 334.2,383.84 335.1,384.1 336,383.96 336.9,384 337.8,384.16 338.7,383.75 339.6,383.68 340.5,383.76 341.4,384.06 342.3,384.38 343.2,384.22 344.1,384.08 345,383.91 345.9,383.98 346.8,384.43 347.7,384.18 348.6,383.95 349.5,384.39 350.4,384.16 351.3,384.03 352.2,383.79 353.1,384.17 354,384.03 354.9,383.53 355.8,383.2 356.7,383.68 357.6,383.7 358.5,383.97 359.4,384.12 360.3,384.46 361.2,384.6 362.1,384.01 363,383.93 363.9,383.75 364.8,384.1 365.7,383.66 366.6,383.99 367.5,383.54 368.4,384.04 369.3,384.32 370.2,383.72 371.1,383.86 372,383.77 372.9,383.44 373.8,383.96 374.7,383.77 375.6,384.15 376.5,384.19 377.4,384.57 378.3,384.16 379.2,384.3 380.1,384.19 381,383.99 381.9,384.27 382.8,384.15 383.7,383.95 384.6,384.02 385.5,383.66 386.4,384.11 387.3,384.5 388.2,383.85 389.1,383.95 390,383.88 390.9,383.75 391.8,384.09 392.7,384.49 393.6,384.33 394.5,384.08 395.4,384.49 396.3,384.15 397.2,383.89 398.1,383.79 399,384.13 399.9,384.08 400.8,384.08 401.7,383.87 402.6,384.03 403.5,384 404.4,384.46 405.3,384.22 406.2,383.84 407.1,384.36 408,384.25 408.9,384.11 409.8,384.18 410.7,384.1 411.6,383.48 412.5,383.73 413.4,384.19 414.3,384.34 415.2,383.96 416.1,383.89 417,384.07 417.9,384.58 418.8,384.39 419.7,384.26 420.6,383.97 421.5,383.88 422.4,383.81 423.3,383.9 424.2,383.69 425.1,383.74 426,383.56 426.9,384.08 427.8,384.21 428.7,384.06 429.6,383.96 430.5,384.18 431.4,384.14 432.3,383.94 433.2,383.26 434.1,383.14 435,383.74 435.9,383.82 436.8,383.71 436.9,383.38" fill="none" stroke="#c4c4c4" stroke-width="1.4" stroke-linejoin="round" stroke-linecap="round"/>
<polyline points="255.9,398.59 256.8,398.14 257.7,398.31 258.6,398.33 259.5,398.2 260.4,397.95 261.3,398.26 262.2,397.91 263.1,397.97 264,398.14 264.9,398.61 265.8,398.37 266.7,398.42 267.6,398.58 268.5,397.75 269.4,397.79 270.3,397.98 271.2,397.97 272.1,398.42 273,398.25 273.9,398.5 274.8,398.72 275.7,398.47 276.6,398.54 277.5,398.9 278.4,398.93 279.3,398.67 280.2,398.02 281.1,398 282,398.17 282.9,398.38 283.8,398.43 284.7,398.41 285.6,398.09 286.5,398.42 287.4,398.69 288.3,398.52 289.2,398.47 290.1,398.68 291,398.42 291.9,398.53 292.8,398.76 293.7,398.37 294.6,398.36 295.5,398.14 296.4,397.94 297.3,397.6 298.2,398.09 299.1,398.99 300,398.59 300.9,398.96 301.8,398.99 302.7,398.58 303.6,398.76 304.5,398.46 305.4,397.8 306.3,398.36 307.2,398.3 308.1,398.29 309,398.56 309.9,398.78 310.8,398.54 311.7,398.56 312.6,398.58 313.5,398.25 314.4,398.56 315.3,398.32 316.2,398.49 317.1,398.73 318,398.87 318.9,398.06 319.8,398.02 320.7,398.12 321.6,398.03 322.5,398.17 323.4,398.26 324.3,398.36 325.2,399.07 326.1,398.82 327,398.63 327.9,398.29 328.8,398.28 329.7,398.28 330.6,398.29 330.72,397.69 330.84,397.54 330.96,396.98 331.08,396.23 331.2,396.26 331.32,395.64 331.44,395.15 331.56,395.03 331.68,394.77 331.8,394.23 331.92,394.36 332.04,394.67 332.16,395.59 332.28,396.45 332.4,398.38 332.52,399.88 332.64,401.46 332.76,402.83 332.88,402.82 333,403.01 333.12,402.73 333.24,402.67 333.36,401.82 333.48,401.62 333.6,401.4 333.72,400.97 333.84,400.57 333.96,399.76 334.08,399.19 334.2,398.43 334.32,398.5 334.44,397.98 334.56,397.91 334.68,398.53 334.8,398.77 334.92,398.26 335.82,399 336.72,398.38 337.62,398.06 338.52,398.68 339.42,399.03 340.32,398.66 341.22,398.73 342.12,398.11 343.02,398.5 343.92,398.3 344.82,398.66 345.72,398.35 346.62,398.24 347.52,398.54 348.42,398.64 348.54,398.36 348.66,397.85 348.78,398.07 348.9,398.39 349.02,398.22 349.14,397.28 349.26,396.97 349.38,396.54 349.5,396.36 349.62,395.41 349.74,394.62 349.86,394.63 349.98,393.79 350.1,393.77 350.22,394.14 350.34,395.61 350.46,396.57 350.58,398.28 350.7,399.46 350.82,401.3 350.94,402.32 351.06,402.62 351.18,403.09 351.3,402.98 351.42,402.5 351.54,401.58 351.66,401.62 351.78,400.78 351.9,399.97 352.02,399.53 352.14,399.13 352.26,398.5 352.38,398.83 352.5,398.17 352.62,398.57 352.74,397.93 352.86,397.76 352.98,398.44 353.1,397.99 354,398.2 354.9,398.39 355.8,398.81 356.7,399.14 357.6,399.03 358.5,398.89 359.4,398.99 360.3,399 361.2,398.23 362.1,398.51 363,398.21 363.9,399.09 364.8,399.12 365.7,398.55 366.6,399.01 366.72,398.38 366.84,398.48 366.96,397.93 367.08,397.82 367.2,397.79 367.32,397.11 367.44,397.09 367.56,396.9 367.68,396.62 367.8,395.97 367.92,395.14 368.04,394.67 368.16,393.93 368.28,393.84 368.4,394.79 368.52,395.14 368.64,396.26 368.76,398.06 368.88,399.43 369,400.41 369.12,401.49 369.24,402.18 369.36,402.33 369.48,402.38 369.6,402.47 369.72,401.75 369.84,401.25 369.96,400.41 370.08,399.87 370.2,399.67 370.32,399.35 370.44,398.92 370.56,398.63 370.68,398.87 370.8,398.54 370.92,398.04 371.04,398.44 371.16,398.63 371.28,398.48 372.18,398.27 373.08,398.74 373.98,398.96 374.88,398.8 375.78,398.6 376.68,398.72 377.58,399.09 378.48,398.56 379.38,398.74 380.28,397.96 381.18,398.02 382.08,398.4 382.98,398.45 383.88,398.07 384.78,398.49 385.68,398.66 386.58,398.77 387.48,398.48 388.38,398.4 389.28,398.35 390.18,398.47 391.08,398.47 391.98,398.41 392.88,398.63 393.78,398.86 394.68,398.68 395.58,398.93 396.48,398.17 397.38,399.05 398.28,398.47 399.18,398.32 400.08,398.51 400.98,398.76 401.88,398.65 402.78,398.05 403.68,398.13 404.58,397.92 405.48,398.44 406.38,398.3 407.28,397.63 408.18,397.8 409.08,398.18 409.98,397.96 410.88,398.33 411.78,397.87 412.68,398.05 413.58,398.52 414.48,398.47 415.38,398.15 416.28,398.05 417.18,398.53 418.08,398.67 418.98,398.64 419.88,398.75 420.78,398.55 421.68,398.49 422.58,398.41 423.48,398.28 424.38,398.68 425.28,398.26 426.18,398.99 427.08,398.94 427.98,398.6 428.88,398.94 429.78,399.18 430.68,398.89 431.58,398.3 432.48,398.39 433.38,398.41 434.28,398.23 435.18,397.89 436.08,397.88 436.9,398.2" fill="none" stroke="#a070f4" stroke-width="1.4" stroke-linejoin="round" stroke-linecap="round"/>
<polyline points="255.9,416.95 256.8,417.29 257.7,416.74 258.6,417.1 259.5,416.79 260.4,417.05 261.3,417.1 262.2,417.54 263.1,417.47 264,417.15 264.9,417.14 265.8,416.59 266.7,416.82 267.6,417.09 268.5,417.14 269.4,416.91 270.3,417.06 271.2,417.13 272.1,417.19 273,416.79 273.9,417.17 274.8,417.09 275.7,416.66 276.6,416.79 277.5,417.29 278.4,417.67 279.3,417.24 280.2,416.87 281.1,416.83 282,417.15 282.9,417.53 283.8,417.33 284.7,417.09 285.6,417.54 286.5,417.42 287.4,416.96 288.3,416.91 289.2,417.27 290.1,417.03 291,417.03 291.9,416.79 292.8,417.08 293.7,417.53 294.6,417.68 295.5,417.21 296.4,416.74 297.3,417.36 298.2,417.42 299.1,416.7 300,417.33 300.9,417.01 301.8,416.81 302.7,416.91 303.6,416.5 304.5,416.38 305.4,417.17 306.3,416.99 307.2,417.16 308.1,417.53 309,417.39 309.9,417.17 310.8,417.28 311.7,417.69 312.6,417.52 313.5,417.14 314.4,417.73 315.3,417.85 316.2,417.04 317.1,417.15 318,417.87 318.9,416.97 319.8,416.53 320.7,417.01 321.6,416.84 322.5,416.41 323.4,417.21 324.3,417.07 325.2,417.18 326.1,417.5 327,416.63 327.12,415.77 327.24,416.05 327.36,415.36 327.48,414.24 327.6,413.1 327.72,411.81 327.84,411.61 327.96,410.82 328.08,411.72 328.2,411.47 328.32,413.08 328.44,414.23 328.56,415.88 328.68,418.27 328.8,420.06 328.92,421.7 329.04,422.14 329.16,422.62 329.28,422.52 329.4,422.24 329.52,421.83 329.64,420.8 329.76,419.6 329.88,419.01 330,417.87 330.12,417.48 330.24,417.8 330.36,417.29 330.48,417.48 330.6,417.13 330.72,416.77 330.84,416.94 330.96,417.14 331.08,417.03 331.98,417.1 332.88,417.62 333.78,417.32 334.68,417.28 335.58,416.89 336.48,417.22 337.38,416.87 338.28,417.01 339.18,416.84 340.08,417.15 340.98,417.26 341.88,417.49 342.78,417.27 343.68,417.35 344.58,417.79 344.7,417.06 344.82,416.67 344.94,417.01 345.06,416.87 345.18,416.65 345.3,415.51 345.42,415.43 345.54,415.44 345.66,414.89 345.78,414 345.9,413.04 346.02,412 346.14,411.32 346.26,411.12 346.38,410.63 346.5,411.99 346.62,412.65 346.74,414.79 346.86,416.75 346.98,418.19 347.1,419.87 347.22,421.47 347.34,422.75 347.46,422.66 347.58,422.81 347.7,422.53 347.82,421.6 347.94,420.84 348.06,419.78 348.18,418.93 348.3,418.04 348.42,417.46 348.54,417.6 348.66,417.53 348.78,417.47 348.9,417.06 349.02,417.15 349.14,417.37 349.26,416.76 349.38,416.52 350.28,416.38 351.18,416.71 352.08,416.9 352.98,417.56 353.88,417.62 354.78,416.4 355.68,416.77 356.58,416.74 357.48,417.17 358.38,416.69 359.28,416.32 360.18,416.31 361.08,416.83 361.98,416.76 362.88,417.06 363,417.6 363.12,416.83 363.24,416.64 363.36,416.7 363.48,416.79 363.6,416.12 363.72,415.79 363.84,414.95 363.96,414.96 364.08,414.29 364.2,413.86 364.32,413.12 364.44,412.17 364.56,411.8 364.68,411.83 364.8,412.16 364.92,413.04 365.04,414.44 365.16,416.41 365.28,418.36 365.4,420.47 365.52,421.69 365.64,422.58 365.76,423.44 365.88,422.86 366,421.96 366.12,422.19 366.24,420.63 366.36,419.62 366.48,419.52 366.6,418.61 366.72,417.84 366.84,417.58 366.96,417.27 367.08,416.82 367.2,416.28 367.32,416.34 367.44,416.25 367.56,416.43 367.68,416.42 368.58,416.96 369.48,417.19 370.38,416.86 371.28,417.5 372.18,417.9 373.08,416.84 373.98,416.56 374.88,417.4 375.78,417.26 376.68,417.09 377.58,416.9 378.48,416.91 379.38,417.27 380.28,417.31 381.18,417.1 382.08,416.84 382.98,416.75 383.88,417.23 384.78,416.95 385.68,416.93 386.58,416.99 387.48,417.04 388.38,416.59 389.28,417.7 390.18,417.57 391.08,417.81 391.98,417 392.88,416.46 393.78,416.77 394.68,416.77 395.58,416.58 396.48,417.35 397.38,416.77 398.28,416.36 399.18,417.31 400.08,417.29 400.98,416.67 401.88,417.2 402.78,416.82 403.68,416.75 404.58,416.8 405.48,416.89 406.38,417.58 407.28,417.02 408.18,416.72 409.08,416.47 409.98,416.7 410.88,416.49 411.78,416.77 412.68,417.37 413.58,417.86 414.48,417.36 415.38,417.24 416.28,416.93 417.18,416.86 418.08,417.18 418.98,416.42 419.88,416.43 420.78,416.39 421.68,416.39 422.58,416.51 423.48,416.85 424.38,416.83 425.28,417.87 426.18,417.85 427.08,417.15 427.98,416.98 428.88,416.77 429.78,416.96 430.68,416.99 431.58,417.22 432.48,417.14 433.38,417.51 434.28,417.2 435.18,417.13 436.08,417.21 436.9,417.16" fill="none" stroke="#d83a7c" stroke-width="1.4" stroke-linejoin="round" stroke-linecap="round"/>
<polyline points="255.9,431.01 256.8,431.18 257.7,431.3 258.6,431.27 259.5,431.31 260.4,431.05 261.3,430.91 262.2,431.29 263.1,431.54 264,431.19 264.9,431.51 265.8,431.15 266.7,431.53 267.6,431.5 268.5,431.27 269.4,431.3 270.3,430.96 271.2,430.85 272.1,430.77 273,431.13 273.9,431.26 274.8,431.05 275.7,431.05 276.6,430.71 277.5,430.8 278.4,430.58 279.3,431.18 280.2,431.33 281.1,430.96 282,430.81 282.9,431.39 283.8,431.21 284.7,430.75 285.6,430.67 286.5,430.65 287.4,430.76 288.3,430.49 289.2,430.91 290.1,430.76 291,431.43 291.9,431.46 292.8,430.77 293.7,430.61 294.6,430.79 295.5,430.38 296.4,430.31 297.3,431.11 298.2,430.83 299.1,430.71 300,430.92 300.9,431.08 301.8,431.07 302.7,431.3 303.6,430.95 304.5,431.34 305.4,431.54 306.3,431.18 307.2,431.07 308.1,431 309,430.87 309.9,430.59 310.8,430.84 311.7,430.65 312.6,430.6 313.5,430.52 314.4,430.82 315.3,430.6 316.2,431.07 317.1,430.5 318,430.4 318.9,430.64 319.8,430.72 320.7,430.51 321.6,431.44 322.5,431.09 323.4,430.59 324.3,430.8 325.2,431.41 326.1,431.6 327,430.63 327.12,430.11 327.24,430.19 327.36,429.33 327.48,428.56 327.6,427.29 327.72,426.55 327.84,426.28 327.96,425.35 328.08,425.82 328.2,426.4 328.32,427.39 328.44,428.83 328.56,430.55 328.68,432.52 328.8,433.38 328.92,434.99 329.04,435.56 329.16,435.91 329.28,435.98 329.4,435.54 329.52,435.19 329.64,434.12 329.76,433.6 329.88,432.8 330,431.67 330.12,431.15 330.24,431.57 330.36,431.28 330.48,431.4 330.6,431.25 330.72,431 330.84,431.84 330.96,431.85 331.08,431.12 331.98,431.11 332.88,431.14 333.78,430.45 334.68,430.35 335.58,431.07 336.48,431.47 337.38,431.69 338.28,431.09 339.18,431.2 340.08,431.21 340.98,431.12 341.88,430.94 342.78,431.07 343.68,430.49 344.58,429.87 344.7,430.29 344.82,431.08 344.94,430.59 345.06,430.42 345.18,430.49 345.3,429.97 345.42,429.91 345.54,429.35 345.66,428.73 345.78,427.84 345.9,427.41 346.02,427 346.14,426.78 346.26,426.12 346.38,425.79 346.5,426.45 346.62,427.72 346.74,428.62 346.86,430.45 346.98,432.78 347.1,434.25 347.22,434.72 347.34,435.46 347.46,435.46 347.58,435.29 347.7,435.94 347.82,435.07 347.94,434.09 348.06,433.53 348.18,432.55 348.3,432.71 348.42,432.3 348.54,431.81 348.66,431.78 348.78,431.72 348.9,431.57 349.02,430.75 349.14,430.74 349.26,431.47 349.38,431.05 350.28,430.88 351.18,430.67 352.08,431.04 352.98,430.94 353.88,430.81 354.78,431.26 355.68,430.87 356.58,431.22 357.48,431.28 358.38,431.29 359.28,431.46 360.18,431.27 361.08,431.17 361.98,431.64 362.88,431.29 363,431.31 363.12,431.06 363.24,430.74 363.36,430.9 363.48,430.37 363.6,430.54 363.72,430.48 363.84,430.05 363.96,429.22 364.08,428.07 364.2,427.33 364.32,427.6 364.44,426.41 364.56,426.34 364.68,426.36 364.8,426.84 364.92,427.38 365.04,428.41 365.16,430.19 365.28,432.04 365.4,433.58 365.52,435.05 365.64,435.55 365.76,435.58 365.88,435.85 366,435.49 366.12,434.26 366.24,434.23 366.36,433.69 366.48,433.3 366.6,432.52 366.72,432.11 366.84,431.36 366.96,430.84 367.08,431.38 367.2,430.97 367.32,430.36 367.44,430.43 367.56,430.65 367.68,430.7 368.58,430.52 369.48,430.92 370.38,430.96 371.28,431.4 372.18,431.09 373.08,431.53 373.98,431.37 374.88,431.19 375.78,431 376.68,431.19 377.58,431.08 378.48,430.57 379.38,430.76 380.28,430.6 381.18,430.82 382.08,430.49 382.98,430.81 383.88,431.49 384.78,431.06 385.68,431.57 386.58,431.25 387.48,430.85 388.38,430.96 389.28,431.55 390.18,430.91 391.08,430.79 391.98,431.39 392.88,431.14 393.78,431.15 394.68,430.44 395.58,430.83 396.48,430.38 397.38,430.57 398.28,431.08 399.18,430.59 400.08,430.6 400.98,431.43 401.88,431.52 402.78,431.44 403.68,431.48 404.58,431.39 405.48,431.61 406.38,430.94 407.28,431.36 408.18,431.16 409.08,430.9 409.98,430.93 410.88,430.31 411.78,430.72 412.68,430.54 413.58,431.27 414.48,430.96 415.38,431.49 416.28,431.52 417.18,431.98 418.08,431.58 418.98,431.37 419.88,430.72 420.78,430.63 421.68,430.74 422.58,430.57 423.48,430.74 424.38,430.67 425.28,430.72 426.18,431.08 427.08,431.05 427.98,431.11 428.88,431.14 429.78,431.44 430.68,431.01 431.58,430.83 432.48,430.71 433.38,430.68 434.28,430.86 435.18,430.88 436.08,431.03 436.9,430.38" fill="none" stroke="#ea7aaa" stroke-width="1.4" stroke-linejoin="round" stroke-linecap="round"/>
<polyline points="255.9,450.38 256.8,450.36 257.7,450.77 258.6,450.76 259.5,451.11 260.4,451.18 261.3,450.92 262.2,450.45 263.1,450.27 264,450.57 264.9,450.01 265.8,450.58 266.7,451.14 267.6,451.18 268.5,451.53 269.4,451.52 270.3,451.11 271.2,451.56 272.1,450.98 273,451.32 273.9,450.22 274.8,450.46 275.7,450.23 276.6,450.59 277.5,450.44 278.4,450.62 279.3,451 280.2,450.79 281.1,450.93 282,451.05 282.9,450.78 283.8,450.08 284.7,449.73 285.6,449.8 286.5,450.41 287.4,451.3 288.3,451.08 289.2,450.71 290.1,451.05 291,451.12 291.9,450.62 292.8,450.9 293.7,450.81 294.6,450.56 295.5,450.67 296.4,451.04 297.3,451.11 298.2,451.27 299.1,450.81 300,450.65 300.9,451.08 301.8,451.35 302.7,451.65 303.6,451.57 304.5,451 305.4,450.74 306.3,451.42 307.2,451.15 308.1,451.53 309,451.25 309.9,450.52 310.8,450.55 311.7,450.84 312.6,451.34 313.5,451.06 314.4,451.38 315.3,451.53 316.2,451.07 317.1,451.07 318,451.15 318.9,450.44 319.8,450.97 320.7,450.98 321.6,450.57 322.5,450.42 323.4,450.44 324.3,450.33 325.2,450.58 326.1,450.99 327,450.06 327.12,449.48 327.24,449.47 327.36,448.66 327.48,447.93 327.6,446.36 327.72,446 327.84,445.18 327.96,445.13 328.08,445.05 328.2,446.11 328.32,446.95 328.44,448.83 328.56,450.31 328.68,452.13 328.8,453.58 328.92,455.67 329.04,456.52 329.16,457.3 329.28,457.21 329.4,456.58 329.52,455.16 329.64,454.64 329.76,453.9 329.88,453.02 330,451.71 330.12,451.93 330.24,450.83 330.36,450.87 330.48,449.9 330.6,450.17 330.72,451.09 330.84,451.26 330.96,451.02 331.08,451.15 331.98,450.62 332.88,450.65 333.78,451.52 334.68,451.13 335.58,450.93 336.48,450.61 337.38,450.74 338.28,451.13 339.18,450.86 340.08,451.05 340.98,451 341.88,451.15 342.78,450.93 343.68,451.02 344.58,450.59 344.7,451.44 344.82,451.3 344.94,450.54 345.06,451.25 345.18,450.49 345.3,450.23 345.42,449.81 345.54,449 345.66,448.76 345.78,447.9 345.9,446.94 346.02,445.89 346.14,444.74 346.26,444.66 346.38,445.5 346.5,445.99 346.62,446.84 346.74,448.15 346.86,449.75 346.98,451.88 347.1,453.53 347.22,455.06 347.34,456.03 347.46,456.86 347.58,456.72 347.7,455.95 347.82,455.57 347.94,454.89 348.06,454.92 348.18,453.19 348.3,452.62 348.42,451.52 348.54,451.83 348.66,451.78 348.78,451.99 348.9,451.66 349.02,451.88 349.14,450.93 349.26,451.07 349.38,450.99 350.28,451.51 351.18,451.26 352.08,451.61 352.98,450.82 353.88,450.2 354.78,451.11 355.68,450.91 356.58,451.14 357.48,451.52 358.38,451.65 359.28,451.6 360.18,451.36 361.08,450.99 361.98,451.49 362.88,451.28 363,450.71 363.12,451.1 363.24,451.18 363.36,450.07 363.48,449.47 363.6,449.56 363.72,449.91 363.84,448.95 363.96,447.86 364.08,447.92 364.2,446.31 364.32,446.1 364.44,445.12 364.56,445.16 364.68,445.33 364.8,445.84 364.92,447.21 365.04,448.38 365.16,450.14 365.28,451.67 365.4,453.56 365.52,454.69 365.64,456.07 365.76,456.76 365.88,456.47 366,455.88 366.12,455.35 366.24,454.46 366.36,453.01 366.48,452.31 366.6,451.95 366.72,451.43 366.84,451.67 366.96,451.63 367.08,451.12 367.2,451.05 367.32,451.28 367.44,451.4 367.56,451.37 367.68,451.13 368.58,451.2 369.48,450.91 370.38,450.9 371.28,450.79 372.18,450.83 373.08,450.92 373.98,450.81 374.88,450.37 375.78,450.65 376.68,450.11 377.58,450.43 378.48,450.46 379.38,450.54 380.28,450.69 381.18,450.84 382.08,450.51 382.98,449.96 383.88,450.54 384.78,451.13 385.68,450.94 386.58,450.35 387.48,451.02 388.38,451.04 389.28,450.73 390.18,449.98 391.08,450.62 391.98,451.46 392.88,451.05 393.78,450.73 394.68,450.78 395.58,450.97 396.48,450.74 397.38,450.5 398.28,450.45 399.18,450.81 400.08,450.54 400.98,450.2 401.88,450.96 402.78,450.7 403.68,449.55 404.58,450.31 405.48,450.68 406.38,450.56 407.28,450.33 408.18,450.86 409.08,450.6 409.98,451.06 410.88,451.05 411.78,450.93 412.68,451.47 413.58,451.38 414.48,450.46 415.38,450.97 416.28,451.16 417.18,451.28 418.08,451.92 418.98,451.65 419.88,451.62 420.78,451.16 421.68,450.76 422.58,450.63 423.48,450.63 424.38,450.98 425.28,450.98 426.18,451.21 427.08,451.18 427.98,450.66 428.88,450.04 429.78,450.39 430.68,450.98 431.58,450.78 432.48,450.52 433.38,450.54 434.28,450.97 435.18,451.05 436.08,450.65 436.9,450.75" fill="none" stroke="#6aac42" stroke-width="1.4" stroke-linejoin="round" stroke-linecap="round"/>
<polyline points="255.9,468.03 256.8,468.03 257.7,468.35 258.6,468.3 259.5,468.42 260.4,467.88 261.3,468.37 262.2,467.78 263.1,467.2 264,467.6 264.9,468.13 265.8,468.18 266.7,468.54 267.6,468.76 268.5,468.86 269.4,468.45 270.3,468.37 271.2,467.97 272.1,468.07 273,468.22 273.9,468.45 274.8,467.81 275.7,467.06 276.6,467.45 277.5,467.68 278.4,468.2 279.3,468.25 280.2,468.25 281.1,468.54 282,468.14 282.9,468.24 283.8,468.58 284.7,468.98 285.6,469.05 286.5,468.47 287.4,468.68 288.3,468.27 289.2,468.22 290.1,467.89 291,467.74 291.9,467.47 292.8,467.69 293.7,467.43 294.6,467.61 295.5,467.72 296.4,468.17 297.3,467.58 298.2,467.91 299.1,468.23 300,468.44 300.9,468.33 301.8,468.35 302.7,468.46 303.6,468.46 304.5,468.56 305.4,468.75 306.3,469.14 307.2,468.71 308.1,468.48 309,468.6 309.9,468.26 310.8,468.23 311.7,467.95 312.6,468.16 313.5,468.19 314.4,468.28 315.3,468.19 316.2,467.98 317.1,468.17 318,468 318.9,467.87 319.8,468.11 320.7,467.96 321.6,467.27 322.5,467.53 323.4,467.14 324.3,467.52 325.2,468.45 326.1,468.51 327,466.94 327.12,467.56 327.24,466.86 327.36,466.01 327.48,465.44 327.6,464.56 327.72,463.48 327.84,463.14 327.96,463.08 328.08,463.31 328.2,463.91 328.32,464.64 328.44,466.05 328.56,467.3 328.68,469.32 328.8,471.37 328.92,472.14 329.04,473.05 329.16,474.01 329.28,473 329.4,472.26 329.52,472.58 329.64,472.03 329.76,471.32 329.88,470.15 330,469.42 330.12,468.81 330.24,468.78 330.36,468.4 330.48,468.05 330.6,467.74 330.72,468.17 330.84,468.11 330.96,468.26 331.08,467.63 331.98,467.94 332.88,468.08 333.78,468.38 334.68,468.44 335.58,468.23 336.48,468.46 337.38,468.27 338.28,468.36 339.18,468.74 340.08,468.73 340.98,468.25 341.88,468.21 342.78,468.36 343.68,468.75 344.58,468.48 344.7,468.3 344.82,467.94 344.94,467.47 345.06,467.75 345.18,467.56 345.3,467.02 345.42,467.15 345.54,466.62 345.66,466.53 345.78,465.6 345.9,464.63 346.02,464.42 346.14,463.58 346.26,463.55 346.38,463.69 346.5,463.51 346.62,464.16 346.74,465.47 346.86,467.55 346.98,469.01 347.1,471.3 347.22,472.59 347.34,473.41 347.46,473.59 347.58,473.62 347.7,473.19 347.82,472.35 347.94,471.43 348.06,470.38 348.18,469.87 348.3,469.09 348.42,468.29 348.54,468.31 348.66,468.22 348.78,468.04 348.9,468.4 349.02,468.61 349.14,468.91 349.26,468.38 349.38,468.51 350.28,468.43 351.18,468.68 352.08,468.49 352.98,468.21 353.88,467.95 354.78,468.08 355.68,468.42 356.58,468.42 357.48,468.04 358.38,467.81 359.28,468.47 360.18,468.32 361.08,468.7 361.98,468.24 362.88,467.95 363,467.46 363.12,468.11 363.24,467.68 363.36,467.66 363.48,467.87 363.6,467.65 363.72,467.22 363.84,466.32 363.96,466.33 364.08,465.48 364.2,465.1 364.32,463.99 364.44,463.83 364.56,463.43 364.68,463.3 364.8,463.31 364.92,464.82 365.04,465.41 365.16,467.75 365.28,469.29 365.4,471.15 365.52,472.47 365.64,473.58 365.76,473 365.88,473.1 366,472.62 366.12,471.84 366.24,471.32 366.36,470.54 366.48,470.41 366.6,469.43 366.72,469.04 366.84,469.13 366.96,468.53 367.08,468.66 367.2,468.76 367.32,468.38 367.44,468.21 367.56,468.16 367.68,468.5 368.58,468.47 369.48,467.72 370.38,468.29 371.28,467.68 372.18,467.67 373.08,467.31 373.98,467.44 374.88,467.79 375.78,468.06 376.68,468.13 377.58,467.73 378.48,468.03 379.38,468.31 380.28,467.62 381.18,468.03 382.08,467.96 382.98,467.8 383.88,467.75 384.78,467.85 385.68,467.88 386.58,468.16 387.48,468.16 388.38,468.12 389.28,468.03 390.18,468.1 391.08,468.46 391.98,468.73 392.88,468.7 393.78,468.18 394.68,468.65 395.58,468.31 396.48,467.86 397.38,467.93 398.28,468.2 399.18,468.21 400.08,468.2 400.98,467.91 401.88,468.28 402.78,468.19 403.68,468.15 404.58,468.38 405.48,468.63 406.38,468.26 407.28,468.22 408.18,468.32 409.08,468.21 409.98,468.18 410.88,468.3 411.78,468.12 412.68,468.2 413.58,467.61 414.48,467.81 415.38,468.39 416.28,468.17 417.18,467.88 418.08,467.51 418.98,468.18 419.88,468.17 420.78,468.57 421.68,468.78 422.58,468.51 423.48,468.65 424.38,468.37 425.28,468.26 426.18,467.96 427.08,467.87 427.98,468.24 428.88,468.42 429.78,468.13 430.68,468.53 431.58,468.47 432.48,467.98 433.38,467.89 434.28,467.8 435.18,468.05 436.08,468.08 436.9,467.92" fill="none" stroke="#a9dca2" stroke-width="1.4" stroke-linejoin="round" stroke-linecap="round"/>
<polyline points="255.9,487.39 256.8,487.6 257.7,487.72 258.6,487.64 259.5,487.37 260.4,487.08 261.3,487 262.2,487.27 263.1,487.31 264,487.87 264.9,487.81 265.8,487.53 266.7,487.15 267.6,486.48 268.5,486.25 269.4,486.63 270.3,487.26 271.2,487.87 272.1,487.82 273,487.76 273.9,487.6 274.8,487.52 275.7,487.47 276.6,487.12 277.5,486.9 278.4,487.57 279.3,487.47 280.2,488.1 281.1,488.12 282,488.6 282.9,488.28 283.8,487.55 284.7,488.08 285.6,487.48 286.5,487.71 287.4,487.47 288.3,487.19 289.2,487.44 290.1,487.02 291,487.35 291.9,487.57 292.8,487.25 293.7,487.07 294.6,487.14 295.5,487.17 296.4,487.32 297.3,486.91 298.2,487.03 299.1,486.65 300,486.65 300.9,486.76 301.8,487.04 302.7,487.55 303.6,487.37 304.5,487.52 305.4,487.84 306.3,487.54 307.2,487.22 308.1,487.32 309,487.5 309.9,487.14 310.8,487.16 311.7,487.34 312.6,487.18 313.5,487.14 314.4,487.15 315.3,487.33 316.2,487.52 317.1,487.13 318,486.83 318.9,486.54 319.8,487.22 320.7,487.52 321.6,486.82 322.5,486.88 323.4,486.85 324.3,486.61 325.2,487.31 326.1,487.27 327,486.52 327.12,486.63 327.24,485.4 327.36,483.83 327.48,482.22 327.6,481.83 327.72,480.71 327.84,479.36 327.96,478.74 328.08,478.87 328.2,480.33 328.32,482.22 328.44,483.84 328.56,486.92 328.68,489.6 328.8,491.87 328.92,494.12 329.04,495.79 329.16,496.28 329.28,495.93 329.4,495.47 329.52,493.51 329.64,492.54 329.76,491.38 329.88,490.81 330,489.37 330.12,488.3 330.24,488.19 330.36,487.69 330.48,487.68 330.6,487.46 330.72,486.9 330.84,487.29 330.96,487.6 331.08,487.31 331.98,487.12 332.88,486.79 333.78,487.63 334.68,487.68 335.58,487.64 336.48,487.36 337.38,487.23 338.28,487.64 339.18,488.3 340.08,487.53 340.98,487.6 341.88,487.81 342.78,487.68 343.68,487.62 344.58,487.66 344.7,488.25 344.82,487.92 344.94,487.37 345.06,486.76 345.18,486.28 345.3,485.48 345.42,485.54 345.54,485.09 345.66,484.18 345.78,483.48 345.9,482.4 346.02,480.91 346.14,479.35 346.26,479.45 346.38,479.66 346.5,480.35 346.62,481.08 346.74,484.03 346.86,486.41 346.98,488.62 347.1,491.54 347.22,494.16 347.34,495.88 347.46,496.05 347.58,496.19 347.7,495.33 347.82,494.13 347.94,492.53 348.06,491.97 348.18,490.07 348.3,489.77 348.42,488.89 348.54,488.11 348.66,487.54 348.78,487.53 348.9,487.2 349.02,486.85 349.14,486.99 349.26,487.19 349.38,487.43 350.28,487.25 351.18,486.9 352.08,486.68 352.98,486.94 353.88,487.2 354.78,487.15 355.68,487.23 356.58,487.42 357.48,487.61 358.38,487.72 359.28,487.95 360.18,487.67 361.08,487.17 361.98,487.41 362.88,487.34 363,487.18 363.12,487.46 363.24,486.78 363.36,486.69 363.48,486.52 363.6,486.57 363.72,485.64 363.84,485.12 363.96,484.58 364.08,483.31 364.2,482.17 364.32,480.75 364.44,479.67 364.56,479.4 364.68,479.12 364.8,479.37 364.92,481.58 365.04,483.47 365.16,486.3 365.28,489.21 365.4,492.22 365.52,494.65 365.64,495.39 365.76,496.16 365.88,495.72 366,495.31 366.12,494.24 366.24,493.17 366.36,491.39 366.48,490.45 366.6,489.69 366.72,488.97 366.84,488.75 366.96,488.24 367.08,487.44 367.2,486.89 367.32,486.78 367.44,487.36 367.56,487.47 367.68,487.03 368.58,487.02 369.48,487.16 370.38,487.06 371.28,486.73 372.18,486.9 373.08,487.62 373.98,487.55 374.88,487.63 375.78,487.31 376.68,487.73 377.58,487.37 378.48,487.55 379.38,487.99 380.28,487.58 381.18,487.46 382.08,487.56 382.98,487.31 383.88,486.61 384.78,486.91 385.68,486.65 386.58,487.53 387.48,487.36 388.38,487.65 389.28,487.79 390.18,487.25 391.08,487.59 391.98,487.76 392.88,487.98 393.78,487.61 394.68,487.25 395.58,487.1 396.48,487.03 397.38,487.04 398.28,486.88 399.18,487.51 400.08,487.36 400.98,487.5 401.88,487.48 402.78,487.39 403.68,487.25 404.58,487.36 405.48,486.99 406.38,487 407.28,487.48 408.18,487.68 409.08,487.19 409.98,486.96 410.88,487.37 411.78,487.06 412.68,487.05 413.58,487.14 414.48,486.94 415.38,487.13 416.28,487.43 417.18,487.21 418.08,487.37 418.98,487.45 419.88,487.62 420.78,487.05 421.68,487.81 422.58,487.33 423.48,487.35 424.38,487 425.28,487.26 426.18,487.91 427.08,487.85 427.98,486.59 428.88,486.95 429.78,487.01 430.68,487.02 431.58,487.37 432.48,487.37 433.38,487.48 434.28,487.6 435.18,487.6 436.08,487.65 436.9,487.68" fill="none" stroke="#21a2e2" stroke-width="1.4" stroke-linejoin="round" stroke-linecap="round"/>
<polyline points="255.9,508.3 256.8,508.18 257.7,508.31 258.6,508.3 259.5,508.47 260.4,508.27 261.3,508.51 262.2,508.32 263.1,507.46 264,508.05 264.9,508.54 265.8,507.82 266.7,507.51 267.6,508.36 268.5,508.55 269.4,508.19 270.3,508.49 271.2,508.31 272.1,507.91 273,507.74 273.9,508.43 274.8,508.23 275.7,508.21 276.6,508.37 277.5,508.57 278.4,508.71 279.3,508 280.2,508.41 281.1,508.75 282,508.67 282.9,508.58 283.8,508.33 284.7,508.02 285.6,507.92 286.5,508.3 287.4,508.07 288.3,508.32 289.2,508.21 290.1,508.99 291,509.06 291.9,508.9 292.8,508.78 293.7,508.84 294.6,508.78 295.5,508.64 296.4,508.46 297.3,508.38 298.2,508.03 299.1,508.43 300,508.29 300.9,508.28 301.8,508.11 302.7,508.38 303.6,508.59 304.5,507.93 305.4,507.72 306.3,507.77 307.2,507.38 308.1,508.31 309,508.23 309.9,507.7 310.8,508.29 311.7,508.74 312.6,508.34 313.5,507.97 314.4,508.35 315.3,508.24 316.2,508.6 317.1,508.76 318,508.72 318.9,509.34 319.8,509.16 320.7,508.6 321.6,508.65 322.5,508.14 323.4,508.59 324.3,508.3 325.2,508.61 326.1,509.4 327,508.89 327.9,508.69 328.02,508.49 328.14,507.77 328.26,507.82 328.38,507.31 328.5,507.37 328.62,506.19 328.74,505.29 328.86,504.21 328.98,503.11 329.1,501.68 329.22,501.06 329.34,500.69 329.46,500.84 329.58,501.27 329.7,502 329.82,504.47 329.94,506.95 330.06,509.36 330.18,511.82 330.3,514.36 330.42,515.23 330.54,516.01 330.66,516.05 330.78,515.48 330.9,515.06 331.02,513.42 331.14,512.22 331.26,511.3 331.38,509.91 331.5,509.7 331.62,509.22 331.74,509.18 331.86,508.66 331.98,508.09 332.1,508.4 332.22,508.14 332.34,508.25 332.46,508.11 333.36,508.68 334.26,508.68 335.16,508.59 336.06,509.11 336.96,508.63 337.86,508.76 338.76,508.62 339.66,508.45 340.56,508.69 341.46,508.49 342.36,508.71 343.26,508.62 344.16,508.67 345.06,508.7 345.96,508.15 346.86,507.02 346.98,506.83 347.1,506.81 347.22,505.31 347.34,503.95 347.46,502.56 347.58,501.43 347.7,500.79 347.82,500.38 347.94,501.26 348.06,502.28 348.18,503.92 348.3,506.38 348.42,508.73 348.54,511.38 348.66,513.91 348.78,515.56 348.9,516.35 349.02,516.76 349.14,515.24 349.26,514.82 349.38,513.6 349.5,512.42 349.62,511.45 349.74,510.97 349.86,510.08 349.98,510.07 350.1,509.88 350.22,508.96 350.34,508.3 350.46,508.62 350.58,508.36 350.7,508.89 350.82,508.82 351.72,508.55 352.62,509.29 353.52,509.33 354.42,508.39 355.32,508.17 356.22,508.59 357.12,508.05 358.02,508.41 358.92,508.54 359.82,508.06 360.72,508.67 361.62,508.51 362.52,508.25 363.42,508.67 364.32,508.94 365.22,508.24 365.34,507.72 365.46,507.13 365.58,506.62 365.7,505.68 365.82,504.68 365.94,503.38 366.06,502.4 366.18,502.09 366.3,501.27 366.42,501.14 366.54,501.79 366.66,502.45 366.78,503.81 366.9,505.99 367.02,508.92 367.14,511.37 367.26,513.98 367.38,515.69 367.5,516.69 367.62,516.46 367.74,516.05 367.86,515.43 367.98,514.14 368.1,512.6 368.22,511.3 368.34,510.56 368.46,509.53 368.58,508.91 368.7,508.87 368.82,508.69 368.94,508.47 369.06,507.91 369.18,507.94 369.3,507.84 369.42,508.22 370.32,508.11 371.22,507.77 372.12,507.9 373.02,508.51 373.92,508.62 374.82,508.13 375.72,508.51 376.62,509.42 377.52,508.67 378.42,508.9 379.32,509.08 380.22,508.89 381.12,508.03 382.02,507.99 382.92,508.2 383.82,508.36 384.72,508.23 385.62,508.59 386.52,508.39 387.42,508.16 388.32,508.36 389.22,507.8 390.12,508.96 391.02,508.86 391.92,508.84 392.82,508.71 393.72,509.02 394.62,508.98 395.52,508.92 396.42,508.59 397.32,507.79 398.22,507.77 399.12,508.11 400.02,508.03 400.92,507.56 401.82,508.14 402.72,508.51 403.62,508.21 404.52,508.2 405.42,508.25 406.32,507.89 407.22,508.48 408.12,508.63 409.02,508.56 409.92,508.43 410.82,508.39 411.72,508.61 412.62,508.96 413.52,508.82 414.42,508.93 415.32,509 416.22,508.56 417.12,508.44 418.02,508.32 418.92,507.99 419.82,508.13 420.72,507.93 421.62,508.2 422.52,508.68 423.42,508.71 424.32,508.28 425.22,508.72 426.12,508.54 427.02,509.13 427.92,508.21 428.82,508.44 429.72,508.18 430.62,508.26 431.52,508.1 432.42,508.35 433.32,508.09 434.22,508.19 435.12,508.18 436.02,509.35 436.9,509.23" fill="none" stroke="#92d6f4" stroke-width="1.4" stroke-linejoin="round" stroke-linecap="round"/>
<text x="261" y="414" font-size="8.2" text-anchor="start" fill="#1e1e1e" stroke="#1e1e1e" stroke-width="0.15" transform="translate(261 414) scale(1 1.08) translate(-261 -414)">1 min</text>
<text x="261" y="428.8" font-size="8.2" text-anchor="start" fill="#1e1e1e" stroke="#1e1e1e" stroke-width="0.15" transform="translate(261 428.8) scale(1 1.08) translate(-261 -428.8)">5 min</text>
<text x="261" y="447" font-size="8.2" text-anchor="start" fill="#1e1e1e" stroke="#1e1e1e" stroke-width="0.15" transform="translate(261 447) scale(1 1.08) translate(-261 -447)">1 min</text>
<text x="261" y="465" font-size="8.2" text-anchor="start" fill="#1e1e1e" stroke="#1e1e1e" stroke-width="0.15" transform="translate(261 465) scale(1 1.08) translate(-261 -465)">5 min</text>
<text x="261" y="484" font-size="8.2" text-anchor="start" fill="#1e1e1e" stroke="#1e1e1e" stroke-width="0.15" transform="translate(261 484) scale(1 1.08) translate(-261 -484)">1 min</text>
<text x="261" y="505.4" font-size="8.2" text-anchor="start" fill="#1e1e1e" stroke="#1e1e1e" stroke-width="0.15" transform="translate(261 505.4) scale(1 1.08) translate(-261 -505.4)">5 min</text>
<text x="433.6" y="381.8" font-size="7.5" text-anchor="end" fill="#1e1e1e" stroke="#1e1e1e" stroke-width="0.15" transform="translate(433.6 381.8) scale(1 1.08) translate(-433.6 -381.8)">TEMP only</text>
<text x="433.2" y="396.8" font-size="7.5" text-anchor="end" fill="#1e1e1e" stroke="#1e1e1e" stroke-width="0.15" transform="translate(433.2 396.8) scale(1 1.08) translate(-433.2 -396.8)">PMS only</text>
<text x="436.2" y="412.8" font-size="7.5" text-anchor="end" fill="#1e1e1e" stroke="#1e1e1e" stroke-width="0.15" transform="translate(436.2 412.8) scale(1 1.08) translate(-436.2 -412.8)">CoNC-MSi1/PMS</text>
<text x="436.2" y="448.4" font-size="7.5" text-anchor="end" fill="#1e1e1e" stroke="#1e1e1e" stroke-width="0.15" transform="translate(436.2 448.4) scale(1 1.08) translate(-436.2 -448.4)">CoNC-MSi2/PMS</text>
<text x="433.4" y="484.4" font-size="7.5" text-anchor="end" fill="#1e1e1e" stroke="#1e1e1e" stroke-width="0.15" transform="translate(433.4 484.4) scale(1 1.08) translate(-433.4 -484.4)">CoNC-Si/PMS</text>
<rect x="255.5" y="373.5" width="182" height="147" fill="none" stroke="#505050" stroke-width="1.0"/>
<text x="466.8" y="373.4" font-size="12.5" text-anchor="start" fill="#000" stroke="#000" stroke-width="0.15" font-weight="bold" transform="translate(466.8 373.4) scale(1 1.08) translate(-466.8 -373.4)">i</text>
<rect x="485.4" y="449.22" width="23.4" height="70.68" fill="url(#gpink)" stroke="#6e6e6e" stroke-width="0.7"/>
<rect x="510.6" y="493.18" width="23.4" height="26.72" fill="url(#gblue)" stroke="#6e6e6e" stroke-width="0.7"/>
<rect x="546" y="437.42" width="23.4" height="82.48" fill="url(#gpink)" stroke="#6e6e6e" stroke-width="0.7"/>
<rect x="571.6" y="480.2" width="23.4" height="39.7" fill="url(#gblue)" stroke="#6e6e6e" stroke-width="0.7"/>
<rect x="606.4" y="478.43" width="23.4" height="41.47" fill="url(#gpink)" stroke="#6e6e6e" stroke-width="0.7"/>
<rect x="632.4" y="478.9" width="23.4" height="41" fill="url(#gblue)" stroke="#6e6e6e" stroke-width="0.7"/>
<line x1="497.1" y1="448.75" x2="497.1" y2="449.7" stroke="#333" stroke-width="0.7"/>
<line x1="495.3" y1="448.75" x2="498.9" y2="448.75" stroke="#333" stroke-width="0.7"/>
<line x1="495.3" y1="449.7" x2="498.9" y2="449.7" stroke="#333" stroke-width="0.7"/>
<line x1="522.3" y1="487.16" x2="522.3" y2="499.2" stroke="#333" stroke-width="0.7"/>
<line x1="520.5" y1="487.16" x2="524.1" y2="487.16" stroke="#333" stroke-width="0.7"/>
<line x1="520.5" y1="499.2" x2="524.1" y2="499.2" stroke="#333" stroke-width="0.7"/>
<line x1="557.7" y1="436.24" x2="557.7" y2="438.6" stroke="#333" stroke-width="0.7"/>
<line x1="555.9" y1="436.24" x2="559.5" y2="436.24" stroke="#333" stroke-width="0.7"/>
<line x1="555.9" y1="438.6" x2="559.5" y2="438.6" stroke="#333" stroke-width="0.7"/>
<line x1="583.3" y1="474.18" x2="583.3" y2="486.22" stroke="#333" stroke-width="0.7"/>
<line x1="581.5" y1="474.18" x2="585.1" y2="474.18" stroke="#333" stroke-width="0.7"/>
<line x1="581.5" y1="486.22" x2="585.1" y2="486.22" stroke="#333" stroke-width="0.7"/>
<line x1="618.1" y1="477.96" x2="618.1" y2="478.9" stroke="#333" stroke-width="0.7"/>
<line x1="616.3" y1="477.96" x2="619.9" y2="477.96" stroke="#333" stroke-width="0.7"/>
<line x1="616.3" y1="478.9" x2="619.9" y2="478.9" stroke="#333" stroke-width="0.7"/>
<line x1="644.1" y1="470.82" x2="644.1" y2="486.98" stroke="#333" stroke-width="0.7"/>
<line x1="642.3" y1="470.82" x2="645.9" y2="470.82" stroke="#333" stroke-width="0.7"/>
<line x1="642.3" y1="486.98" x2="645.9" y2="486.98" stroke="#333" stroke-width="0.7"/>
<line x1="477.1" y1="520.5" x2="479.5" y2="520.5" stroke="#505050" stroke-width="0.9"/>
<text x="474.8" y="523.06" font-size="8.4" text-anchor="end" fill="#1e1e1e" stroke="#1e1e1e" stroke-width="0.15" transform="translate(474.8 523.06) scale(1 1.08) translate(-474.8 -523.06)">0.00</text>
<line x1="477.1" y1="490.5" x2="479.5" y2="490.5" stroke="#505050" stroke-width="0.9"/>
<text x="474.8" y="493.56" font-size="8.4" text-anchor="end" fill="#1e1e1e" stroke="#1e1e1e" stroke-width="0.15" transform="translate(474.8 493.56) scale(1 1.08) translate(-474.8 -493.56)">0.05</text>
<line x1="477.1" y1="461.5" x2="479.5" y2="461.5" stroke="#505050" stroke-width="0.9"/>
<text x="474.8" y="464.06" font-size="8.4" text-anchor="end" fill="#1e1e1e" stroke="#1e1e1e" stroke-width="0.15" transform="translate(474.8 464.06) scale(1 1.08) translate(-474.8 -464.06)">0.10</text>
<line x1="477.1" y1="431.5" x2="479.5" y2="431.5" stroke="#505050" stroke-width="0.9"/>
<text x="474.8" y="434.56" font-size="8.4" text-anchor="end" fill="#1e1e1e" stroke="#1e1e1e" stroke-width="0.15" transform="translate(474.8 434.56) scale(1 1.08) translate(-474.8 -434.56)">0.15</text>
<line x1="477.1" y1="402.5" x2="479.5" y2="402.5" stroke="#505050" stroke-width="0.9"/>
<text x="474.8" y="405.06" font-size="8.4" text-anchor="end" fill="#1e1e1e" stroke="#1e1e1e" stroke-width="0.15" transform="translate(474.8 405.06) scale(1 1.08) translate(-474.8 -405.06)">0.20</text>
<line x1="478.2" y1="505.5" x2="479.5" y2="505.5" stroke="#505050" stroke-width="0.9"/>
<line x1="478.2" y1="475.5" x2="479.5" y2="475.5" stroke="#505050" stroke-width="0.9"/>
<line x1="478.2" y1="446.5" x2="479.5" y2="446.5" stroke="#505050" stroke-width="0.9"/>
<line x1="478.2" y1="416.5" x2="479.5" y2="416.5" stroke="#505050" stroke-width="0.9"/>
<line x1="478.2" y1="387.5" x2="479.5" y2="387.5" stroke="#505050" stroke-width="0.9"/>
<text x="509.8" y="530.6" font-size="8.9" text-anchor="middle" fill="#1e1e1e" stroke="#1e1e1e" stroke-width="0.15" transform="translate(509.8 530.6) scale(1 1.08) translate(-509.8 -530.6)">CoNC-MSi1</text>
<text x="570.6" y="530.6" font-size="8.9" text-anchor="middle" fill="#1e1e1e" stroke="#1e1e1e" stroke-width="0.15" transform="translate(570.6 530.6) scale(1 1.08) translate(-570.6 -530.6)">CoNC-MSi2</text>
<text x="631" y="530.6" font-size="8.9" text-anchor="middle" fill="#1e1e1e" stroke="#1e1e1e" stroke-width="0.15" transform="translate(631 530.6) scale(1 1.08) translate(-631 -530.6)">CoNC-Si</text>
<text x="453.8" y="446.8" font-size="9.1" text-anchor="middle" fill="#1e1e1e" stroke="#1e1e1e" stroke-width="0.15" transform="translate(453.8 446.8) rotate(-90) scale(1 1.08) translate(-453.8 -446.8)">Concentration (mM)</text>
<rect x="501.4" y="377" width="13" height="8" fill="url(#gpink)" stroke="#888" stroke-width="0.6" rx="1"/>
<text x="517.4" y="383.8" font-size="7.4" text-anchor="start" fill="#1e1e1e" stroke="#1e1e1e" stroke-width="0.15" transform="translate(517.4 383.8) scale(1 1.08) translate(-517.4 -383.8)">PMS consumption</text>
<rect x="587.4" y="377" width="13" height="8" fill="url(#gblue)" stroke="#888" stroke-width="0.6" rx="1"/>
<text x="603" y="384" font-size="7.4" text-anchor="start" fill="#1e1e1e" stroke="#1e1e1e" stroke-width="0.15" transform="translate(603 384) scale(1 1.08) translate(-603 -384)"><tspan font-size="5.5" dy="-3">1</tspan><tspan dy="3">O</tspan><tspan font-size="5.5" dy="2">2</tspan><tspan dy="-2"> yield</tspan></text>
<circle cx="508.6" cy="425" r="20.6" fill="#fff" stroke="#555" stroke-width="0.6"/>
<path d="M508.6,425 L508.6,404.4 A20.6,20.6 0 0 1 526.65,434.92 Z" fill="#e9a6cc" stroke="#555" stroke-width="0.6" stroke-linejoin="round"/>
<circle cx="569.6" cy="415.4" r="20.4" fill="#fff" stroke="#555" stroke-width="0.6"/>
<path d="M569.6,415.4 L569.6,395 A20.4,20.4 0 0 1 573.42,435.44 Z" fill="#c0dca6" stroke="#555" stroke-width="0.6" stroke-linejoin="round"/>
<circle cx="633.4" cy="442" r="20.5" fill="#a6daf2" stroke="#555" stroke-width="0.6"/>
<path d="M633.4,442 L630.83,421.66 A20.5,20.5 0 0 1 633.4,421.5 Z" fill="#fff" stroke="#555" stroke-width="0.6"/>
<text x="508.2" y="399.4" font-size="7.5" text-anchor="middle" fill="#1e1e1e" stroke="#1e1e1e" stroke-width="0.15" transform="translate(508.2 399.4) scale(1 1.08) translate(-508.2 -399.4)">33%</text>
<text x="571.8" y="393.6" font-size="7.3" text-anchor="middle" fill="#1e1e1e" stroke="#1e1e1e" stroke-width="0.15" transform="translate(571.8 393.6) scale(1 1.08) translate(-571.8 -393.6)">47%</text>
<text x="634.8" y="417" font-size="7.3" text-anchor="middle" fill="#1e1e1e" stroke="#1e1e1e" stroke-width="0.15" transform="translate(634.8 417) scale(1 1.08) translate(-634.8 -417)">98%</text>
<text x="518.2" y="421.8" font-size="7.0" text-anchor="middle" fill="#1e1e1e" stroke="#1e1e1e" stroke-width="0.15" transform="translate(518.2 421.8) rotate(9) scale(1 1.08) translate(-518.2 -421.8)"><tspan font-size="4.6" dy="-2.8">1</tspan><tspan dy="2.8">O</tspan><tspan font-size="4.6" dy="1.8">2</tspan></text>
<text x="580.4" y="417.4" font-size="7.0" text-anchor="middle" fill="#1e1e1e" stroke="#1e1e1e" stroke-width="0.15" transform="translate(580.4 417.4) rotate(8) scale(1 1.08) translate(-580.4 -417.4)"><tspan font-size="4.6" dy="-2.8">1</tspan><tspan dy="2.8">O</tspan><tspan font-size="4.6" dy="1.8">2</tspan></text>
<text x="635" y="449.2" font-size="7.0" text-anchor="middle" fill="#1e1e1e" stroke="#1e1e1e" stroke-width="0.15" transform="translate(635 449.2) scale(1 1.08) translate(-635 -449.2)"><tspan font-size="4.6" dy="-2.8">1</tspan><tspan dy="2.8">O</tspan><tspan font-size="4.6" dy="1.8">2</tspan></text>
<rect x="479.5" y="373.5" width="182" height="146" fill="none" stroke="#505050" stroke-width="1.0"/>
</svg>
</body></html>
